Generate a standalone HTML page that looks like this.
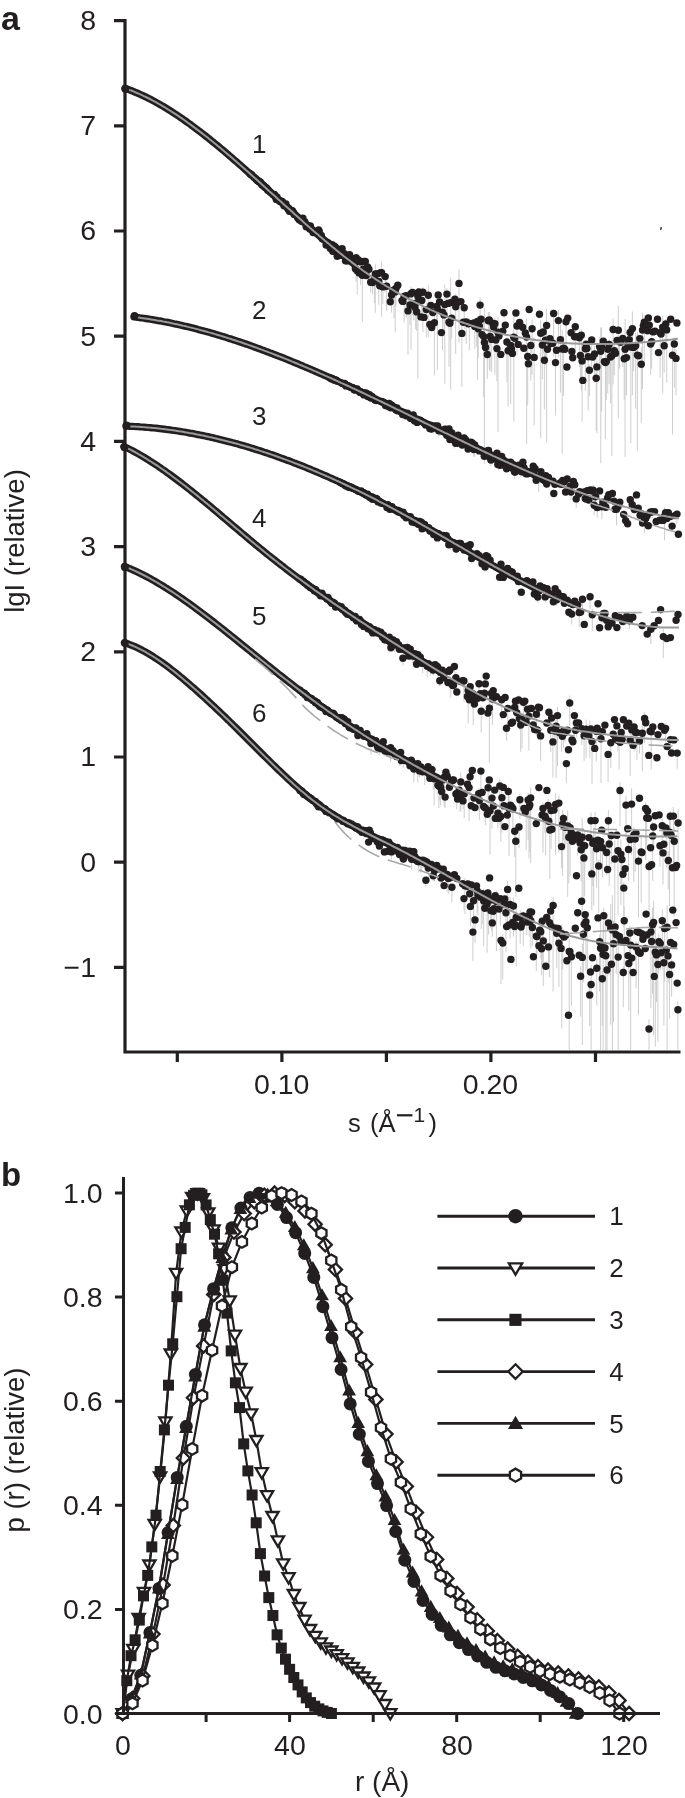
<!DOCTYPE html>
<html><head><meta charset="utf-8"><style>
html,body{margin:0;padding:0;background:#fff;width:685px;height:1798px;overflow:hidden;position:relative;font-family:"Liberation Sans",sans-serif}
</style></head><body>
<svg width="685" height="1798" viewBox="0 0 685 1798" style="position:absolute;left:0;top:0;will-change:transform"><rect width="685" height="1798" fill="#fff"/><path fill="none" stroke="#c8c8c8" stroke-width="0.9" d="M356.1 255.5V281.5M357.2 265.5V294.2M360.6 259.2V284.8M362.3 263.2V322.1M368.9 267.0V286.0M370.7 280.2V292.6M372.6 279.7V294.5M374.4 274.8V303.3M375.3 264.2V312.8M378.0 272.0V288.0M378.8 278.2V304.6M381.6 261.5V316.8M382.9 283.5V304.0M385.2 272.8V292.4M386.6 280.6V311.0M391.6 292.7V312.5M394.0 282.6V318.6M395.2 285.0V332.5M396.0 283.8V306.7M404.1 292.9V322.4M406.1 292.1V318.1M408.0 297.8V354.9M410.0 302.3V324.7M411.0 286.5V349.9M412.5 289.1V315.1M413.8 301.4V320.2M415.7 295.6V329.2M416.7 308.1V331.1M417.9 288.1V378.8M421.8 298.1V319.9M422.9 287.3V332.1M426.3 303.1V337.4M428.3 285.3V337.0M434.4 312.0V375.3M436.7 302.7V325.1M437.4 292.4V370.0M442.5 305.5V350.3M444.0 310.7V336.3M444.8 284.5V383.7M446.9 288.4V315.1M449.0 315.6V366.9M450.7 277.5V389.7M451.7 314.2V338.5M455.7 294.2V354.1M459.0 269.2V342.9M461.9 325.8V386.8M464.2 305.1V328.9M466.2 319.6V344.0M469.4 318.2V350.2M474.8 322.4V348.9M476.7 320.2V346.5M477.5 315.9V380.1M478.2 323.4V358.1M480.1 297.3V334.7M483.7 319.9V397.0M484.4 308.2V463.9M487.3 352.2V378.8M488.3 311.8V356.8M489.3 312.2V369.5M490.1 328.3V371.2M491.7 334.8V372.1M494.9 317.8V374.6M496.9 341.5V381.2M498.0 317.1V432.3M506.9 336.5V382.1M508.1 343.3V406.6M510.7 333.8V404.1M513.8 316.2V421.5M517.0 322.8V355.6M526.6 318.3V443.9M527.7 346.2V405.4M530.8 338.9V380.8M532.1 319.4V374.9M534.2 337.4V424.9M540.7 320.3V438.3M542.3 341.1V379.3M543.2 327.8V354.2M544.4 352.4V409.7M545.5 335.8V365.0M546.6 308.8V442.3M553.6 309.3V356.8M555.5 352.8V415.2M558.4 310.4V357.3M560.4 324.4V392.6M562.2 329.9V453.5M563.6 336.2V395.8M566.0 313.7V353.7M575.3 323.8V349.1M579.4 331.4V366.7M580.4 353.1V380.0M581.3 329.5V390.4M582.1 346.3V421.7M585.4 343.0V390.6M588.2 344.2V410.7M589.4 364.8V396.2M591.7 337.2V366.7M594.6 346.1V382.8M596.2 367.8V430.8M596.9 354.0V432.9M599.6 337.4V379.8M600.8 327.6V463.2M601.6 327.3V411.5M605.4 352.6V439.2M606.3 354.7V400.2M607.8 340.3V393.3M609.1 339.4V383.8M610.6 344.5V403.4M611.9 339.8V456.2M613.1 318.3V384.5M614.3 345.1V375.2M618.3 306.0V418.4M619.5 337.2V368.7M622.7 335.1V366.7M624.2 353.2V399.8M625.1 319.1V456.9M626.5 351.1V395.2M630.8 329.0V443.3M632.4 311.4V395.2M633.6 343.1V371.3M635.7 332.6V408.8M637.4 331.9V451.0M641.3 347.5V423.0M642.5 312.9V389.4M644.3 315.2V364.3M650.6 340.8V374.8M651.7 336.2V368.7M660.1 326.7V377.9M662.7 316.1V393.5M664.2 339.5V372.7M665.8 319.0V346.9M666.7 318.7V382.4M672.5 340.1V434.5M674.3 337.3V387.6M676.0 349.0V395.3M420.0 420.1V421.6M421.0 419.6V425.9M425.6 423.9V428.8M428.0 424.2V426.9M430.6 424.3V428.7M431.5 427.5V432.9M433.3 425.7V430.1M438.8 428.6V436.3M439.9 428.2V435.9M445.8 428.5V432.6M454.3 436.9V448.8M457.0 443.0V445.0M463.0 438.1V444.0M464.1 435.4V445.3M465.7 439.1V446.0M469.0 445.9V449.7M470.1 442.8V447.0M470.9 441.4V445.6M473.8 448.1V456.6M474.7 441.2V456.5M478.0 448.7V451.5M484.3 454.9V460.2M486.7 449.2V455.9M488.5 449.6V452.8M489.4 456.1V459.6M490.9 458.0V466.0M498.9 455.8V470.7M503.6 459.4V464.1M504.7 464.2V469.2M510.6 460.6V466.3M513.3 463.9V466.9M514.5 469.5V478.7M519.1 465.0V467.5M521.5 471.1V474.7M529.9 471.2V475.0M535.1 467.2V478.3M538.7 472.4V492.0M544.3 479.8V484.1M545.8 474.4V483.8M546.7 483.1V488.0M548.5 475.9V482.8M559.3 482.0V488.5M562.7 479.8V484.7M564.3 478.5V492.6M570.0 484.9V493.1M571.0 490.0V500.1M573.4 480.3V485.0M576.2 496.1V508.0M579.6 489.8V496.4M586.2 497.7V503.2M593.2 485.1V506.9M594.2 503.1V515.2M595.5 494.0V511.1M597.3 506.2V517.5M599.6 487.0V505.2M601.9 504.4V519.1M608.8 490.6V506.5M616.5 506.2V525.3M640.1 511.7V524.7M641.3 512.9V518.4M644.6 515.0V533.1M647.2 513.5V521.5M652.2 509.4V518.6M664.6 507.2V540.5M677.0 510.9V523.6M442.6 534.4V540.4M443.4 535.0V536.8M445.2 536.8V541.8M450.4 542.9V550.4M452.3 543.3V547.7M454.2 542.3V545.2M456.2 548.2V553.3M460.5 542.5V547.6M474.2 554.9V561.9M476.9 551.9V559.2M485.1 566.0V571.7M486.2 555.3V558.4M487.7 555.0V560.9M498.4 566.8V571.0M501.0 562.6V573.0M506.1 567.9V576.2M518.4 579.8V586.2M519.6 580.2V586.3M529.4 580.7V589.0M531.5 584.8V591.5M534.3 593.0V598.2M537.8 596.0V602.8M543.5 586.3V595.3M545.2 595.5V602.4M552.1 593.8V598.8M556.7 598.8V605.9M557.8 589.4V601.8M564.4 602.7V606.9M567.2 599.4V604.2M570.3 600.8V610.7M571.7 612.0V624.4M573.0 600.9V614.0M574.7 599.0V606.9M579.2 608.9V627.0M582.5 594.9V614.6M590.1 592.6V608.9M592.3 608.8V631.3M602.0 616.4V623.0M603.6 611.4V620.1M625.3 616.2V624.7M629.4 618.9V628.9M642.2 623.6V630.8M650.8 626.7V644.0M654.1 624.5V632.4M660.6 607.8V614.5M663.3 628.9V658.0M380.7 630.4V640.1M382.6 636.1V640.5M384.7 638.9V644.3M385.4 638.7V642.1M386.5 637.4V642.2M389.3 636.9V640.5M390.1 640.5V648.0M393.1 637.4V649.0M393.8 641.8V649.2M394.8 643.0V652.3M402.9 656.7V665.7M404.1 647.1V654.3M407.4 646.9V652.8M410.3 648.0V658.9M412.4 654.1V663.6M413.6 651.0V663.3M418.0 651.4V665.4M422.7 660.8V673.4M427.2 663.9V677.4M430.3 666.0V675.7M433.0 669.1V675.2M433.8 664.0V674.6M438.1 664.5V682.4M439.8 679.4V686.5M449.9 666.9V685.6M450.8 680.6V697.8M454.4 664.9V673.1M455.9 672.5V693.2M463.9 676.3V701.6M468.2 681.5V723.3M472.4 696.5V708.8M473.2 689.1V725.1M479.0 681.5V701.6M481.2 705.6V732.5M489.4 690.4V762.6M492.5 690.7V724.8M493.2 688.8V704.0M501.7 697.5V719.5M506.5 726.9V740.7M507.8 704.6V732.5M515.5 697.7V722.4M518.6 695.2V714.9M519.5 716.3V729.9M520.7 720.4V751.9M522.0 712.7V748.3M523.4 699.5V717.3M524.8 698.3V710.7M528.9 704.5V750.7M536.4 707.6V736.1M539.5 705.1V718.7M540.6 731.8V761.2M550.8 723.1V752.1M551.6 715.6V730.1M552.9 734.1V777.4M554.9 728.5V745.2M556.1 712.7V778.3M557.5 706.8V766.4M561.6 729.9V752.1M563.4 729.0V748.1M565.0 730.6V742.4M566.4 760.4V783.0M569.7 695.6V726.1M574.4 712.3V739.3M576.4 720.8V737.3M581.8 725.9V744.8M584.1 729.0V760.8M586.1 719.6V758.2M589.8 720.5V758.2M592.0 727.9V783.7M596.3 726.7V761.5M601.0 732.3V783.0M608.1 751.5V782.1M610.8 739.0V768.0M617.9 738.1V751.6M619.1 730.4V769.6M630.2 733.8V776.1M631.8 728.0V744.4M634.1 723.7V751.4M635.5 729.0V750.2M636.9 727.4V760.2M639.5 736.9V753.7M642.3 722.4V771.5M644.6 712.2V742.9M651.2 724.8V769.5M665.6 723.4V744.8M670.5 738.1V752.9M677.2 749.6V768.6M367.5 735.5V744.8M371.0 742.0V754.9M374.0 739.8V744.5M375.8 740.1V743.5M377.5 745.8V751.6M378.3 747.3V753.0M379.1 744.2V755.4M383.3 737.9V753.3M385.0 749.4V756.8M389.8 749.6V755.4M390.6 743.8V762.3M392.9 748.8V759.0M399.6 754.8V766.0M400.6 750.4V765.3M403.4 757.3V767.9M408.8 759.5V766.3M411.3 758.7V764.7M413.0 761.9V768.1M413.8 766.6V782.3M414.5 765.6V775.2M416.3 764.1V774.0M417.8 759.3V782.5M418.7 765.6V770.2M419.6 769.3V777.3M422.5 771.0V776.5M424.8 765.8V785.0M426.3 770.5V776.0M428.1 765.1V774.0M430.8 768.2V775.2M432.0 768.9V773.8M433.2 775.9V790.0M434.2 773.1V805.2M437.2 772.9V794.2M438.9 779.6V808.0M439.7 779.4V800.7M440.6 784.5V805.6M444.2 772.0V806.7M445.1 793.5V807.8M456.7 790.3V809.2M459.1 788.3V797.4M460.1 794.7V811.5M460.8 772.5V811.5M463.0 799.7V809.2M464.2 788.8V818.1M469.1 777.3V821.1M470.1 771.2V794.4M478.7 787.9V811.0M479.4 798.1V819.8M480.9 766.8V799.4M482.1 788.5V811.0M485.3 806.1V825.4M488.1 782.4V807.4M489.3 777.8V792.3M490.0 805.1V854.9M492.0 788.9V828.7M493.4 801.7V818.7M497.9 809.7V828.0M499.8 778.5V824.9M500.8 812.1V841.9M501.9 785.8V832.5M508.3 786.5V806.5M509.0 796.5V855.8M512.9 805.5V834.0M514.7 827.2V856.8M515.8 827.5V896.9M519.0 823.5V847.9M519.9 793.4V818.8M526.2 802.2V849.7M528.1 792.7V839.6M529.0 799.7V858.4M529.8 797.4V851.7M530.7 787.6V863.0M543.0 802.4V852.6M544.9 812.0V833.2M545.7 808.9V855.3M548.1 798.7V827.8M549.8 822.9V878.8M551.1 803.6V848.9M555.6 793.0V854.7M558.9 795.2V852.5M561.5 842.7V868.5M562.6 809.5V875.7M563.5 814.1V840.5M564.8 820.4V850.0M565.9 825.1V845.1M567.7 810.5V897.0M568.8 830.9V883.4M570.1 820.6V875.9M577.7 832.2V855.8M581.2 846.4V881.1M582.2 818.0V923.1M583.9 850.0V904.1M584.7 832.0V895.7M591.0 812.5V873.9M591.8 867.9V910.2M592.8 836.5V886.1M593.7 829.7V905.4M595.1 811.7V849.1M596.6 842.9V887.9M598.7 859.5V912.6M600.6 837.0V864.1M602.5 838.4V877.4M606.6 846.7V875.1M608.4 810.2V853.8M609.2 835.9V885.8M611.3 832.0V864.4M614.8 840.2V944.0M618.0 830.8V914.9M620.0 782.0V826.3M620.9 839.5V905.2M621.9 855.3V890.3M623.8 882.7V927.3M626.0 795.7V840.3M628.5 842.4V880.8M631.6 788.4V854.9M633.8 827.2V881.9M635.2 833.9V871.8M638.5 853.6V917.6M641.2 834.5V902.3M645.6 801.9V859.8M646.7 811.8V849.2M649.1 860.4V917.3M652.7 822.0V880.9M653.6 824.1V847.8M660.0 842.9V867.0M662.2 818.7V850.1M663.0 849.4V884.5M666.8 827.3V867.8M668.3 851.0V889.2M669.5 818.5V906.2M670.3 811.1V835.7M673.4 807.1V867.2M674.2 827.0V916.4M678.1 809.4V865.4M377.2 839.4V849.9M378.2 837.7V843.8M379.4 845.5V848.5M380.4 839.7V845.5M381.6 839.2V843.7M382.4 839.0V851.3M383.6 839.8V844.0M384.4 850.7V856.3M386.0 841.3V844.9M386.7 841.3V847.7M388.8 841.3V849.7M389.6 849.4V854.5M390.3 842.4V853.1M391.4 849.7V859.5M392.9 846.8V850.7M399.5 853.8V859.7M404.2 853.9V858.7M405.0 849.5V854.1M408.4 851.1V857.2M411.7 857.5V870.2M413.0 848.9V863.0M413.8 850.4V860.5M415.9 858.9V864.1M418.7 860.2V872.5M420.7 860.0V872.4M421.6 858.9V872.3M422.9 859.0V868.2M425.9 879.4V886.6M427.0 860.9V872.6M428.3 866.8V878.4M433.2 874.3V881.5M434.5 867.7V881.4M441.0 877.2V883.5M442.2 874.8V884.6M447.1 870.2V891.8M448.4 876.9V893.9M451.9 885.6V902.6M464.0 895.9V910.3M464.9 877.8V914.1M467.2 883.5V895.6M470.4 900.6V926.4M472.9 925.9V960.9M473.6 893.9V925.4M475.0 914.7V943.3M476.5 884.3V896.8M477.2 884.7V912.5M477.9 893.4V915.5M481.3 889.5V928.8M482.2 891.7V905.6M482.9 890.9V924.2M483.7 888.7V946.3M487.1 899.1V952.8M487.9 889.2V915.8M488.6 893.6V934.6M490.8 906.4V928.6M491.6 894.4V930.4M492.3 920.8V936.8M494.0 903.7V926.7M496.4 890.7V951.2M500.3 895.7V925.3M501.0 936.3V984.1M502.8 934.1V979.6M505.9 903.0V952.1M507.6 880.7V929.5M510.0 896.7V938.4M513.5 897.9V936.4M516.2 908.6V966.5M520.2 910.1V943.7M523.3 911.9V945.5M526.8 911.3V935.0M529.2 912.7V936.5M530.8 912.6V948.4M532.4 924.6V945.9M536.3 930.6V971.1M537.0 933.8V955.1M540.8 924.9V958.2M541.6 945.5V975.2M542.2 916.5V967.2M543.3 933.2V986.0M548.5 944.2V969.3M549.6 910.8V977.2M553.1 896.8V991.5M556.7 929.7V968.3M558.9 937.8V986.9M561.8 924.4V1028.5M562.7 927.9V969.6M569.2 938.2V1050.0M571.4 950.4V1005.8M580.6 966.3V1016.7M582.3 943.9V1045.0M583.4 925.9V982.0M585.9 917.3V970.1M587.3 915.5V972.8M589.7 988.0V1026.1M591.1 964.8V1050.0M596.8 958.4V1005.6M599.6 934.6V991.5M600.6 917.7V1050.0M602.3 970.6V1025.7M603.1 924.9V1050.0M603.8 907.5V951.7M605.8 923.8V1050.0M607.0 948.4V1050.0M610.7 903.8V1024.5M612.4 895.2V1050.0M613.5 920.7V1022.1M616.2 929.8V973.8M618.2 933.4V1050.0M623.3 966.6V1007.3M624.2 906.9V969.3M628.8 957.2V1010.7M629.8 926.0V958.4M630.7 929.8V1050.0M636.1 941.1V988.6M638.5 941.5V1015.0M649.0 1019.4V1050.0M650.9 916.5V1008.1M652.5 908.2V993.9M653.6 900.4V1035.4M655.3 925.1V1046.5M656.5 942.8V1002.3M657.9 956.0V1041.8M658.8 933.7V973.8M660.3 937.5V970.0M662.3 909.1V969.6M663.9 944.8V1025.5M664.6 923.8V981.5M667.1 905.4V1050.0M668.0 947.9V982.4M669.6 969.5V1018.9M671.6 959.5V996.6M677.9 1000.8V1050.0"/><g fill="none" stroke="#231f20" stroke-width="7.2" stroke-linecap="round" stroke-linejoin="round"><path d="M124.9 88.3 L126.9 89.0 L128.9 89.7 L130.9 90.5 L132.9 91.2 L134.9 92.1 L136.9 92.9 L138.9 93.8 L140.9 94.7 L142.9 95.6 L144.9 96.5 L146.9 97.5 L148.9 98.5 L150.9 99.5 L152.9 100.6 L154.9 101.7 L156.9 102.8 L158.9 103.9 L160.9 105.1 L162.9 106.2 L164.9 107.4 L166.9 108.6 L168.9 109.9 L170.9 111.1 L172.9 112.4 L174.9 113.7 L176.9 115.0 L178.9 116.4 L180.9 117.8 L182.9 119.1 L184.9 120.5 L186.9 122.0 L188.9 123.4 L190.9 124.8 L192.9 126.3 L194.9 127.8 L196.9 129.3 L198.9 130.8 L200.9 132.4 L202.9 133.9 L204.9 135.5 L206.9 137.0 L208.9 138.6 L210.9 140.2 L212.9 141.9 L214.9 143.5 L216.9 145.1 L218.9 146.8 L220.9 148.5 L222.9 150.1 L224.9 151.8 L226.9 153.5 L228.9 155.2 L230.9 156.9 L232.9 158.7 L234.9 160.4 L236.9 162.1 L238.9 163.9 L240.9 165.6 L242.9 167.4 L244.9 169.2 L246.9 171.0 L248.9 172.7 L250.9 174.5 L252.9 176.3 L254.9 178.1 L256.9 179.9 L258.9 181.7 L260.9 183.5 L262.9 185.3 L264.9 187.1 L266.9 189.0 L268.9 190.8 L270.9 192.6 L272.9 194.4 L274.9 196.2 L276.9 198.0 L278.9 199.9 L280.9 201.7 L282.9 203.5 L284.9 205.3 L286.9 207.1 L288.9 208.9 L290.9 210.7 L292.9 212.5 L294.9 214.3 L296.9 216.1 L298.9 217.9 L300.9 219.7 L302.9 221.5 L304.9 223.3 L306.9 225.0 L308.9 226.8 L310.9 228.6 L312.9 230.3 L314.9 232.0 L316.9 233.8 L318.9 235.5 L320.9 237.2 L322.9 238.9 L324.9 240.6 L326.9 242.3 L328.9 244.0 L330.9 245.6 L332.9 247.3 L334.9 248.9 L336.9 250.6 L338.9 252.2 L340.9 253.8 L342.9 255.4 L344.9 256.9"/><path d="M134.0 317.0 L136.0 317.2 L138.0 317.5 L140.0 317.8 L142.0 318.0 L144.0 318.3 L146.0 318.6 L148.0 318.9 L150.0 319.2 L152.0 319.5 L154.0 319.9 L156.0 320.2 L158.0 320.6 L160.0 320.9 L162.0 321.3 L164.0 321.7 L166.0 322.0 L168.0 322.4 L170.0 322.8 L172.0 323.2 L174.0 323.7 L176.0 324.1 L178.0 324.5 L180.0 325.0 L182.0 325.4 L184.0 325.9 L186.0 326.4 L188.0 326.8 L190.0 327.3 L192.0 327.8 L194.0 328.3 L196.0 328.8 L198.0 329.4 L200.0 329.9 L202.0 330.4 L204.0 331.0 L206.0 331.5 L208.0 332.1 L210.0 332.6 L212.0 333.2 L214.0 333.8 L216.0 334.4 L218.0 335.0 L220.0 335.6 L222.0 336.2 L224.0 336.8 L226.0 337.4 L228.0 338.1 L230.0 338.7 L232.0 339.3 L234.0 340.0 L236.0 340.6 L238.0 341.3 L240.0 342.0 L242.0 342.7 L244.0 343.3 L246.0 344.0 L248.0 344.7 L250.0 345.4 L252.0 346.1 L254.0 346.8 L256.0 347.6 L258.0 348.3 L260.0 349.0 L262.0 349.8 L264.0 350.5 L266.0 351.3 L268.0 352.0 L270.0 352.8 L272.0 353.5 L274.0 354.3 L276.0 355.1 L278.0 355.9 L280.0 356.6 L282.0 357.4 L284.0 358.2 L286.0 359.0 L288.0 359.8 L290.0 360.7 L292.0 361.5 L294.0 362.3 L296.0 363.1 L298.0 363.9 L300.0 364.8 L302.0 365.6 L304.0 366.5 L306.0 367.3 L308.0 368.2 L310.0 369.0 L312.0 369.9 L314.0 370.7 L316.0 371.6 L318.0 372.5 L320.0 373.4 L322.0 374.2 L324.0 375.1 L326.0 376.0 L328.0 376.9 L330.0 377.8 L332.0 378.7 L334.0 379.6 L336.0 380.5 L338.0 381.4 L340.0 382.3 L342.0 383.2 L344.0 384.1 L346.0 385.0 L348.0 386.0 L350.0 386.9 L352.0 387.8 L354.0 388.8 L356.0 389.7 L358.0 390.6 L360.0 391.6 L362.0 392.5 L364.0 393.4 L366.0 394.4 L368.0 395.3 L370.0 396.3 L372.0 397.2 L374.0 398.2 L376.0 399.1 L378.0 400.1 L380.0 401.1 L382.0 402.0 L384.0 403.0 L386.0 403.9 L388.0 404.9 L390.0 405.9 L392.0 406.8 L394.0 407.8 L396.0 408.8 L398.0 409.8 L400.0 410.7 L402.0 411.7 L404.0 412.7 L406.0 413.7 L408.0 414.6 L410.0 415.6 L412.0 416.6 L414.0 417.6 L416.0 418.6 L418.0 419.5 L420.0 420.5 L422.0 421.5 L424.0 422.5 L426.0 423.5 L428.0 424.4 L430.0 425.4 L432.0 426.4 L434.0 427.4 L436.0 428.4 L438.0 429.3 L440.0 430.3 L442.0 431.3 L444.0 432.3 L446.0 433.2 L448.0 434.2 L450.0 435.2 L452.0 436.2 L454.0 437.1 L456.0 438.1 L458.0 439.1 L460.0 440.1 L462.0 441.0 L464.0 442.0 L466.0 443.0 L468.0 443.9 L470.0 444.9 L472.0 445.8 L474.0 446.8 L476.0 447.7 L478.0 448.7 L480.0 449.6 L482.0 450.6 L484.0 451.5 L486.0 452.5 L488.0 453.4 L490.0 454.4 L492.0 455.3 L494.0 456.2 L496.0 457.2 L498.0 458.1 L500.0 459.0 L502.0 459.9 L504.0 460.8 L506.0 461.8 L508.0 462.7 L510.0 463.6 L512.0 464.5 L514.0 465.4 L516.0 466.3 L518.0 467.2 L520.0 468.0 L522.0 468.9 L524.0 469.8 L526.0 470.7 L528.0 471.6 L530.0 472.4 L532.0 473.3"/><path d="M126.0 426.2 L128.0 426.2 L130.0 426.3 L132.0 426.4 L134.0 426.5 L136.0 426.6 L138.0 426.7 L140.0 426.9 L142.0 427.0 L144.0 427.1 L146.0 427.3 L148.0 427.5 L150.0 427.6 L152.0 427.8 L154.0 428.0 L156.0 428.2 L158.0 428.4 L160.0 428.7 L162.0 428.9 L164.0 429.1 L166.0 429.4 L168.0 429.6 L170.0 429.9 L172.0 430.2 L174.0 430.5 L176.0 430.7 L178.0 431.0 L180.0 431.4 L182.0 431.7 L184.0 432.0 L186.0 432.3 L188.0 432.7 L190.0 433.1 L192.0 433.4 L194.0 433.8 L196.0 434.2 L198.0 434.6 L200.0 435.0 L202.0 435.4 L204.0 435.8 L206.0 436.2 L208.0 436.6 L210.0 437.1 L212.0 437.5 L214.0 438.0 L216.0 438.5 L218.0 438.9 L220.0 439.4 L222.0 439.9 L224.0 440.4 L226.0 440.9 L228.0 441.4 L230.0 441.9 L232.0 442.5 L234.0 443.0 L236.0 443.6 L238.0 444.1 L240.0 444.7 L242.0 445.3 L244.0 445.8 L246.0 446.4 L248.0 447.0 L250.0 447.6 L252.0 448.2 L254.0 448.8 L256.0 449.5 L258.0 450.1 L260.0 450.7 L262.0 451.4 L264.0 452.1 L266.0 452.7 L268.0 453.4 L270.0 454.1 L272.0 454.7 L274.0 455.4 L276.0 456.1 L278.0 456.9 L280.0 457.6 L282.0 458.3 L284.0 459.0 L286.0 459.8 L288.0 460.5 L290.0 461.2 L292.0 462.0 L294.0 462.8 L296.0 463.5 L298.0 464.3 L300.0 465.1 L302.0 465.9 L304.0 466.7 L306.0 467.5 L308.0 468.3 L310.0 469.1 L312.0 470.0 L314.0 470.8 L316.0 471.6 L318.0 472.5 L320.0 473.3 L322.0 474.2 L324.0 475.1 L326.0 475.9 L328.0 476.8 L330.0 477.7 L332.0 478.6 L334.0 479.5 L336.0 480.4 L338.0 481.3 L340.0 482.2 L342.0 483.1 L344.0 484.1 L346.0 485.0 L348.0 485.9 L350.0 486.9 L352.0 487.8 L354.0 488.8 L356.0 489.8 L358.0 490.7 L360.0 491.7 L362.0 492.7 L364.0 493.7 L366.0 494.7 L368.0 495.7 L370.0 496.7 L372.0 497.7 L374.0 498.7 L376.0 499.7 L378.0 500.8 L380.0 501.8 L382.0 502.8 L384.0 503.9 L386.0 504.9 L388.0 506.0 L390.0 507.0 L392.0 508.1 L394.0 509.2 L396.0 510.3 L398.0 511.3 L400.0 512.4 L402.0 513.5 L404.0 514.6 L406.0 515.7 L408.0 516.8 L410.0 517.9 L412.0 519.0 L414.0 520.2 L416.0 521.3 L418.0 522.4 L420.0 523.6 L422.0 524.7 L424.0 525.8 L426.0 527.0 L428.0 528.1 L430.0 529.3 L432.0 530.4 L434.0 531.6 L436.0 532.7 L438.0 533.9 L440.0 535.0 L442.0 536.2 L444.0 537.4 L446.0 538.5 L448.0 539.7 L450.0 540.8 L452.0 542.0 L454.0 543.2 L456.0 544.3 L458.0 545.5 L460.0 546.7 L462.0 547.8 L464.0 549.0 L466.0 550.1 L468.0 551.3 L470.0 552.5 L472.0 553.6 L474.0 554.8 L476.0 555.9 L478.0 557.1 L480.0 558.2 L482.0 559.4 L484.0 560.5 L486.0 561.7 L488.0 562.8 L490.0 563.9 L492.0 565.1 L494.0 566.2 L496.0 567.3 L498.0 568.4 L500.0 569.5 L502.0 570.7 L504.0 571.8 L506.0 572.9 L508.0 574.0 L510.0 575.0 L512.0 576.1 L514.0 577.2 L516.0 578.3 L518.0 579.4 L520.0 580.4 L522.0 581.5 L524.0 582.5 L526.0 583.6 L528.0 584.6 L530.0 585.6 L532.0 586.6 L534.0 587.7 L536.0 588.7 L538.0 589.7 L540.0 590.6"/><path d="M123.9 446.4 L125.9 447.4 L127.9 448.4 L129.9 449.4 L131.9 450.4 L133.9 451.5 L135.9 452.6 L137.9 453.7 L139.9 454.8 L141.9 456.0 L143.9 457.2 L145.9 458.4 L147.9 459.6 L149.9 460.9 L151.9 462.2 L153.9 463.5 L155.9 464.8 L157.9 466.1 L159.9 467.5 L161.9 468.9 L163.9 470.2 L165.9 471.7 L167.9 473.1 L169.9 474.5 L171.9 476.0 L173.9 477.5 L175.9 479.0 L177.9 480.5 L179.9 482.0 L181.9 483.5 L183.9 485.1 L185.9 486.6 L187.9 488.2 L189.9 489.8 L191.9 491.4 L193.9 493.0 L195.9 494.6 L197.9 496.2 L199.9 497.8 L201.9 499.5 L203.9 501.1 L205.9 502.8 L207.9 504.4 L209.9 506.1 L211.9 507.8 L213.9 509.5 L215.9 511.1 L217.9 512.8 L219.9 514.5 L221.9 516.2 L223.9 517.9 L225.9 519.6 L227.9 521.3 L229.9 523.0 L231.9 524.7 L233.9 526.4 L235.9 528.1 L237.9 529.8 L239.9 531.5 L241.9 533.2 L243.9 534.8 L245.9 536.5 L247.9 538.2 L249.9 539.9 L251.9 541.6 L253.9 543.2 L255.9 544.9 L257.9 546.5 L259.9 548.2 L261.9 549.8 L263.9 551.4 L265.9 553.1 L267.9 554.7 L269.9 556.3 L271.9 557.9 L273.9 559.4 L275.9 561.0 L277.9 562.6 L279.9 564.1 L281.9 565.7 L283.9 567.2 L285.9 568.8 L287.9 570.3 L289.9 571.8 L291.9 573.3 L293.9 574.8 L295.9 576.3 L297.9 577.8 L299.9 579.3 L301.9 580.7 L303.9 582.2 L305.9 583.7 L307.9 585.1 L309.9 586.6 L311.9 588.0 L313.9 589.4 L315.9 590.9 L317.9 592.3 L319.9 593.7 L321.9 595.1 L323.9 596.5 L325.9 597.9 L327.9 599.3 L329.9 600.7 L331.9 602.1 L333.9 603.5 L335.9 604.8 L337.9 606.2 L339.9 607.6 L341.9 608.9 L343.9 610.3 L345.9 611.6 L347.9 613.0 L349.9 614.3 L351.9 615.6 L353.9 617.0 L355.9 618.3 L357.9 619.6 L359.9 620.9 L361.9 622.3 L363.9 623.6 L365.9 624.9 L367.9 626.2 L369.9 627.5 L371.9 628.8 L373.9 630.1 L375.9 631.4 L377.9 632.7 L379.9 634.0 L381.9 635.3 L383.9 636.6 L385.9 637.9 L387.9 639.1 L389.9 640.4 L391.9 641.7 L393.9 643.0 L395.9 644.3 L397.9 645.6 L399.9 646.8 L401.9 648.1 L403.9 649.4 L405.9 650.7 L407.9 651.9 L409.9 653.2 L411.9 654.5 L413.9 655.7 L415.9 657.0 L417.9 658.3 L419.9 659.5 L421.9 660.8 L423.9 662.0 L425.9 663.3 L427.9 664.5 L429.9 665.8 L431.9 667.0 L433.9 668.2 L435.9 669.5 L437.9 670.7 L439.9 671.9 L441.9 673.1 L443.9 674.3"/><path d="M124.4 566.4 L126.4 567.2 L128.4 568.0 L130.4 568.8 L132.4 569.7 L134.4 570.6 L136.4 571.5 L138.4 572.5 L140.4 573.5 L142.4 574.5 L144.4 575.5 L146.4 576.5 L148.4 577.6 L150.4 578.7 L152.4 579.8 L154.4 580.9 L156.4 582.1 L158.4 583.3 L160.4 584.5 L162.4 585.7 L164.4 586.9 L166.4 588.2 L168.4 589.4 L170.4 590.7 L172.4 592.0 L174.4 593.3 L176.4 594.7 L178.4 596.0 L180.4 597.4 L182.4 598.8 L184.4 600.2 L186.4 601.6 L188.4 603.0 L190.4 604.4 L192.4 605.9 L194.4 607.3 L196.4 608.8 L198.4 610.3 L200.4 611.8 L202.4 613.3 L204.4 614.8 L206.4 616.3 L208.4 617.9 L210.4 619.4 L212.4 621.0 L214.4 622.5 L216.4 624.1 L218.4 625.6 L220.4 627.2 L222.4 628.8 L224.4 630.4 L226.4 632.0 L228.4 633.6 L230.4 635.2 L232.4 636.8 L234.4 638.4 L236.4 640.0 L238.4 641.6 L240.4 643.2 L242.4 644.9 L244.4 646.5 L246.4 648.1 L248.4 649.7 L250.4 651.3 L252.4 653.0 L254.4 654.6 L256.4 656.2 L258.4 657.8 L260.4 659.4 L262.4 661.0 L264.4 662.6 L266.4 664.2 L268.4 665.8 L270.4 667.4 L272.4 669.0 L274.4 670.6 L276.4 672.2 L278.4 673.8 L280.4 675.3 L282.4 676.9 L284.4 678.5 L286.4 680.1 L288.4 681.6 L290.4 683.2 L292.4 684.7 L294.4 686.3 L296.4 687.8 L298.4 689.3 L300.4 690.8 L302.4 692.4 L304.4 693.9 L306.4 695.4 L308.4 696.9 L310.4 698.4 L312.4 699.8 L314.4 701.3 L316.4 702.8 L318.4 704.2 L320.4 705.7 L322.4 707.1 L324.4 708.6 L326.4 710.0 L328.4 711.4 L330.4 712.8 L332.4 714.2 L334.4 715.6 L336.4 716.9 L338.4 718.3 L340.4 719.7 L342.4 721.0 L344.4 722.4 L346.4 723.7 L348.4 725.0 L350.4 726.4 L352.4 727.7 L354.4 729.0 L356.4 730.3 L358.4 731.6 L360.4 732.9 L362.4 734.2 L364.4 735.4 L366.4 736.7 L368.4 738.0 L370.4 739.2 L372.4 740.5 L374.4 741.7 L376.4 742.9 L378.4 744.2 L380.4 745.4 L382.4 746.6 L384.4 747.8 L386.4 749.0 L388.4 750.2 L390.4 751.4 L392.4 752.6 L394.4 753.8 L396.4 755.0 L398.4 756.1 L400.4 757.3 L402.4 758.5 L404.4 759.6 L406.4 760.8 L408.4 761.9 L410.4 763.1 L412.4 764.2 L414.4 765.3 L416.4 766.4 L418.4 767.5 L420.4 768.7 L422.4 769.8 L424.4 770.8 L426.4 771.9 L428.4 773.0 L430.4 774.1 L432.4 775.1 L434.4 776.2 L436.4 777.3 L438.4 778.3"/><path d="M124.4 642.6 L126.4 643.3 L128.4 644.0 L130.4 644.8 L132.4 645.6 L134.4 646.4 L136.4 647.3 L138.4 648.3 L140.4 649.3 L142.4 650.3 L144.4 651.4 L146.4 652.5 L148.4 653.7 L150.4 654.9 L152.4 656.1 L154.4 657.4 L156.4 658.7 L158.4 660.0 L160.4 661.4 L162.4 662.8 L164.4 664.2 L166.4 665.7 L168.4 667.2 L170.4 668.7 L172.4 670.3 L174.4 671.8 L176.4 673.4 L178.4 675.0 L180.4 676.7 L182.4 678.3 L184.4 680.0 L186.4 681.7 L188.4 683.4 L190.4 685.2 L192.4 686.9 L194.4 688.6 L196.4 690.4 L198.4 692.2 L200.4 694.0 L202.4 695.8 L204.4 697.6 L206.4 699.5 L208.4 701.3 L210.4 703.2 L212.4 705.0 L214.4 706.9 L216.4 708.8 L218.4 710.7 L220.4 712.6 L222.4 714.5 L224.4 716.4 L226.4 718.4 L228.4 720.3 L230.4 722.3 L232.4 724.2 L234.4 726.2 L236.4 728.1 L238.4 730.1 L240.4 732.1 L242.4 734.1 L244.4 736.1 L246.4 738.1 L248.4 740.1 L250.4 742.1 L252.4 744.1 L254.4 746.1 L256.4 748.1 L258.4 750.1 L260.4 752.1 L262.4 754.1 L264.4 756.1 L266.4 758.0 L268.4 760.0 L270.4 762.0 L272.4 764.0 L274.4 765.9 L276.4 767.9 L278.4 769.8 L280.4 771.7 L282.4 773.6 L284.4 775.5 L286.4 777.4 L288.4 779.3 L290.4 781.1 L292.4 783.0 L294.4 784.8 L296.4 786.6 L298.4 788.3 L300.4 790.1 L302.4 791.8 L304.4 793.5 L306.4 795.1 L308.4 796.8 L310.4 798.4 L312.4 800.0 L314.4 801.5 L316.4 803.1 L318.4 804.5 L320.4 806.0 L322.4 807.4 L324.4 808.8 L326.4 810.2 L328.4 811.5 L330.4 812.8 L332.4 814.1 L334.4 815.4 L336.4 816.6 L338.4 817.8 L340.4 819.0 L342.4 820.2 L344.4 821.3 L346.4 822.5 L348.4 823.6 L350.4 824.7 L352.4 825.8 L354.4 826.9 L356.4 827.9 L358.4 829.0 L360.4 830.0 L362.4 831.0 L364.4 832.0 L366.4 833.0 L368.4 834.0 L370.4 835.0 L372.4 836.0 L374.4 837.0 L376.4 838.0 L378.4 839.0 L380.4 840.0 L382.4 841.0 L384.4 842.0 L386.4 842.9 L388.4 843.9 L390.4 844.9 L392.4 845.9 L394.4 847.0 L396.4 848.0 L398.4 849.0 L400.4 850.1 L402.4 851.1 L404.4 852.1 L406.4 853.2 L408.4 854.3 L410.4 855.3 L412.4 856.4 L414.4 857.5 L416.4 858.6 L418.4 859.6 L420.4 860.7 L422.4 861.8 L424.4 862.9 L426.4 864.0 L428.4 865.1"/></g><g fill="#231f20"><circle cx="250.0" cy="173.7" r="3.7"/><circle cx="251.0" cy="174.5" r="3.7"/><circle cx="252.0" cy="175.3" r="3.7"/><circle cx="254.2" cy="177.5" r="3.7"/><circle cx="256.1" cy="179.0" r="3.7"/><circle cx="256.7" cy="180.0" r="3.7"/><circle cx="257.4" cy="180.4" r="3.7"/><circle cx="258.4" cy="181.3" r="3.7"/><circle cx="259.1" cy="181.2" r="3.7"/><circle cx="260.5" cy="182.1" r="3.7"/><circle cx="261.4" cy="183.8" r="3.7"/><circle cx="262.3" cy="185.0" r="3.7"/><circle cx="262.9" cy="185.2" r="3.7"/><circle cx="263.8" cy="185.8" r="3.7"/><circle cx="264.5" cy="186.9" r="3.7"/><circle cx="265.6" cy="187.5" r="3.7"/><circle cx="266.3" cy="187.9" r="3.7"/><circle cx="267.1" cy="188.6" r="3.7"/><circle cx="267.7" cy="190.3" r="3.7"/><circle cx="268.3" cy="190.1" r="3.7"/><circle cx="270.4" cy="192.2" r="3.7"/><circle cx="272.9" cy="194.4" r="3.7"/><circle cx="274.5" cy="194.5" r="3.7"/><circle cx="275.2" cy="196.6" r="3.7"/><circle cx="276.3" cy="199.4" r="3.7"/><circle cx="276.9" cy="196.9" r="3.7"/><circle cx="278.0" cy="199.6" r="3.7"/><circle cx="278.6" cy="200.2" r="3.7"/><circle cx="280.1" cy="201.6" r="3.7"/><circle cx="280.9" cy="201.0" r="3.7"/><circle cx="281.9" cy="202.1" r="3.7"/><circle cx="282.5" cy="201.8" r="3.7"/><circle cx="283.5" cy="203.8" r="3.7"/><circle cx="284.0" cy="205.8" r="3.7"/><circle cx="285.1" cy="204.6" r="3.7"/><circle cx="285.9" cy="203.9" r="3.7"/><circle cx="287.3" cy="207.3" r="3.7"/><circle cx="288.0" cy="208.9" r="3.7"/><circle cx="288.9" cy="208.4" r="3.7"/><circle cx="289.4" cy="211.3" r="3.7"/><circle cx="291.1" cy="210.5" r="3.7"/><circle cx="291.6" cy="211.2" r="3.7"/><circle cx="292.4" cy="210.6" r="3.7"/><circle cx="293.4" cy="212.4" r="3.7"/><circle cx="294.1" cy="214.5" r="3.7"/><circle cx="297.6" cy="217.7" r="3.7"/><circle cx="299.2" cy="219.8" r="3.7"/><circle cx="301.2" cy="220.9" r="3.7"/><circle cx="302.2" cy="221.4" r="3.7"/><circle cx="302.9" cy="218.1" r="3.7"/><circle cx="304.8" cy="221.6" r="3.7"/><circle cx="306.2" cy="226.8" r="3.7"/><circle cx="307.9" cy="226.3" r="3.7"/><circle cx="308.6" cy="226.2" r="3.7"/><circle cx="309.8" cy="229.0" r="3.7"/><circle cx="310.4" cy="226.0" r="3.7"/><circle cx="311.0" cy="228.7" r="3.7"/><circle cx="312.2" cy="230.3" r="3.7"/><circle cx="313.1" cy="232.6" r="3.7"/><circle cx="313.7" cy="231.2" r="3.7"/><circle cx="314.9" cy="231.8" r="3.7"/><circle cx="317.9" cy="231.9" r="3.7"/><circle cx="318.6" cy="230.0" r="3.7"/><circle cx="319.2" cy="231.5" r="3.7"/><circle cx="321.3" cy="235.4" r="3.7"/><circle cx="322.2" cy="238.7" r="3.7"/><circle cx="326.1" cy="245.1" r="3.7"/><circle cx="327.3" cy="242.5" r="3.7"/><circle cx="328.6" cy="243.3" r="3.7"/><circle cx="330.2" cy="248.3" r="3.7"/><circle cx="331.1" cy="245.7" r="3.7"/><circle cx="332.1" cy="244.6" r="3.7"/><circle cx="332.8" cy="251.3" r="3.7"/><circle cx="333.6" cy="251.1" r="3.7"/><circle cx="334.5" cy="246.2" r="3.7"/><circle cx="335.6" cy="247.5" r="3.7"/><circle cx="337.2" cy="256.3" r="3.7"/><circle cx="338.6" cy="250.8" r="3.7"/><circle cx="339.4" cy="249.4" r="3.7"/><circle cx="340.1" cy="250.5" r="3.7"/><circle cx="341.1" cy="255.4" r="3.7"/><circle cx="342.1" cy="248.6" r="3.7"/><circle cx="344.3" cy="253.7" r="3.7"/><circle cx="345.5" cy="260.8" r="3.7"/><circle cx="346.4" cy="258.5" r="3.7"/><circle cx="347.3" cy="260.9" r="3.7"/><circle cx="348.1" cy="258.8" r="3.7"/><circle cx="349.6" cy="254.6" r="3.7"/><circle cx="350.5" cy="258.7" r="3.7"/><circle cx="352.0" cy="262.3" r="3.7"/><circle cx="353.0" cy="260.5" r="3.7"/><circle cx="353.7" cy="262.1" r="3.7"/><circle cx="354.4" cy="264.4" r="3.7"/><circle cx="355.4" cy="268.8" r="3.7"/><circle cx="356.1" cy="257.8" r="3.7"/><circle cx="357.2" cy="270.8" r="3.7"/><circle cx="358.4" cy="259.9" r="3.7"/><circle cx="359.2" cy="272.9" r="3.7"/><circle cx="360.6" cy="261.9" r="3.7"/><circle cx="362.3" cy="275.2" r="3.7"/><circle cx="363.2" cy="269.1" r="3.7"/><circle cx="364.0" cy="261.5" r="3.7"/><circle cx="365.3" cy="261.4" r="3.7"/><circle cx="366.3" cy="275.6" r="3.7"/><circle cx="367.6" cy="267.0" r="3.7"/><circle cx="368.9" cy="269.3" r="3.7"/><circle cx="370.7" cy="282.2" r="3.7"/><circle cx="372.6" cy="282.5" r="3.7"/><circle cx="374.4" cy="278.2" r="3.7"/><circle cx="375.3" cy="273.9" r="3.7"/><circle cx="378.0" cy="273.6" r="3.7"/><circle cx="378.8" cy="281.5" r="3.7"/><circle cx="379.7" cy="285.7" r="3.7"/><circle cx="380.6" cy="272.6" r="3.7"/><circle cx="381.6" cy="272.7" r="3.7"/><circle cx="382.9" cy="286.9" r="3.7"/><circle cx="385.2" cy="276.6" r="3.7"/><circle cx="386.6" cy="286.2" r="3.7"/><circle cx="390.3" cy="301.7" r="3.7"/><circle cx="391.6" cy="294.9" r="3.7"/><circle cx="392.8" cy="290.4" r="3.7"/><circle cx="394.0" cy="290.2" r="3.7"/><circle cx="395.2" cy="291.9" r="3.7"/><circle cx="396.0" cy="288.4" r="3.7"/><circle cx="397.8" cy="285.2" r="3.7"/><circle cx="402.0" cy="300.6" r="3.7"/><circle cx="402.9" cy="301.4" r="3.7"/><circle cx="404.1" cy="296.4" r="3.7"/><circle cx="406.1" cy="295.6" r="3.7"/><circle cx="408.0" cy="310.9" r="3.7"/><circle cx="410.0" cy="305.0" r="3.7"/><circle cx="411.0" cy="293.7" r="3.7"/><circle cx="412.5" cy="292.4" r="3.7"/><circle cx="413.8" cy="304.6" r="3.7"/><circle cx="414.9" cy="307.2" r="3.7"/><circle cx="415.7" cy="303.1" r="3.7"/><circle cx="416.7" cy="311.9" r="3.7"/><circle cx="417.9" cy="296.6" r="3.7"/><circle cx="418.8" cy="291.9" r="3.7"/><circle cx="419.9" cy="292.6" r="3.7"/><circle cx="421.0" cy="316.9" r="3.7"/><circle cx="421.8" cy="300.5" r="3.7"/><circle cx="422.9" cy="292.2" r="3.7"/><circle cx="424.0" cy="317.4" r="3.7"/><circle cx="426.3" cy="309.6" r="3.7"/><circle cx="428.3" cy="295.2" r="3.7"/><circle cx="429.9" cy="324.5" r="3.7"/><circle cx="430.8" cy="305.5" r="3.7"/><circle cx="431.7" cy="327.6" r="3.7"/><circle cx="432.8" cy="312.6" r="3.7"/><circle cx="434.4" cy="322.8" r="3.7"/><circle cx="436.7" cy="306.5" r="3.7"/><circle cx="437.4" cy="309.1" r="3.7"/><circle cx="438.2" cy="294.9" r="3.7"/><circle cx="439.6" cy="302.0" r="3.7"/><circle cx="441.4" cy="332.6" r="3.7"/><circle cx="442.5" cy="312.1" r="3.7"/><circle cx="444.0" cy="314.9" r="3.7"/><circle cx="444.8" cy="304.6" r="3.7"/><circle cx="446.9" cy="294.1" r="3.7"/><circle cx="447.9" cy="303.4" r="3.7"/><circle cx="449.0" cy="322.3" r="3.7"/><circle cx="449.9" cy="323.3" r="3.7"/><circle cx="450.7" cy="302.6" r="3.7"/><circle cx="451.7" cy="318.1" r="3.7"/><circle cx="454.9" cy="299.3" r="3.7"/><circle cx="455.7" cy="306.7" r="3.7"/><circle cx="457.7" cy="302.2" r="3.7"/><circle cx="459.0" cy="283.4" r="3.7"/><circle cx="460.9" cy="301.6" r="3.7"/><circle cx="461.9" cy="333.4" r="3.7"/><circle cx="463.3" cy="322.3" r="3.7"/><circle cx="464.2" cy="307.8" r="3.7"/><circle cx="466.2" cy="321.9" r="3.7"/><circle cx="468.3" cy="323.7" r="3.7"/><circle cx="469.4" cy="323.4" r="3.7"/><circle cx="473.9" cy="323.0" r="3.7"/><circle cx="474.8" cy="326.4" r="3.7"/><circle cx="476.7" cy="323.0" r="3.7"/><circle cx="477.5" cy="321.5" r="3.7"/><circle cx="478.2" cy="328.8" r="3.7"/><circle cx="479.3" cy="325.9" r="3.7"/><circle cx="480.1" cy="305.1" r="3.7"/><circle cx="481.1" cy="319.3" r="3.7"/><circle cx="482.0" cy="334.6" r="3.7"/><circle cx="483.7" cy="336.6" r="3.7"/><circle cx="484.4" cy="342.5" r="3.7"/><circle cx="485.5" cy="347.4" r="3.7"/><circle cx="487.3" cy="354.5" r="3.7"/><circle cx="488.3" cy="320.7" r="3.7"/><circle cx="489.3" cy="319.9" r="3.7"/><circle cx="490.1" cy="336.4" r="3.7"/><circle cx="491.7" cy="339.4" r="3.7"/><circle cx="492.5" cy="323.1" r="3.7"/><circle cx="493.6" cy="327.1" r="3.7"/><circle cx="494.9" cy="323.7" r="3.7"/><circle cx="495.9" cy="340.0" r="3.7"/><circle cx="496.9" cy="348.6" r="3.7"/><circle cx="498.0" cy="332.3" r="3.7"/><circle cx="499.0" cy="335.9" r="3.7"/><circle cx="500.8" cy="354.4" r="3.7"/><circle cx="502.8" cy="331.2" r="3.7"/><circle cx="504.0" cy="312.8" r="3.7"/><circle cx="505.3" cy="325.1" r="3.7"/><circle cx="506.9" cy="342.0" r="3.7"/><circle cx="508.1" cy="350.8" r="3.7"/><circle cx="510.7" cy="345.4" r="3.7"/><circle cx="511.5" cy="349.0" r="3.7"/><circle cx="512.4" cy="353.4" r="3.7"/><circle cx="513.8" cy="337.2" r="3.7"/><circle cx="514.8" cy="338.2" r="3.7"/><circle cx="515.9" cy="313.0" r="3.7"/><circle cx="517.0" cy="326.0" r="3.7"/><circle cx="518.2" cy="344.4" r="3.7"/><circle cx="519.6" cy="322.5" r="3.7"/><circle cx="522.6" cy="327.2" r="3.7"/><circle cx="523.8" cy="348.3" r="3.7"/><circle cx="525.3" cy="332.9" r="3.7"/><circle cx="526.6" cy="337.0" r="3.7"/><circle cx="527.7" cy="356.4" r="3.7"/><circle cx="528.4" cy="363.7" r="3.7"/><circle cx="529.2" cy="309.5" r="3.7"/><circle cx="530.8" cy="345.5" r="3.7"/><circle cx="532.1" cy="328.7" r="3.7"/><circle cx="534.2" cy="357.4" r="3.7"/><circle cx="539.5" cy="314.2" r="3.7"/><circle cx="540.7" cy="333.3" r="3.7"/><circle cx="542.3" cy="345.1" r="3.7"/><circle cx="543.2" cy="332.0" r="3.7"/><circle cx="544.4" cy="360.3" r="3.7"/><circle cx="545.5" cy="340.2" r="3.7"/><circle cx="546.6" cy="325.5" r="3.7"/><circle cx="547.5" cy="349.2" r="3.7"/><circle cx="550.0" cy="338.6" r="3.7"/><circle cx="551.0" cy="343.6" r="3.7"/><circle cx="552.8" cy="343.2" r="3.7"/><circle cx="553.6" cy="313.5" r="3.7"/><circle cx="555.5" cy="362.6" r="3.7"/><circle cx="556.5" cy="350.2" r="3.7"/><circle cx="558.4" cy="320.6" r="3.7"/><circle cx="560.4" cy="339.7" r="3.7"/><circle cx="562.2" cy="349.1" r="3.7"/><circle cx="563.6" cy="348.1" r="3.7"/><circle cx="564.8" cy="349.2" r="3.7"/><circle cx="566.0" cy="321.7" r="3.7"/><circle cx="566.9" cy="367.0" r="3.7"/><circle cx="567.8" cy="318.1" r="3.7"/><circle cx="571.1" cy="332.8" r="3.7"/><circle cx="571.9" cy="351.5" r="3.7"/><circle cx="572.7" cy="357.8" r="3.7"/><circle cx="574.5" cy="336.7" r="3.7"/><circle cx="575.3" cy="326.7" r="3.7"/><circle cx="577.6" cy="336.7" r="3.7"/><circle cx="579.4" cy="337.7" r="3.7"/><circle cx="580.4" cy="355.5" r="3.7"/><circle cx="581.3" cy="335.3" r="3.7"/><circle cx="582.1" cy="360.9" r="3.7"/><circle cx="582.8" cy="380.4" r="3.7"/><circle cx="585.4" cy="348.7" r="3.7"/><circle cx="586.1" cy="344.2" r="3.7"/><circle cx="586.9" cy="348.6" r="3.7"/><circle cx="588.2" cy="356.7" r="3.7"/><circle cx="589.4" cy="370.3" r="3.7"/><circle cx="591.7" cy="339.9" r="3.7"/><circle cx="592.6" cy="357.0" r="3.7"/><circle cx="594.6" cy="353.9" r="3.7"/><circle cx="596.2" cy="378.2" r="3.7"/><circle cx="596.9" cy="366.9" r="3.7"/><circle cx="599.6" cy="346.8" r="3.7"/><circle cx="600.8" cy="351.3" r="3.7"/><circle cx="601.6" cy="346.2" r="3.7"/><circle cx="603.3" cy="341.3" r="3.7"/><circle cx="604.4" cy="361.6" r="3.7"/><circle cx="605.4" cy="362.6" r="3.7"/><circle cx="606.3" cy="361.6" r="3.7"/><circle cx="607.8" cy="349.2" r="3.7"/><circle cx="609.1" cy="344.4" r="3.7"/><circle cx="610.6" cy="357.0" r="3.7"/><circle cx="611.9" cy="355.8" r="3.7"/><circle cx="613.1" cy="329.5" r="3.7"/><circle cx="614.3" cy="350.6" r="3.7"/><circle cx="615.6" cy="353.2" r="3.7"/><circle cx="617.1" cy="340.4" r="3.7"/><circle cx="618.3" cy="330.2" r="3.7"/><circle cx="619.5" cy="341.4" r="3.7"/><circle cx="620.5" cy="342.2" r="3.7"/><circle cx="622.7" cy="338.5" r="3.7"/><circle cx="624.2" cy="358.7" r="3.7"/><circle cx="625.1" cy="349.2" r="3.7"/><circle cx="626.5" cy="357.6" r="3.7"/><circle cx="628.0" cy="344.0" r="3.7"/><circle cx="629.2" cy="339.8" r="3.7"/><circle cx="630.1" cy="332.4" r="3.7"/><circle cx="630.8" cy="347.1" r="3.7"/><circle cx="632.4" cy="328.6" r="3.7"/><circle cx="633.6" cy="347.4" r="3.7"/><circle cx="635.7" cy="345.7" r="3.7"/><circle cx="637.4" cy="355.1" r="3.7"/><circle cx="638.6" cy="355.7" r="3.7"/><circle cx="639.8" cy="338.6" r="3.7"/><circle cx="641.3" cy="364.2" r="3.7"/><circle cx="642.5" cy="330.1" r="3.7"/><circle cx="643.4" cy="325.6" r="3.7"/><circle cx="644.3" cy="322.3" r="3.7"/><circle cx="645.9" cy="324.9" r="3.7"/><circle cx="647.6" cy="330.8" r="3.7"/><circle cx="648.4" cy="318.0" r="3.7"/><circle cx="649.3" cy="325.3" r="3.7"/><circle cx="650.6" cy="344.1" r="3.7"/><circle cx="651.7" cy="341.6" r="3.7"/><circle cx="653.1" cy="331.9" r="3.7"/><circle cx="655.0" cy="331.1" r="3.7"/><circle cx="657.5" cy="319.2" r="3.7"/><circle cx="658.5" cy="352.6" r="3.7"/><circle cx="660.1" cy="332.7" r="3.7"/><circle cx="661.1" cy="334.1" r="3.7"/><circle cx="662.7" cy="327.1" r="3.7"/><circle cx="664.2" cy="345.7" r="3.7"/><circle cx="665.8" cy="323.9" r="3.7"/><circle cx="666.7" cy="329.9" r="3.7"/><circle cx="670.7" cy="319.2" r="3.7"/><circle cx="672.5" cy="355.3" r="3.7"/><circle cx="674.3" cy="344.0" r="3.7"/><circle cx="676.0" cy="358.4" r="3.7"/><circle cx="676.9" cy="323.0" r="3.7"/><circle cx="330.0" cy="377.8" r="3.7"/><circle cx="331.2" cy="378.8" r="3.7"/><circle cx="332.1" cy="378.4" r="3.7"/><circle cx="333.2" cy="379.2" r="3.7"/><circle cx="334.0" cy="380.0" r="3.7"/><circle cx="334.8" cy="379.6" r="3.7"/><circle cx="336.1" cy="380.2" r="3.7"/><circle cx="336.9" cy="380.9" r="3.7"/><circle cx="342.0" cy="383.2" r="3.7"/><circle cx="343.6" cy="383.6" r="3.7"/><circle cx="344.6" cy="383.4" r="3.7"/><circle cx="345.9" cy="385.9" r="3.7"/><circle cx="347.7" cy="385.6" r="3.7"/><circle cx="348.5" cy="386.0" r="3.7"/><circle cx="350.6" cy="387.1" r="3.7"/><circle cx="351.2" cy="387.4" r="3.7"/><circle cx="351.9" cy="387.4" r="3.7"/><circle cx="352.7" cy="387.8" r="3.7"/><circle cx="353.9" cy="389.5" r="3.7"/><circle cx="354.7" cy="390.1" r="3.7"/><circle cx="355.5" cy="389.3" r="3.7"/><circle cx="356.2" cy="389.4" r="3.7"/><circle cx="357.1" cy="388.9" r="3.7"/><circle cx="358.7" cy="390.9" r="3.7"/><circle cx="360.1" cy="392.4" r="3.7"/><circle cx="360.7" cy="391.7" r="3.7"/><circle cx="362.2" cy="392.9" r="3.7"/><circle cx="363.2" cy="392.8" r="3.7"/><circle cx="363.9" cy="394.9" r="3.7"/><circle cx="365.8" cy="392.9" r="3.7"/><circle cx="367.1" cy="393.6" r="3.7"/><circle cx="367.8" cy="396.5" r="3.7"/><circle cx="369.5" cy="394.6" r="3.7"/><circle cx="370.9" cy="398.0" r="3.7"/><circle cx="371.9" cy="396.5" r="3.7"/><circle cx="372.9" cy="398.0" r="3.7"/><circle cx="374.9" cy="399.9" r="3.7"/><circle cx="376.4" cy="400.6" r="3.7"/><circle cx="377.2" cy="400.4" r="3.7"/><circle cx="381.2" cy="401.5" r="3.7"/><circle cx="382.4" cy="401.8" r="3.7"/><circle cx="384.0" cy="402.5" r="3.7"/><circle cx="385.5" cy="405.5" r="3.7"/><circle cx="387.6" cy="405.0" r="3.7"/><circle cx="388.4" cy="406.5" r="3.7"/><circle cx="389.1" cy="403.5" r="3.7"/><circle cx="389.9" cy="404.5" r="3.7"/><circle cx="390.7" cy="407.8" r="3.7"/><circle cx="391.7" cy="405.1" r="3.7"/><circle cx="394.3" cy="407.3" r="3.7"/><circle cx="395.3" cy="408.8" r="3.7"/><circle cx="396.0" cy="409.9" r="3.7"/><circle cx="397.0" cy="408.0" r="3.7"/><circle cx="398.0" cy="410.9" r="3.7"/><circle cx="400.9" cy="411.7" r="3.7"/><circle cx="402.6" cy="414.6" r="3.7"/><circle cx="403.8" cy="412.5" r="3.7"/><circle cx="405.0" cy="414.4" r="3.7"/><circle cx="406.1" cy="415.8" r="3.7"/><circle cx="407.4" cy="413.3" r="3.7"/><circle cx="409.1" cy="416.1" r="3.7"/><circle cx="410.4" cy="418.3" r="3.7"/><circle cx="411.2" cy="418.1" r="3.7"/><circle cx="412.4" cy="417.1" r="3.7"/><circle cx="413.2" cy="415.0" r="3.7"/><circle cx="414.4" cy="420.7" r="3.7"/><circle cx="415.2" cy="420.5" r="3.7"/><circle cx="417.1" cy="422.4" r="3.7"/><circle cx="420.0" cy="420.3" r="3.7"/><circle cx="421.0" cy="420.9" r="3.7"/><circle cx="423.9" cy="422.8" r="3.7"/><circle cx="425.6" cy="424.9" r="3.7"/><circle cx="426.7" cy="424.2" r="3.7"/><circle cx="428.0" cy="424.9" r="3.7"/><circle cx="429.8" cy="428.6" r="3.7"/><circle cx="430.6" cy="425.2" r="3.7"/><circle cx="431.5" cy="429.0" r="3.7"/><circle cx="433.3" cy="426.5" r="3.7"/><circle cx="434.6" cy="425.9" r="3.7"/><circle cx="435.4" cy="426.4" r="3.7"/><circle cx="437.6" cy="425.9" r="3.7"/><circle cx="438.8" cy="430.7" r="3.7"/><circle cx="439.9" cy="429.7" r="3.7"/><circle cx="445.0" cy="429.3" r="3.7"/><circle cx="445.8" cy="429.5" r="3.7"/><circle cx="446.7" cy="435.2" r="3.7"/><circle cx="447.8" cy="433.3" r="3.7"/><circle cx="449.0" cy="428.9" r="3.7"/><circle cx="449.9" cy="439.5" r="3.7"/><circle cx="451.8" cy="432.9" r="3.7"/><circle cx="453.2" cy="439.6" r="3.7"/><circle cx="454.3" cy="439.1" r="3.7"/><circle cx="455.6" cy="443.2" r="3.7"/><circle cx="457.0" cy="443.3" r="3.7"/><circle cx="458.1" cy="435.2" r="3.7"/><circle cx="461.3" cy="440.2" r="3.7"/><circle cx="462.2" cy="445.1" r="3.7"/><circle cx="463.0" cy="439.1" r="3.7"/><circle cx="464.1" cy="438.0" r="3.7"/><circle cx="465.7" cy="440.0" r="3.7"/><circle cx="466.7" cy="444.8" r="3.7"/><circle cx="468.1" cy="449.1" r="3.7"/><circle cx="469.0" cy="446.9" r="3.7"/><circle cx="470.1" cy="443.6" r="3.7"/><circle cx="470.9" cy="442.2" r="3.7"/><circle cx="472.2" cy="442.9" r="3.7"/><circle cx="473.8" cy="449.5" r="3.7"/><circle cx="474.7" cy="445.0" r="3.7"/><circle cx="478.0" cy="449.3" r="3.7"/><circle cx="479.3" cy="450.9" r="3.7"/><circle cx="480.1" cy="450.0" r="3.7"/><circle cx="483.2" cy="452.1" r="3.7"/><circle cx="484.3" cy="456.2" r="3.7"/><circle cx="486.7" cy="451.1" r="3.7"/><circle cx="488.5" cy="450.5" r="3.7"/><circle cx="489.4" cy="457.0" r="3.7"/><circle cx="490.9" cy="460.1" r="3.7"/><circle cx="493.8" cy="458.8" r="3.7"/><circle cx="497.0" cy="453.2" r="3.7"/><circle cx="497.8" cy="464.5" r="3.7"/><circle cx="498.9" cy="457.6" r="3.7"/><circle cx="500.1" cy="465.3" r="3.7"/><circle cx="501.0" cy="464.2" r="3.7"/><circle cx="501.7" cy="456.5" r="3.7"/><circle cx="503.6" cy="460.1" r="3.7"/><circle cx="504.7" cy="465.6" r="3.7"/><circle cx="505.5" cy="463.1" r="3.7"/><circle cx="506.6" cy="468.8" r="3.7"/><circle cx="508.3" cy="462.4" r="3.7"/><circle cx="509.3" cy="463.9" r="3.7"/><circle cx="510.6" cy="462.2" r="3.7"/><circle cx="512.0" cy="467.9" r="3.7"/><circle cx="513.3" cy="464.7" r="3.7"/><circle cx="514.5" cy="471.8" r="3.7"/><circle cx="515.2" cy="472.1" r="3.7"/><circle cx="516.5" cy="466.2" r="3.7"/><circle cx="517.8" cy="467.1" r="3.7"/><circle cx="519.1" cy="465.3" r="3.7"/><circle cx="521.5" cy="471.8" r="3.7"/><circle cx="522.9" cy="462.2" r="3.7"/><circle cx="524.0" cy="467.7" r="3.7"/><circle cx="525.5" cy="473.3" r="3.7"/><circle cx="526.6" cy="473.9" r="3.7"/><circle cx="528.4" cy="473.6" r="3.7"/><circle cx="529.9" cy="471.6" r="3.7"/><circle cx="533.2" cy="466.1" r="3.7"/><circle cx="534.2" cy="474.7" r="3.7"/><circle cx="535.1" cy="468.8" r="3.7"/><circle cx="536.2" cy="480.2" r="3.7"/><circle cx="538.7" cy="477.2" r="3.7"/><circle cx="540.9" cy="471.6" r="3.7"/><circle cx="542.4" cy="479.2" r="3.7"/><circle cx="544.3" cy="480.6" r="3.7"/><circle cx="545.8" cy="475.8" r="3.7"/><circle cx="546.7" cy="484.0" r="3.7"/><circle cx="547.5" cy="480.8" r="3.7"/><circle cx="548.5" cy="477.5" r="3.7"/><circle cx="553.0" cy="481.1" r="3.7"/><circle cx="553.8" cy="493.5" r="3.7"/><circle cx="554.9" cy="484.3" r="3.7"/><circle cx="559.3" cy="483.8" r="3.7"/><circle cx="560.5" cy="482.8" r="3.7"/><circle cx="561.7" cy="484.2" r="3.7"/><circle cx="562.7" cy="480.5" r="3.7"/><circle cx="564.3" cy="481.6" r="3.7"/><circle cx="565.6" cy="492.0" r="3.7"/><circle cx="567.2" cy="478.9" r="3.7"/><circle cx="570.0" cy="486.2" r="3.7"/><circle cx="571.0" cy="492.1" r="3.7"/><circle cx="573.4" cy="481.4" r="3.7"/><circle cx="574.8" cy="484.7" r="3.7"/><circle cx="576.2" cy="498.9" r="3.7"/><circle cx="578.6" cy="494.1" r="3.7"/><circle cx="579.6" cy="491.6" r="3.7"/><circle cx="584.2" cy="492.0" r="3.7"/><circle cx="585.3" cy="498.6" r="3.7"/><circle cx="586.2" cy="498.9" r="3.7"/><circle cx="587.3" cy="490.6" r="3.7"/><circle cx="588.9" cy="500.1" r="3.7"/><circle cx="590.3" cy="489.9" r="3.7"/><circle cx="591.8" cy="491.0" r="3.7"/><circle cx="593.2" cy="490.2" r="3.7"/><circle cx="594.2" cy="505.2" r="3.7"/><circle cx="595.5" cy="496.7" r="3.7"/><circle cx="597.3" cy="507.6" r="3.7"/><circle cx="599.6" cy="490.9" r="3.7"/><circle cx="601.9" cy="506.8" r="3.7"/><circle cx="602.9" cy="502.3" r="3.7"/><circle cx="604.1" cy="505.5" r="3.7"/><circle cx="605.8" cy="507.3" r="3.7"/><circle cx="607.6" cy="497.9" r="3.7"/><circle cx="608.8" cy="494.7" r="3.7"/><circle cx="612.4" cy="493.4" r="3.7"/><circle cx="613.9" cy="501.1" r="3.7"/><circle cx="615.1" cy="509.3" r="3.7"/><circle cx="616.5" cy="509.2" r="3.7"/><circle cx="618.1" cy="506.6" r="3.7"/><circle cx="619.8" cy="502.1" r="3.7"/><circle cx="623.7" cy="514.5" r="3.7"/><circle cx="625.6" cy="520.6" r="3.7"/><circle cx="627.6" cy="523.7" r="3.7"/><circle cx="630.2" cy="499.7" r="3.7"/><circle cx="632.2" cy="504.6" r="3.7"/><circle cx="634.4" cy="509.5" r="3.7"/><circle cx="636.5" cy="494.9" r="3.7"/><circle cx="638.2" cy="508.3" r="3.7"/><circle cx="640.1" cy="515.2" r="3.7"/><circle cx="641.3" cy="513.8" r="3.7"/><circle cx="642.6" cy="523.0" r="3.7"/><circle cx="644.6" cy="519.5" r="3.7"/><circle cx="645.7" cy="518.5" r="3.7"/><circle cx="647.2" cy="515.4" r="3.7"/><circle cx="648.3" cy="525.8" r="3.7"/><circle cx="650.3" cy="512.3" r="3.7"/><circle cx="652.2" cy="511.7" r="3.7"/><circle cx="654.5" cy="511.6" r="3.7"/><circle cx="656.2" cy="521.5" r="3.7"/><circle cx="659.8" cy="520.3" r="3.7"/><circle cx="662.9" cy="520.4" r="3.7"/><circle cx="664.6" cy="515.9" r="3.7"/><circle cx="665.6" cy="512.8" r="3.7"/><circle cx="666.9" cy="518.5" r="3.7"/><circle cx="668.3" cy="512.6" r="3.7"/><circle cx="670.2" cy="516.5" r="3.7"/><circle cx="672.1" cy="526.1" r="3.7"/><circle cx="674.9" cy="515.6" r="3.7"/><circle cx="677.0" cy="514.1" r="3.7"/><circle cx="678.4" cy="534.3" r="3.7"/><circle cx="340.0" cy="482.2" r="3.7"/><circle cx="342.2" cy="483.4" r="3.7"/><circle cx="343.5" cy="483.9" r="3.7"/><circle cx="344.7" cy="485.0" r="3.7"/><circle cx="346.1" cy="486.0" r="3.7"/><circle cx="347.4" cy="486.0" r="3.7"/><circle cx="348.7" cy="487.2" r="3.7"/><circle cx="349.4" cy="486.6" r="3.7"/><circle cx="350.1" cy="487.6" r="3.7"/><circle cx="351.1" cy="487.2" r="3.7"/><circle cx="352.7" cy="488.2" r="3.7"/><circle cx="355.1" cy="489.1" r="3.7"/><circle cx="356.4" cy="489.7" r="3.7"/><circle cx="358.4" cy="491.3" r="3.7"/><circle cx="361.1" cy="491.0" r="3.7"/><circle cx="362.6" cy="492.7" r="3.7"/><circle cx="363.3" cy="492.7" r="3.7"/><circle cx="364.0" cy="493.0" r="3.7"/><circle cx="364.7" cy="494.1" r="3.7"/><circle cx="366.2" cy="495.1" r="3.7"/><circle cx="367.6" cy="494.3" r="3.7"/><circle cx="369.0" cy="496.4" r="3.7"/><circle cx="369.9" cy="497.5" r="3.7"/><circle cx="371.7" cy="496.7" r="3.7"/><circle cx="372.4" cy="499.3" r="3.7"/><circle cx="373.2" cy="497.7" r="3.7"/><circle cx="374.6" cy="498.5" r="3.7"/><circle cx="376.2" cy="498.5" r="3.7"/><circle cx="377.1" cy="499.2" r="3.7"/><circle cx="377.9" cy="501.7" r="3.7"/><circle cx="379.5" cy="501.4" r="3.7"/><circle cx="380.8" cy="503.1" r="3.7"/><circle cx="383.0" cy="503.4" r="3.7"/><circle cx="387.0" cy="507.5" r="3.7"/><circle cx="387.9" cy="504.8" r="3.7"/><circle cx="389.0" cy="507.4" r="3.7"/><circle cx="389.8" cy="509.2" r="3.7"/><circle cx="391.0" cy="507.0" r="3.7"/><circle cx="391.9" cy="506.7" r="3.7"/><circle cx="393.2" cy="509.0" r="3.7"/><circle cx="394.0" cy="509.3" r="3.7"/><circle cx="396.5" cy="510.7" r="3.7"/><circle cx="397.5" cy="510.1" r="3.7"/><circle cx="398.5" cy="512.1" r="3.7"/><circle cx="399.2" cy="510.9" r="3.7"/><circle cx="400.7" cy="512.2" r="3.7"/><circle cx="402.1" cy="512.6" r="3.7"/><circle cx="403.1" cy="512.1" r="3.7"/><circle cx="403.9" cy="515.6" r="3.7"/><circle cx="405.3" cy="515.7" r="3.7"/><circle cx="406.1" cy="517.8" r="3.7"/><circle cx="407.9" cy="517.1" r="3.7"/><circle cx="410.3" cy="516.7" r="3.7"/><circle cx="412.1" cy="521.9" r="3.7"/><circle cx="414.4" cy="522.5" r="3.7"/><circle cx="415.5" cy="520.7" r="3.7"/><circle cx="416.6" cy="522.4" r="3.7"/><circle cx="418.2" cy="524.2" r="3.7"/><circle cx="419.3" cy="521.4" r="3.7"/><circle cx="420.3" cy="524.3" r="3.7"/><circle cx="421.3" cy="522.1" r="3.7"/><circle cx="422.1" cy="528.7" r="3.7"/><circle cx="423.2" cy="524.2" r="3.7"/><circle cx="424.6" cy="524.5" r="3.7"/><circle cx="426.0" cy="527.7" r="3.7"/><circle cx="428.6" cy="527.7" r="3.7"/><circle cx="429.9" cy="531.0" r="3.7"/><circle cx="432.6" cy="531.9" r="3.7"/><circle cx="433.7" cy="534.6" r="3.7"/><circle cx="437.4" cy="537.9" r="3.7"/><circle cx="438.5" cy="533.7" r="3.7"/><circle cx="442.6" cy="535.8" r="3.7"/><circle cx="443.4" cy="535.5" r="3.7"/><circle cx="445.2" cy="538.1" r="3.7"/><circle cx="446.3" cy="535.8" r="3.7"/><circle cx="447.7" cy="538.7" r="3.7"/><circle cx="448.8" cy="544.8" r="3.7"/><circle cx="450.4" cy="544.0" r="3.7"/><circle cx="452.3" cy="544.4" r="3.7"/><circle cx="454.2" cy="543.0" r="3.7"/><circle cx="456.2" cy="549.1" r="3.7"/><circle cx="457.7" cy="545.5" r="3.7"/><circle cx="458.9" cy="543.4" r="3.7"/><circle cx="460.5" cy="543.4" r="3.7"/><circle cx="462.5" cy="547.5" r="3.7"/><circle cx="464.1" cy="550.0" r="3.7"/><circle cx="465.3" cy="547.6" r="3.7"/><circle cx="466.3" cy="546.1" r="3.7"/><circle cx="468.4" cy="550.4" r="3.7"/><circle cx="470.2" cy="544.7" r="3.7"/><circle cx="471.6" cy="558.5" r="3.7"/><circle cx="474.2" cy="556.1" r="3.7"/><circle cx="476.9" cy="553.7" r="3.7"/><circle cx="479.3" cy="555.7" r="3.7"/><circle cx="482.0" cy="563.7" r="3.7"/><circle cx="484.0" cy="562.8" r="3.7"/><circle cx="485.1" cy="566.9" r="3.7"/><circle cx="486.2" cy="555.7" r="3.7"/><circle cx="487.7" cy="556.6" r="3.7"/><circle cx="488.9" cy="562.5" r="3.7"/><circle cx="490.1" cy="560.3" r="3.7"/><circle cx="498.4" cy="568.0" r="3.7"/><circle cx="499.6" cy="577.2" r="3.7"/><circle cx="501.0" cy="564.3" r="3.7"/><circle cx="502.3" cy="571.1" r="3.7"/><circle cx="503.3" cy="577.4" r="3.7"/><circle cx="506.1" cy="569.9" r="3.7"/><circle cx="507.6" cy="568.5" r="3.7"/><circle cx="510.5" cy="571.5" r="3.7"/><circle cx="512.3" cy="572.1" r="3.7"/><circle cx="517.3" cy="576.3" r="3.7"/><circle cx="518.4" cy="581.4" r="3.7"/><circle cx="519.6" cy="580.9" r="3.7"/><circle cx="521.3" cy="592.2" r="3.7"/><circle cx="526.9" cy="580.6" r="3.7"/><circle cx="529.4" cy="582.8" r="3.7"/><circle cx="531.5" cy="585.7" r="3.7"/><circle cx="532.9" cy="581.9" r="3.7"/><circle cx="534.3" cy="594.1" r="3.7"/><circle cx="535.5" cy="594.0" r="3.7"/><circle cx="537.8" cy="597.1" r="3.7"/><circle cx="540.1" cy="585.9" r="3.7"/><circle cx="542.4" cy="588.3" r="3.7"/><circle cx="543.5" cy="587.7" r="3.7"/><circle cx="545.2" cy="596.9" r="3.7"/><circle cx="547.1" cy="588.8" r="3.7"/><circle cx="549.0" cy="593.4" r="3.7"/><circle cx="550.1" cy="594.2" r="3.7"/><circle cx="552.1" cy="594.9" r="3.7"/><circle cx="553.4" cy="601.8" r="3.7"/><circle cx="555.1" cy="588.7" r="3.7"/><circle cx="556.7" cy="599.7" r="3.7"/><circle cx="557.8" cy="592.6" r="3.7"/><circle cx="560.6" cy="596.1" r="3.7"/><circle cx="563.3" cy="596.7" r="3.7"/><circle cx="564.4" cy="603.3" r="3.7"/><circle cx="567.2" cy="600.2" r="3.7"/><circle cx="568.9" cy="612.3" r="3.7"/><circle cx="570.3" cy="603.3" r="3.7"/><circle cx="571.7" cy="614.1" r="3.7"/><circle cx="573.0" cy="604.5" r="3.7"/><circle cx="574.7" cy="601.2" r="3.7"/><circle cx="577.7" cy="604.8" r="3.7"/><circle cx="579.2" cy="612.5" r="3.7"/><circle cx="580.7" cy="611.9" r="3.7"/><circle cx="582.5" cy="599.3" r="3.7"/><circle cx="584.3" cy="624.4" r="3.7"/><circle cx="590.1" cy="596.7" r="3.7"/><circle cx="592.3" cy="614.8" r="3.7"/><circle cx="598.0" cy="603.8" r="3.7"/><circle cx="599.6" cy="627.7" r="3.7"/><circle cx="602.0" cy="617.7" r="3.7"/><circle cx="603.6" cy="613.4" r="3.7"/><circle cx="605.0" cy="613.4" r="3.7"/><circle cx="606.6" cy="620.3" r="3.7"/><circle cx="608.2" cy="626.8" r="3.7"/><circle cx="612.0" cy="623.1" r="3.7"/><circle cx="615.3" cy="615.7" r="3.7"/><circle cx="616.9" cy="627.6" r="3.7"/><circle cx="619.6" cy="617.4" r="3.7"/><circle cx="622.7" cy="621.5" r="3.7"/><circle cx="625.3" cy="618.5" r="3.7"/><circle cx="626.8" cy="616.3" r="3.7"/><circle cx="629.4" cy="620.7" r="3.7"/><circle cx="630.8" cy="617.6" r="3.7"/><circle cx="632.8" cy="617.3" r="3.7"/><circle cx="642.2" cy="625.6" r="3.7"/><circle cx="647.2" cy="634.1" r="3.7"/><circle cx="650.8" cy="629.3" r="3.7"/><circle cx="654.1" cy="625.8" r="3.7"/><circle cx="658.5" cy="620.4" r="3.7"/><circle cx="660.6" cy="609.6" r="3.7"/><circle cx="663.3" cy="636.6" r="3.7"/><circle cx="666.7" cy="638.6" r="3.7"/><circle cx="670.4" cy="637.6" r="3.7"/><circle cx="676.1" cy="620.2" r="3.7"/><circle cx="678.0" cy="614.5" r="3.7"/><circle cx="300.0" cy="579.3" r="3.7"/><circle cx="300.7" cy="579.1" r="3.7"/><circle cx="303.1" cy="581.3" r="3.7"/><circle cx="303.8" cy="581.9" r="3.7"/><circle cx="304.5" cy="582.6" r="3.7"/><circle cx="306.1" cy="583.8" r="3.7"/><circle cx="306.8" cy="584.1" r="3.7"/><circle cx="307.6" cy="585.2" r="3.7"/><circle cx="308.7" cy="586.0" r="3.7"/><circle cx="309.6" cy="586.3" r="3.7"/><circle cx="310.3" cy="587.5" r="3.7"/><circle cx="311.1" cy="587.7" r="3.7"/><circle cx="312.2" cy="588.3" r="3.7"/><circle cx="313.2" cy="588.9" r="3.7"/><circle cx="314.3" cy="590.8" r="3.7"/><circle cx="315.2" cy="589.5" r="3.7"/><circle cx="315.9" cy="590.2" r="3.7"/><circle cx="316.8" cy="591.9" r="3.7"/><circle cx="318.8" cy="593.4" r="3.7"/><circle cx="320.5" cy="595.8" r="3.7"/><circle cx="321.9" cy="593.2" r="3.7"/><circle cx="323.0" cy="595.5" r="3.7"/><circle cx="327.0" cy="599.1" r="3.7"/><circle cx="327.9" cy="597.5" r="3.7"/><circle cx="329.2" cy="599.7" r="3.7"/><circle cx="330.4" cy="601.5" r="3.7"/><circle cx="331.8" cy="603.3" r="3.7"/><circle cx="332.8" cy="602.1" r="3.7"/><circle cx="334.5" cy="603.3" r="3.7"/><circle cx="335.6" cy="607.1" r="3.7"/><circle cx="338.7" cy="606.0" r="3.7"/><circle cx="341.2" cy="606.6" r="3.7"/><circle cx="342.0" cy="608.4" r="3.7"/><circle cx="343.1" cy="609.8" r="3.7"/><circle cx="344.7" cy="610.2" r="3.7"/><circle cx="345.7" cy="612.4" r="3.7"/><circle cx="346.4" cy="612.3" r="3.7"/><circle cx="347.4" cy="614.2" r="3.7"/><circle cx="349.1" cy="613.8" r="3.7"/><circle cx="351.2" cy="615.4" r="3.7"/><circle cx="353.3" cy="617.7" r="3.7"/><circle cx="355.1" cy="616.5" r="3.7"/><circle cx="356.1" cy="619.6" r="3.7"/><circle cx="356.8" cy="620.9" r="3.7"/><circle cx="358.4" cy="619.5" r="3.7"/><circle cx="359.5" cy="619.5" r="3.7"/><circle cx="360.7" cy="621.2" r="3.7"/><circle cx="361.4" cy="624.6" r="3.7"/><circle cx="363.7" cy="626.4" r="3.7"/><circle cx="364.7" cy="624.8" r="3.7"/><circle cx="365.4" cy="625.1" r="3.7"/><circle cx="366.6" cy="625.8" r="3.7"/><circle cx="368.0" cy="628.8" r="3.7"/><circle cx="369.4" cy="626.6" r="3.7"/><circle cx="371.3" cy="630.4" r="3.7"/><circle cx="372.1" cy="630.5" r="3.7"/><circle cx="372.8" cy="632.9" r="3.7"/><circle cx="373.5" cy="631.8" r="3.7"/><circle cx="374.5" cy="629.8" r="3.7"/><circle cx="375.3" cy="631.8" r="3.7"/><circle cx="376.7" cy="632.7" r="3.7"/><circle cx="377.7" cy="631.0" r="3.7"/><circle cx="378.4" cy="632.2" r="3.7"/><circle cx="380.7" cy="632.2" r="3.7"/><circle cx="382.6" cy="637.2" r="3.7"/><circle cx="383.4" cy="634.9" r="3.7"/><circle cx="384.7" cy="639.7" r="3.7"/><circle cx="385.4" cy="639.5" r="3.7"/><circle cx="386.5" cy="638.4" r="3.7"/><circle cx="388.2" cy="640.4" r="3.7"/><circle cx="389.3" cy="637.3" r="3.7"/><circle cx="390.1" cy="642.1" r="3.7"/><circle cx="390.9" cy="647.8" r="3.7"/><circle cx="391.6" cy="646.3" r="3.7"/><circle cx="393.1" cy="640.0" r="3.7"/><circle cx="393.8" cy="643.6" r="3.7"/><circle cx="394.8" cy="644.9" r="3.7"/><circle cx="396.4" cy="641.6" r="3.7"/><circle cx="398.5" cy="644.6" r="3.7"/><circle cx="399.4" cy="649.3" r="3.7"/><circle cx="400.1" cy="648.5" r="3.7"/><circle cx="400.9" cy="649.1" r="3.7"/><circle cx="402.9" cy="658.3" r="3.7"/><circle cx="404.1" cy="648.0" r="3.7"/><circle cx="407.4" cy="647.5" r="3.7"/><circle cx="408.9" cy="656.0" r="3.7"/><circle cx="410.3" cy="649.1" r="3.7"/><circle cx="412.4" cy="656.1" r="3.7"/><circle cx="413.6" cy="654.0" r="3.7"/><circle cx="414.9" cy="653.7" r="3.7"/><circle cx="416.6" cy="664.2" r="3.7"/><circle cx="418.0" cy="654.8" r="3.7"/><circle cx="418.8" cy="661.3" r="3.7"/><circle cx="420.3" cy="657.1" r="3.7"/><circle cx="421.8" cy="663.0" r="3.7"/><circle cx="422.7" cy="663.4" r="3.7"/><circle cx="427.2" cy="666.2" r="3.7"/><circle cx="428.3" cy="663.6" r="3.7"/><circle cx="430.3" cy="667.9" r="3.7"/><circle cx="432.1" cy="665.4" r="3.7"/><circle cx="433.0" cy="670.0" r="3.7"/><circle cx="433.8" cy="666.2" r="3.7"/><circle cx="435.1" cy="664.7" r="3.7"/><circle cx="435.9" cy="667.0" r="3.7"/><circle cx="437.3" cy="666.4" r="3.7"/><circle cx="438.1" cy="668.2" r="3.7"/><circle cx="439.8" cy="680.7" r="3.7"/><circle cx="440.6" cy="672.6" r="3.7"/><circle cx="442.3" cy="670.3" r="3.7"/><circle cx="443.8" cy="677.7" r="3.7"/><circle cx="447.9" cy="682.5" r="3.7"/><circle cx="448.9" cy="671.3" r="3.7"/><circle cx="449.9" cy="670.0" r="3.7"/><circle cx="450.8" cy="683.3" r="3.7"/><circle cx="452.6" cy="685.5" r="3.7"/><circle cx="453.6" cy="685.0" r="3.7"/><circle cx="454.4" cy="666.5" r="3.7"/><circle cx="455.9" cy="677.6" r="3.7"/><circle cx="456.8" cy="692.0" r="3.7"/><circle cx="460.7" cy="681.6" r="3.7"/><circle cx="462.7" cy="680.8" r="3.7"/><circle cx="463.9" cy="681.0" r="3.7"/><circle cx="467.4" cy="696.5" r="3.7"/><circle cx="468.2" cy="690.4" r="3.7"/><circle cx="469.3" cy="699.8" r="3.7"/><circle cx="470.2" cy="686.8" r="3.7"/><circle cx="472.4" cy="698.6" r="3.7"/><circle cx="473.2" cy="693.9" r="3.7"/><circle cx="474.4" cy="704.0" r="3.7"/><circle cx="477.6" cy="698.3" r="3.7"/><circle cx="479.0" cy="683.7" r="3.7"/><circle cx="480.4" cy="693.6" r="3.7"/><circle cx="481.2" cy="711.2" r="3.7"/><circle cx="482.8" cy="697.7" r="3.7"/><circle cx="483.5" cy="696.3" r="3.7"/><circle cx="484.5" cy="693.2" r="3.7"/><circle cx="485.3" cy="683.9" r="3.7"/><circle cx="486.2" cy="676.1" r="3.7"/><circle cx="487.9" cy="713.1" r="3.7"/><circle cx="489.4" cy="708.1" r="3.7"/><circle cx="491.4" cy="693.4" r="3.7"/><circle cx="492.5" cy="699.1" r="3.7"/><circle cx="493.2" cy="690.6" r="3.7"/><circle cx="496.5" cy="696.8" r="3.7"/><circle cx="501.7" cy="699.7" r="3.7"/><circle cx="503.3" cy="714.6" r="3.7"/><circle cx="505.1" cy="697.5" r="3.7"/><circle cx="506.5" cy="728.2" r="3.7"/><circle cx="507.8" cy="708.4" r="3.7"/><circle cx="511.2" cy="723.3" r="3.7"/><circle cx="512.5" cy="722.2" r="3.7"/><circle cx="514.6" cy="707.5" r="3.7"/><circle cx="515.5" cy="701.2" r="3.7"/><circle cx="516.7" cy="712.6" r="3.7"/><circle cx="518.6" cy="700.0" r="3.7"/><circle cx="519.5" cy="718.8" r="3.7"/><circle cx="520.7" cy="725.0" r="3.7"/><circle cx="522.0" cy="719.2" r="3.7"/><circle cx="523.4" cy="702.3" r="3.7"/><circle cx="524.8" cy="701.1" r="3.7"/><circle cx="526.1" cy="722.3" r="3.7"/><circle cx="527.6" cy="709.2" r="3.7"/><circle cx="528.9" cy="716.1" r="3.7"/><circle cx="531.4" cy="708.4" r="3.7"/><circle cx="533.2" cy="724.9" r="3.7"/><circle cx="534.6" cy="729.6" r="3.7"/><circle cx="536.4" cy="714.2" r="3.7"/><circle cx="537.3" cy="729.9" r="3.7"/><circle cx="538.4" cy="707.3" r="3.7"/><circle cx="539.5" cy="707.8" r="3.7"/><circle cx="540.6" cy="735.9" r="3.7"/><circle cx="546.8" cy="723.0" r="3.7"/><circle cx="548.9" cy="712.3" r="3.7"/><circle cx="550.8" cy="730.3" r="3.7"/><circle cx="551.6" cy="718.0" r="3.7"/><circle cx="552.9" cy="741.9" r="3.7"/><circle cx="554.9" cy="731.0" r="3.7"/><circle cx="556.1" cy="726.2" r="3.7"/><circle cx="557.5" cy="715.6" r="3.7"/><circle cx="559.3" cy="732.4" r="3.7"/><circle cx="561.6" cy="734.1" r="3.7"/><circle cx="562.4" cy="736.3" r="3.7"/><circle cx="563.4" cy="731.1" r="3.7"/><circle cx="565.0" cy="732.5" r="3.7"/><circle cx="566.4" cy="763.6" r="3.7"/><circle cx="567.4" cy="730.3" r="3.7"/><circle cx="568.5" cy="749.8" r="3.7"/><circle cx="569.7" cy="703.0" r="3.7"/><circle cx="572.0" cy="739.9" r="3.7"/><circle cx="572.9" cy="741.8" r="3.7"/><circle cx="574.4" cy="715.6" r="3.7"/><circle cx="575.5" cy="730.3" r="3.7"/><circle cx="576.4" cy="722.9" r="3.7"/><circle cx="578.6" cy="723.0" r="3.7"/><circle cx="581.8" cy="728.8" r="3.7"/><circle cx="584.1" cy="735.7" r="3.7"/><circle cx="586.1" cy="729.2" r="3.7"/><circle cx="587.1" cy="730.9" r="3.7"/><circle cx="588.8" cy="735.9" r="3.7"/><circle cx="589.8" cy="729.6" r="3.7"/><circle cx="590.8" cy="729.0" r="3.7"/><circle cx="592.0" cy="741.5" r="3.7"/><circle cx="594.7" cy="748.4" r="3.7"/><circle cx="596.3" cy="731.2" r="3.7"/><circle cx="597.2" cy="728.2" r="3.7"/><circle cx="598.6" cy="731.3" r="3.7"/><circle cx="601.0" cy="738.7" r="3.7"/><circle cx="602.3" cy="731.6" r="3.7"/><circle cx="604.9" cy="725.1" r="3.7"/><circle cx="608.1" cy="754.4" r="3.7"/><circle cx="610.8" cy="742.8" r="3.7"/><circle cx="613.2" cy="734.3" r="3.7"/><circle cx="614.5" cy="719.6" r="3.7"/><circle cx="615.5" cy="739.1" r="3.7"/><circle cx="616.9" cy="725.9" r="3.7"/><circle cx="617.9" cy="740.6" r="3.7"/><circle cx="619.1" cy="740.1" r="3.7"/><circle cx="620.2" cy="742.2" r="3.7"/><circle cx="621.2" cy="732.4" r="3.7"/><circle cx="622.1" cy="739.4" r="3.7"/><circle cx="623.4" cy="719.7" r="3.7"/><circle cx="626.7" cy="726.1" r="3.7"/><circle cx="628.8" cy="723.2" r="3.7"/><circle cx="630.2" cy="740.3" r="3.7"/><circle cx="631.8" cy="729.9" r="3.7"/><circle cx="633.1" cy="745.3" r="3.7"/><circle cx="634.1" cy="726.9" r="3.7"/><circle cx="635.5" cy="732.4" r="3.7"/><circle cx="636.9" cy="732.6" r="3.7"/><circle cx="639.5" cy="741.1" r="3.7"/><circle cx="642.3" cy="733.3" r="3.7"/><circle cx="644.6" cy="718.5" r="3.7"/><circle cx="645.7" cy="722.8" r="3.7"/><circle cx="648.8" cy="755.4" r="3.7"/><circle cx="650.1" cy="731.3" r="3.7"/><circle cx="651.2" cy="731.8" r="3.7"/><circle cx="652.8" cy="727.0" r="3.7"/><circle cx="656.9" cy="757.8" r="3.7"/><circle cx="658.0" cy="734.6" r="3.7"/><circle cx="661.3" cy="726.4" r="3.7"/><circle cx="664.5" cy="730.2" r="3.7"/><circle cx="665.6" cy="728.4" r="3.7"/><circle cx="667.1" cy="746.6" r="3.7"/><circle cx="670.5" cy="739.6" r="3.7"/><circle cx="671.6" cy="753.0" r="3.7"/><circle cx="673.9" cy="739.9" r="3.7"/><circle cx="677.2" cy="753.1" r="3.7"/><circle cx="300.0" cy="690.2" r="3.7"/><circle cx="302.8" cy="692.8" r="3.7"/><circle cx="304.3" cy="693.3" r="3.7"/><circle cx="305.1" cy="694.7" r="3.7"/><circle cx="305.7" cy="694.8" r="3.7"/><circle cx="306.5" cy="695.5" r="3.7"/><circle cx="307.3" cy="697.5" r="3.7"/><circle cx="310.8" cy="698.6" r="3.7"/><circle cx="311.4" cy="698.4" r="3.7"/><circle cx="312.6" cy="700.3" r="3.7"/><circle cx="314.9" cy="701.0" r="3.7"/><circle cx="315.5" cy="702.7" r="3.7"/><circle cx="317.3" cy="702.4" r="3.7"/><circle cx="318.2" cy="704.2" r="3.7"/><circle cx="318.9" cy="704.9" r="3.7"/><circle cx="320.0" cy="706.6" r="3.7"/><circle cx="321.1" cy="706.7" r="3.7"/><circle cx="322.6" cy="707.5" r="3.7"/><circle cx="323.9" cy="708.3" r="3.7"/><circle cx="326.0" cy="711.6" r="3.7"/><circle cx="326.9" cy="709.9" r="3.7"/><circle cx="327.6" cy="710.5" r="3.7"/><circle cx="330.3" cy="713.3" r="3.7"/><circle cx="332.2" cy="713.8" r="3.7"/><circle cx="332.9" cy="713.3" r="3.7"/><circle cx="334.0" cy="714.3" r="3.7"/><circle cx="336.5" cy="717.2" r="3.7"/><circle cx="338.6" cy="718.4" r="3.7"/><circle cx="339.3" cy="717.6" r="3.7"/><circle cx="340.2" cy="719.2" r="3.7"/><circle cx="341.0" cy="720.2" r="3.7"/><circle cx="341.8" cy="717.6" r="3.7"/><circle cx="343.1" cy="719.2" r="3.7"/><circle cx="343.8" cy="718.9" r="3.7"/><circle cx="344.7" cy="720.0" r="3.7"/><circle cx="345.4" cy="723.4" r="3.7"/><circle cx="346.2" cy="723.8" r="3.7"/><circle cx="347.7" cy="721.6" r="3.7"/><circle cx="349.0" cy="726.8" r="3.7"/><circle cx="349.8" cy="727.8" r="3.7"/><circle cx="350.8" cy="726.7" r="3.7"/><circle cx="352.9" cy="728.7" r="3.7"/><circle cx="353.7" cy="729.3" r="3.7"/><circle cx="354.9" cy="728.2" r="3.7"/><circle cx="355.9" cy="727.9" r="3.7"/><circle cx="357.1" cy="730.6" r="3.7"/><circle cx="357.9" cy="735.5" r="3.7"/><circle cx="358.8" cy="732.6" r="3.7"/><circle cx="360.1" cy="730.5" r="3.7"/><circle cx="364.0" cy="736.2" r="3.7"/><circle cx="366.8" cy="733.6" r="3.7"/><circle cx="367.5" cy="736.7" r="3.7"/><circle cx="370.2" cy="739.0" r="3.7"/><circle cx="371.0" cy="743.4" r="3.7"/><circle cx="371.9" cy="739.3" r="3.7"/><circle cx="373.2" cy="740.7" r="3.7"/><circle cx="374.0" cy="740.7" r="3.7"/><circle cx="375.1" cy="741.8" r="3.7"/><circle cx="375.8" cy="740.7" r="3.7"/><circle cx="377.5" cy="746.7" r="3.7"/><circle cx="378.3" cy="747.9" r="3.7"/><circle cx="379.1" cy="746.0" r="3.7"/><circle cx="380.2" cy="747.5" r="3.7"/><circle cx="381.1" cy="748.8" r="3.7"/><circle cx="381.8" cy="747.5" r="3.7"/><circle cx="383.3" cy="741.8" r="3.7"/><circle cx="385.0" cy="751.0" r="3.7"/><circle cx="388.0" cy="751.9" r="3.7"/><circle cx="389.8" cy="751.0" r="3.7"/><circle cx="390.6" cy="747.7" r="3.7"/><circle cx="392.9" cy="750.8" r="3.7"/><circle cx="395.5" cy="753.5" r="3.7"/><circle cx="396.4" cy="756.6" r="3.7"/><circle cx="399.6" cy="756.8" r="3.7"/><circle cx="400.6" cy="752.4" r="3.7"/><circle cx="401.3" cy="760.5" r="3.7"/><circle cx="403.4" cy="759.4" r="3.7"/><circle cx="404.5" cy="760.5" r="3.7"/><circle cx="408.8" cy="761.3" r="3.7"/><circle cx="410.0" cy="765.7" r="3.7"/><circle cx="411.3" cy="760.1" r="3.7"/><circle cx="413.0" cy="763.3" r="3.7"/><circle cx="413.8" cy="769.1" r="3.7"/><circle cx="414.5" cy="766.8" r="3.7"/><circle cx="416.3" cy="765.6" r="3.7"/><circle cx="417.1" cy="767.5" r="3.7"/><circle cx="417.8" cy="763.7" r="3.7"/><circle cx="418.7" cy="766.4" r="3.7"/><circle cx="419.6" cy="770.9" r="3.7"/><circle cx="420.9" cy="766.9" r="3.7"/><circle cx="422.5" cy="771.7" r="3.7"/><circle cx="424.8" cy="769.8" r="3.7"/><circle cx="426.3" cy="771.8" r="3.7"/><circle cx="427.2" cy="769.8" r="3.7"/><circle cx="428.1" cy="766.6" r="3.7"/><circle cx="429.2" cy="774.1" r="3.7"/><circle cx="429.9" cy="778.2" r="3.7"/><circle cx="430.8" cy="769.7" r="3.7"/><circle cx="432.0" cy="769.6" r="3.7"/><circle cx="433.2" cy="778.1" r="3.7"/><circle cx="434.2" cy="778.7" r="3.7"/><circle cx="437.2" cy="778.2" r="3.7"/><circle cx="438.0" cy="785.3" r="3.7"/><circle cx="438.9" cy="786.0" r="3.7"/><circle cx="439.7" cy="784.0" r="3.7"/><circle cx="440.6" cy="787.3" r="3.7"/><circle cx="441.7" cy="791.5" r="3.7"/><circle cx="443.4" cy="779.7" r="3.7"/><circle cx="444.2" cy="777.1" r="3.7"/><circle cx="445.1" cy="797.1" r="3.7"/><circle cx="445.9" cy="772.2" r="3.7"/><circle cx="447.2" cy="776.3" r="3.7"/><circle cx="449.4" cy="787.2" r="3.7"/><circle cx="451.4" cy="781.0" r="3.7"/><circle cx="452.6" cy="780.3" r="3.7"/><circle cx="453.5" cy="780.0" r="3.7"/><circle cx="455.9" cy="793.9" r="3.7"/><circle cx="456.7" cy="793.6" r="3.7"/><circle cx="457.6" cy="799.0" r="3.7"/><circle cx="459.1" cy="790.3" r="3.7"/><circle cx="460.1" cy="797.4" r="3.7"/><circle cx="460.8" cy="781.9" r="3.7"/><circle cx="463.0" cy="800.9" r="3.7"/><circle cx="464.2" cy="793.9" r="3.7"/><circle cx="467.5" cy="784.3" r="3.7"/><circle cx="469.1" cy="787.6" r="3.7"/><circle cx="470.1" cy="776.7" r="3.7"/><circle cx="471.2" cy="805.8" r="3.7"/><circle cx="472.3" cy="770.4" r="3.7"/><circle cx="474.0" cy="798.1" r="3.7"/><circle cx="474.9" cy="807.6" r="3.7"/><circle cx="478.7" cy="793.7" r="3.7"/><circle cx="479.4" cy="800.6" r="3.7"/><circle cx="480.9" cy="771.1" r="3.7"/><circle cx="482.1" cy="792.4" r="3.7"/><circle cx="483.6" cy="806.5" r="3.7"/><circle cx="485.3" cy="808.1" r="3.7"/><circle cx="487.3" cy="814.3" r="3.7"/><circle cx="488.1" cy="787.8" r="3.7"/><circle cx="489.3" cy="779.9" r="3.7"/><circle cx="490.0" cy="810.7" r="3.7"/><circle cx="492.0" cy="798.1" r="3.7"/><circle cx="493.4" cy="806.1" r="3.7"/><circle cx="494.7" cy="790.1" r="3.7"/><circle cx="495.4" cy="818.4" r="3.7"/><circle cx="497.9" cy="813.3" r="3.7"/><circle cx="499.0" cy="818.3" r="3.7"/><circle cx="499.8" cy="786.0" r="3.7"/><circle cx="500.8" cy="816.4" r="3.7"/><circle cx="501.9" cy="797.8" r="3.7"/><circle cx="503.3" cy="787.4" r="3.7"/><circle cx="504.0" cy="805.7" r="3.7"/><circle cx="504.9" cy="826.6" r="3.7"/><circle cx="507.3" cy="815.1" r="3.7"/><circle cx="508.3" cy="791.5" r="3.7"/><circle cx="509.0" cy="808.4" r="3.7"/><circle cx="510.5" cy="805.3" r="3.7"/><circle cx="512.0" cy="807.2" r="3.7"/><circle cx="512.9" cy="808.8" r="3.7"/><circle cx="514.7" cy="831.2" r="3.7"/><circle cx="515.8" cy="841.2" r="3.7"/><circle cx="519.0" cy="827.0" r="3.7"/><circle cx="519.9" cy="799.7" r="3.7"/><circle cx="523.9" cy="808.5" r="3.7"/><circle cx="525.3" cy="812.0" r="3.7"/><circle cx="526.2" cy="808.8" r="3.7"/><circle cx="528.1" cy="800.0" r="3.7"/><circle cx="529.0" cy="807.0" r="3.7"/><circle cx="529.8" cy="805.0" r="3.7"/><circle cx="530.7" cy="798.0" r="3.7"/><circle cx="536.3" cy="823.6" r="3.7"/><circle cx="538.9" cy="787.6" r="3.7"/><circle cx="542.1" cy="815.0" r="3.7"/><circle cx="543.0" cy="808.5" r="3.7"/><circle cx="544.9" cy="816.3" r="3.7"/><circle cx="545.7" cy="818.2" r="3.7"/><circle cx="546.9" cy="790.4" r="3.7"/><circle cx="548.1" cy="805.5" r="3.7"/><circle cx="548.8" cy="821.3" r="3.7"/><circle cx="549.8" cy="830.0" r="3.7"/><circle cx="551.1" cy="810.6" r="3.7"/><circle cx="551.9" cy="829.3" r="3.7"/><circle cx="554.0" cy="810.1" r="3.7"/><circle cx="555.6" cy="804.5" r="3.7"/><circle cx="558.9" cy="803.1" r="3.7"/><circle cx="561.5" cy="846.6" r="3.7"/><circle cx="562.6" cy="824.2" r="3.7"/><circle cx="563.5" cy="818.5" r="3.7"/><circle cx="564.8" cy="827.0" r="3.7"/><circle cx="565.9" cy="827.2" r="3.7"/><circle cx="567.7" cy="825.9" r="3.7"/><circle cx="568.8" cy="837.2" r="3.7"/><circle cx="570.1" cy="827.7" r="3.7"/><circle cx="571.3" cy="832.7" r="3.7"/><circle cx="572.4" cy="841.2" r="3.7"/><circle cx="574.1" cy="835.1" r="3.7"/><circle cx="575.7" cy="839.1" r="3.7"/><circle cx="576.5" cy="875.8" r="3.7"/><circle cx="577.7" cy="835.0" r="3.7"/><circle cx="580.1" cy="842.9" r="3.7"/><circle cx="581.2" cy="849.8" r="3.7"/><circle cx="582.2" cy="837.2" r="3.7"/><circle cx="583.9" cy="858.0" r="3.7"/><circle cx="584.7" cy="845.7" r="3.7"/><circle cx="588.9" cy="837.6" r="3.7"/><circle cx="591.0" cy="820.8" r="3.7"/><circle cx="591.8" cy="873.9" r="3.7"/><circle cx="592.8" cy="843.3" r="3.7"/><circle cx="593.7" cy="841.2" r="3.7"/><circle cx="595.1" cy="820.6" r="3.7"/><circle cx="596.6" cy="848.8" r="3.7"/><circle cx="597.9" cy="840.2" r="3.7"/><circle cx="598.7" cy="866.0" r="3.7"/><circle cx="599.8" cy="845.3" r="3.7"/><circle cx="600.6" cy="841.4" r="3.7"/><circle cx="601.7" cy="830.2" r="3.7"/><circle cx="602.5" cy="847.7" r="3.7"/><circle cx="606.6" cy="852.5" r="3.7"/><circle cx="607.6" cy="869.5" r="3.7"/><circle cx="608.4" cy="820.8" r="3.7"/><circle cx="609.2" cy="844.0" r="3.7"/><circle cx="611.3" cy="835.5" r="3.7"/><circle cx="614.8" cy="859.0" r="3.7"/><circle cx="616.8" cy="835.3" r="3.7"/><circle cx="618.0" cy="850.8" r="3.7"/><circle cx="620.0" cy="790.5" r="3.7"/><circle cx="620.9" cy="854.1" r="3.7"/><circle cx="621.9" cy="859.5" r="3.7"/><circle cx="622.9" cy="874.3" r="3.7"/><circle cx="623.8" cy="888.1" r="3.7"/><circle cx="625.2" cy="868.8" r="3.7"/><circle cx="626.0" cy="805.1" r="3.7"/><circle cx="627.7" cy="828.8" r="3.7"/><circle cx="628.5" cy="849.5" r="3.7"/><circle cx="630.3" cy="839.6" r="3.7"/><circle cx="631.6" cy="804.1" r="3.7"/><circle cx="633.8" cy="835.3" r="3.7"/><circle cx="635.2" cy="839.1" r="3.7"/><circle cx="636.0" cy="833.3" r="3.7"/><circle cx="638.5" cy="861.1" r="3.7"/><circle cx="639.5" cy="798.2" r="3.7"/><circle cx="641.2" cy="852.0" r="3.7"/><circle cx="642.0" cy="852.6" r="3.7"/><circle cx="645.6" cy="808.4" r="3.7"/><circle cx="646.7" cy="817.9" r="3.7"/><circle cx="647.6" cy="811.3" r="3.7"/><circle cx="648.4" cy="818.2" r="3.7"/><circle cx="649.1" cy="866.5" r="3.7"/><circle cx="650.6" cy="847.7" r="3.7"/><circle cx="651.6" cy="864.7" r="3.7"/><circle cx="652.7" cy="835.9" r="3.7"/><circle cx="653.6" cy="827.0" r="3.7"/><circle cx="655.3" cy="815.8" r="3.7"/><circle cx="659.1" cy="814.9" r="3.7"/><circle cx="660.0" cy="845.8" r="3.7"/><circle cx="662.2" cy="825.8" r="3.7"/><circle cx="663.0" cy="852.9" r="3.7"/><circle cx="663.8" cy="844.3" r="3.7"/><circle cx="665.9" cy="828.0" r="3.7"/><circle cx="666.8" cy="833.0" r="3.7"/><circle cx="668.3" cy="860.5" r="3.7"/><circle cx="669.5" cy="832.3" r="3.7"/><circle cx="670.3" cy="816.2" r="3.7"/><circle cx="671.1" cy="835.2" r="3.7"/><circle cx="672.5" cy="867.8" r="3.7"/><circle cx="673.4" cy="816.1" r="3.7"/><circle cx="674.2" cy="841.3" r="3.7"/><circle cx="675.6" cy="867.6" r="3.7"/><circle cx="676.6" cy="865.5" r="3.7"/><circle cx="678.1" cy="823.0" r="3.7"/><circle cx="300.0" cy="790.6" r="3.7"/><circle cx="300.7" cy="790.6" r="3.7"/><circle cx="301.9" cy="791.1" r="3.7"/><circle cx="302.9" cy="793.0" r="3.7"/><circle cx="304.0" cy="794.5" r="3.7"/><circle cx="304.9" cy="794.2" r="3.7"/><circle cx="305.9" cy="794.9" r="3.7"/><circle cx="307.5" cy="796.6" r="3.7"/><circle cx="309.1" cy="797.4" r="3.7"/><circle cx="309.9" cy="797.9" r="3.7"/><circle cx="310.6" cy="798.7" r="3.7"/><circle cx="311.3" cy="798.8" r="3.7"/><circle cx="312.9" cy="800.4" r="3.7"/><circle cx="315.4" cy="801.5" r="3.7"/><circle cx="316.4" cy="803.4" r="3.7"/><circle cx="317.1" cy="804.6" r="3.7"/><circle cx="317.8" cy="803.8" r="3.7"/><circle cx="318.5" cy="806.8" r="3.7"/><circle cx="319.8" cy="805.2" r="3.7"/><circle cx="320.8" cy="806.8" r="3.7"/><circle cx="324.2" cy="809.0" r="3.7"/><circle cx="325.1" cy="809.0" r="3.7"/><circle cx="326.0" cy="811.4" r="3.7"/><circle cx="329.1" cy="812.7" r="3.7"/><circle cx="333.1" cy="814.7" r="3.7"/><circle cx="333.7" cy="815.5" r="3.7"/><circle cx="335.4" cy="816.7" r="3.7"/><circle cx="337.6" cy="818.9" r="3.7"/><circle cx="338.5" cy="817.9" r="3.7"/><circle cx="342.8" cy="821.2" r="3.7"/><circle cx="343.5" cy="820.5" r="3.7"/><circle cx="345.5" cy="822.1" r="3.7"/><circle cx="347.6" cy="823.7" r="3.7"/><circle cx="348.6" cy="822.7" r="3.7"/><circle cx="350.4" cy="824.7" r="3.7"/><circle cx="351.4" cy="824.0" r="3.7"/><circle cx="354.1" cy="825.6" r="3.7"/><circle cx="355.6" cy="827.7" r="3.7"/><circle cx="356.3" cy="828.0" r="3.7"/><circle cx="357.3" cy="826.7" r="3.7"/><circle cx="358.2" cy="827.7" r="3.7"/><circle cx="359.3" cy="830.0" r="3.7"/><circle cx="360.8" cy="830.1" r="3.7"/><circle cx="361.9" cy="832.2" r="3.7"/><circle cx="362.9" cy="830.1" r="3.7"/><circle cx="363.5" cy="830.8" r="3.7"/><circle cx="365.3" cy="830.7" r="3.7"/><circle cx="366.2" cy="833.5" r="3.7"/><circle cx="368.6" cy="842.1" r="3.7"/><circle cx="369.3" cy="830.3" r="3.7"/><circle cx="370.3" cy="832.6" r="3.7"/><circle cx="371.3" cy="835.6" r="3.7"/><circle cx="372.1" cy="837.8" r="3.7"/><circle cx="373.5" cy="838.5" r="3.7"/><circle cx="375.0" cy="838.1" r="3.7"/><circle cx="376.0" cy="839.1" r="3.7"/><circle cx="377.2" cy="841.7" r="3.7"/><circle cx="378.2" cy="838.9" r="3.7"/><circle cx="379.4" cy="846.0" r="3.7"/><circle cx="380.4" cy="840.6" r="3.7"/><circle cx="381.6" cy="839.6" r="3.7"/><circle cx="382.4" cy="841.6" r="3.7"/><circle cx="383.6" cy="840.4" r="3.7"/><circle cx="384.4" cy="851.9" r="3.7"/><circle cx="385.1" cy="841.7" r="3.7"/><circle cx="386.0" cy="841.8" r="3.7"/><circle cx="386.7" cy="842.8" r="3.7"/><circle cx="387.8" cy="851.3" r="3.7"/><circle cx="388.8" cy="842.1" r="3.7"/><circle cx="389.6" cy="850.5" r="3.7"/><circle cx="390.3" cy="844.8" r="3.7"/><circle cx="391.4" cy="851.9" r="3.7"/><circle cx="392.9" cy="847.2" r="3.7"/><circle cx="395.0" cy="848.8" r="3.7"/><circle cx="396.1" cy="850.8" r="3.7"/><circle cx="397.4" cy="847.4" r="3.7"/><circle cx="399.5" cy="854.5" r="3.7"/><circle cx="401.7" cy="851.4" r="3.7"/><circle cx="402.6" cy="850.3" r="3.7"/><circle cx="403.4" cy="859.0" r="3.7"/><circle cx="404.2" cy="855.0" r="3.7"/><circle cx="405.0" cy="850.4" r="3.7"/><circle cx="405.7" cy="853.9" r="3.7"/><circle cx="407.0" cy="852.2" r="3.7"/><circle cx="408.4" cy="852.5" r="3.7"/><circle cx="409.6" cy="851.3" r="3.7"/><circle cx="410.7" cy="857.3" r="3.7"/><circle cx="411.7" cy="859.3" r="3.7"/><circle cx="413.0" cy="851.8" r="3.7"/><circle cx="413.8" cy="851.7" r="3.7"/><circle cx="414.9" cy="856.6" r="3.7"/><circle cx="415.9" cy="859.9" r="3.7"/><circle cx="417.4" cy="861.2" r="3.7"/><circle cx="418.0" cy="860.7" r="3.7"/><circle cx="418.7" cy="861.8" r="3.7"/><circle cx="420.7" cy="861.1" r="3.7"/><circle cx="421.6" cy="861.0" r="3.7"/><circle cx="422.9" cy="860.1" r="3.7"/><circle cx="425.2" cy="861.3" r="3.7"/><circle cx="425.9" cy="880.3" r="3.7"/><circle cx="427.0" cy="862.1" r="3.7"/><circle cx="428.3" cy="868.0" r="3.7"/><circle cx="429.0" cy="864.6" r="3.7"/><circle cx="429.8" cy="865.0" r="3.7"/><circle cx="431.3" cy="864.5" r="3.7"/><circle cx="432.1" cy="866.4" r="3.7"/><circle cx="433.2" cy="875.7" r="3.7"/><circle cx="434.5" cy="870.8" r="3.7"/><circle cx="436.8" cy="865.4" r="3.7"/><circle cx="439.9" cy="869.0" r="3.7"/><circle cx="441.0" cy="878.0" r="3.7"/><circle cx="442.2" cy="876.8" r="3.7"/><circle cx="443.3" cy="869.1" r="3.7"/><circle cx="444.1" cy="885.6" r="3.7"/><circle cx="445.9" cy="876.5" r="3.7"/><circle cx="447.1" cy="874.4" r="3.7"/><circle cx="448.4" cy="878.4" r="3.7"/><circle cx="449.8" cy="876.3" r="3.7"/><circle cx="450.6" cy="877.5" r="3.7"/><circle cx="451.9" cy="887.3" r="3.7"/><circle cx="453.1" cy="876.2" r="3.7"/><circle cx="454.4" cy="874.8" r="3.7"/><circle cx="456.8" cy="878.5" r="3.7"/><circle cx="462.6" cy="883.8" r="3.7"/><circle cx="464.0" cy="898.6" r="3.7"/><circle cx="464.9" cy="885.7" r="3.7"/><circle cx="467.2" cy="886.3" r="3.7"/><circle cx="467.9" cy="884.0" r="3.7"/><circle cx="469.7" cy="893.7" r="3.7"/><circle cx="470.4" cy="906.4" r="3.7"/><circle cx="471.3" cy="884.9" r="3.7"/><circle cx="472.9" cy="932.1" r="3.7"/><circle cx="473.6" cy="900.8" r="3.7"/><circle cx="475.0" cy="919.9" r="3.7"/><circle cx="476.5" cy="886.0" r="3.7"/><circle cx="477.2" cy="890.9" r="3.7"/><circle cx="477.9" cy="895.4" r="3.7"/><circle cx="480.6" cy="897.2" r="3.7"/><circle cx="481.3" cy="895.6" r="3.7"/><circle cx="482.2" cy="893.7" r="3.7"/><circle cx="482.9" cy="897.1" r="3.7"/><circle cx="483.7" cy="901.1" r="3.7"/><circle cx="484.8" cy="908.3" r="3.7"/><circle cx="486.1" cy="896.2" r="3.7"/><circle cx="487.1" cy="903.9" r="3.7"/><circle cx="487.9" cy="892.9" r="3.7"/><circle cx="488.6" cy="897.3" r="3.7"/><circle cx="489.6" cy="877.9" r="3.7"/><circle cx="490.8" cy="910.6" r="3.7"/><circle cx="491.6" cy="899.9" r="3.7"/><circle cx="492.3" cy="922.9" r="3.7"/><circle cx="493.2" cy="911.2" r="3.7"/><circle cx="494.0" cy="908.7" r="3.7"/><circle cx="495.3" cy="895.7" r="3.7"/><circle cx="496.4" cy="901.6" r="3.7"/><circle cx="499.0" cy="909.0" r="3.7"/><circle cx="500.3" cy="898.8" r="3.7"/><circle cx="501.0" cy="940.4" r="3.7"/><circle cx="502.8" cy="943.1" r="3.7"/><circle cx="503.8" cy="904.5" r="3.7"/><circle cx="504.8" cy="898.9" r="3.7"/><circle cx="505.9" cy="912.8" r="3.7"/><circle cx="506.6" cy="926.6" r="3.7"/><circle cx="507.6" cy="889.4" r="3.7"/><circle cx="509.0" cy="925.0" r="3.7"/><circle cx="510.0" cy="904.5" r="3.7"/><circle cx="510.9" cy="959.4" r="3.7"/><circle cx="512.7" cy="922.5" r="3.7"/><circle cx="513.5" cy="906.0" r="3.7"/><circle cx="514.6" cy="926.6" r="3.7"/><circle cx="515.5" cy="924.9" r="3.7"/><circle cx="516.2" cy="917.4" r="3.7"/><circle cx="518.8" cy="888.3" r="3.7"/><circle cx="520.2" cy="917.3" r="3.7"/><circle cx="521.1" cy="927.1" r="3.7"/><circle cx="522.3" cy="923.5" r="3.7"/><circle cx="523.3" cy="916.0" r="3.7"/><circle cx="526.8" cy="916.7" r="3.7"/><circle cx="528.0" cy="922.0" r="3.7"/><circle cx="529.2" cy="918.0" r="3.7"/><circle cx="530.1" cy="912.0" r="3.7"/><circle cx="530.8" cy="920.8" r="3.7"/><circle cx="531.6" cy="912.1" r="3.7"/><circle cx="532.4" cy="927.5" r="3.7"/><circle cx="533.4" cy="956.7" r="3.7"/><circle cx="536.3" cy="936.1" r="3.7"/><circle cx="537.0" cy="936.6" r="3.7"/><circle cx="538.9" cy="945.8" r="3.7"/><circle cx="539.7" cy="930.2" r="3.7"/><circle cx="540.8" cy="931.7" r="3.7"/><circle cx="541.6" cy="948.7" r="3.7"/><circle cx="542.2" cy="921.2" r="3.7"/><circle cx="543.3" cy="940.9" r="3.7"/><circle cx="545.8" cy="966.3" r="3.7"/><circle cx="546.7" cy="917.5" r="3.7"/><circle cx="548.5" cy="946.9" r="3.7"/><circle cx="549.6" cy="922.7" r="3.7"/><circle cx="550.6" cy="911.1" r="3.7"/><circle cx="551.6" cy="926.6" r="3.7"/><circle cx="553.1" cy="905.4" r="3.7"/><circle cx="555.8" cy="928.2" r="3.7"/><circle cx="556.7" cy="933.3" r="3.7"/><circle cx="558.1" cy="928.4" r="3.7"/><circle cx="558.9" cy="943.2" r="3.7"/><circle cx="561.1" cy="948.4" r="3.7"/><circle cx="561.8" cy="933.7" r="3.7"/><circle cx="562.7" cy="935.2" r="3.7"/><circle cx="564.1" cy="937.1" r="3.7"/><circle cx="565.9" cy="934.9" r="3.7"/><circle cx="566.9" cy="960.7" r="3.7"/><circle cx="568.5" cy="1015.2" r="3.7"/><circle cx="569.2" cy="951.5" r="3.7"/><circle cx="569.9" cy="951.8" r="3.7"/><circle cx="571.4" cy="956.8" r="3.7"/><circle cx="575.3" cy="928.3" r="3.7"/><circle cx="577.7" cy="912.7" r="3.7"/><circle cx="579.2" cy="955.3" r="3.7"/><circle cx="580.6" cy="976.2" r="3.7"/><circle cx="581.6" cy="901.3" r="3.7"/><circle cx="582.3" cy="957.4" r="3.7"/><circle cx="583.4" cy="934.3" r="3.7"/><circle cx="584.2" cy="924.3" r="3.7"/><circle cx="585.2" cy="914.6" r="3.7"/><circle cx="585.9" cy="921.8" r="3.7"/><circle cx="587.3" cy="927.7" r="3.7"/><circle cx="589.7" cy="995.0" r="3.7"/><circle cx="590.5" cy="972.0" r="3.7"/><circle cx="591.1" cy="984.5" r="3.7"/><circle cx="592.5" cy="957.7" r="3.7"/><circle cx="596.8" cy="968.2" r="3.7"/><circle cx="598.0" cy="917.9" r="3.7"/><circle cx="599.6" cy="941.6" r="3.7"/><circle cx="600.6" cy="948.2" r="3.7"/><circle cx="601.4" cy="946.1" r="3.7"/><circle cx="602.3" cy="978.8" r="3.7"/><circle cx="603.1" cy="954.5" r="3.7"/><circle cx="603.8" cy="915.8" r="3.7"/><circle cx="605.0" cy="947.9" r="3.7"/><circle cx="605.8" cy="955.7" r="3.7"/><circle cx="607.0" cy="970.0" r="3.7"/><circle cx="608.5" cy="922.9" r="3.7"/><circle cx="610.7" cy="928.0" r="3.7"/><circle cx="611.4" cy="964.3" r="3.7"/><circle cx="612.4" cy="929.9" r="3.7"/><circle cx="613.5" cy="943.8" r="3.7"/><circle cx="615.1" cy="927.0" r="3.7"/><circle cx="616.2" cy="934.6" r="3.7"/><circle cx="618.2" cy="957.1" r="3.7"/><circle cx="619.4" cy="936.5" r="3.7"/><circle cx="620.9" cy="941.6" r="3.7"/><circle cx="623.3" cy="972.5" r="3.7"/><circle cx="624.2" cy="920.7" r="3.7"/><circle cx="626.0" cy="940.4" r="3.7"/><circle cx="628.0" cy="955.6" r="3.7"/><circle cx="628.8" cy="963.5" r="3.7"/><circle cx="629.8" cy="933.0" r="3.7"/><circle cx="630.7" cy="945.1" r="3.7"/><circle cx="631.8" cy="958.1" r="3.7"/><circle cx="633.1" cy="972.5" r="3.7"/><circle cx="636.1" cy="947.1" r="3.7"/><circle cx="637.0" cy="931.6" r="3.7"/><circle cx="638.5" cy="951.8" r="3.7"/><circle cx="639.2" cy="932.4" r="3.7"/><circle cx="640.2" cy="953.3" r="3.7"/><circle cx="641.7" cy="933.6" r="3.7"/><circle cx="642.9" cy="939.3" r="3.7"/><circle cx="645.3" cy="948.5" r="3.7"/><circle cx="646.1" cy="914.1" r="3.7"/><circle cx="646.9" cy="935.0" r="3.7"/><circle cx="649.0" cy="1029.0" r="3.7"/><circle cx="650.9" cy="932.0" r="3.7"/><circle cx="651.6" cy="941.5" r="3.7"/><circle cx="652.5" cy="924.8" r="3.7"/><circle cx="653.6" cy="922.4" r="3.7"/><circle cx="654.3" cy="976.4" r="3.7"/><circle cx="655.3" cy="952.3" r="3.7"/><circle cx="656.5" cy="954.9" r="3.7"/><circle cx="657.9" cy="964.5" r="3.7"/><circle cx="658.8" cy="941.8" r="3.7"/><circle cx="660.3" cy="943.5" r="3.7"/><circle cx="661.1" cy="952.7" r="3.7"/><circle cx="662.3" cy="920.8" r="3.7"/><circle cx="663.9" cy="962.8" r="3.7"/><circle cx="664.6" cy="928.6" r="3.7"/><circle cx="666.3" cy="950.1" r="3.7"/><circle cx="667.1" cy="927.2" r="3.7"/><circle cx="668.0" cy="955.9" r="3.7"/><circle cx="669.6" cy="974.5" r="3.7"/><circle cx="670.6" cy="942.4" r="3.7"/><circle cx="671.6" cy="964.9" r="3.7"/><circle cx="672.8" cy="910.1" r="3.7"/><circle cx="673.7" cy="944.5" r="3.7"/><circle cx="676.1" cy="922.6" r="3.7"/><circle cx="677.2" cy="983.1" r="3.7"/><circle cx="677.9" cy="1009.8" r="3.7"/></g><g fill="none" stroke="#9a9a9a" stroke-width="2.0" stroke-linecap="butt"><path d="M127.9 89.3 L129.9 90.1 L131.9 90.8 L133.9 91.6 L135.9 92.5 L137.9 93.3 L139.9 94.2 L141.9 95.1 L143.9 96.1 L145.9 97.0 L147.9 98.0 L149.9 99.0 L151.9 100.1 L153.9 101.1 L155.9 102.2 L157.9 103.3 L159.9 104.5 L161.9 105.6 L163.9 106.8 L165.9 108.0 L167.9 109.3 L169.9 110.5 L171.9 111.8 L173.9 113.1 L175.9 114.4 L177.9 115.7 L179.9 117.1 L181.9 118.4 L183.9 119.8 L185.9 121.2 L187.9 122.7 L189.9 124.1 L191.9 125.6 L193.9 127.1 L195.9 128.6 L197.9 130.1 L199.9 131.6 L201.9 133.1 L203.9 134.7 L205.9 136.3 L207.9 137.8 L209.9 139.4 L211.9 141.1 L213.9 142.7 L215.9 144.3 L217.9 146.0 L219.9 147.6 L221.9 149.3 L223.9 151.0 L225.9 152.7 L227.9 154.4 L229.9 156.1 L231.9 157.8 L233.9 159.5 L235.9 161.3 L237.9 163.0 L239.9 164.8 L241.9 166.5 L243.9 168.3 L245.9 170.1 L247.9 171.8 L249.9 173.6 L251.9 175.4 L253.9 177.2 L255.9 179.0 L257.9 180.8 L259.9 182.6 L261.9 184.4 L263.9 186.2 L265.9 188.1 L267.9 189.9 L269.9 191.7 L271.9 193.5 L273.9 195.3 L275.9 197.1 L277.9 199.0 L279.9 200.8 L281.9 202.6 L283.9 204.4 L285.9 206.2 L287.9 208.0 L289.9 209.8 L291.9 211.6 L293.9 213.4 L295.9 215.2 L297.9 217.0 L299.9 218.8 L301.9 220.6 L303.9 222.4 L305.9 224.2 L307.9 225.9 L309.9 227.7 L311.9 229.4 L313.9 231.2 L315.9 232.9 L317.9 234.6 L319.9 236.4 L321.9 238.1 L323.9 239.8 L325.9 241.5 L327.9 243.1 L329.9 244.8 L331.9 246.5 L333.9 248.1 L335.9 249.8 L337.9 251.4 L339.9 253.0 L341.9 254.6 L343.9 256.2 L345.9 257.7 L347.9 259.3 L349.9 260.8 L351.9 262.4 L353.9 263.9 L355.9 265.4 L357.9 266.8 L359.9 268.3 L361.9 269.7 L363.9 271.2 L365.9 272.6 L367.9 274.0 L369.9 275.3 L371.9 276.7 L373.9 278.0 L375.9 279.4 L377.9 280.7 L379.9 282.0 L381.9 283.3 L383.9 284.5 L385.9 285.8 L387.9 287.0 L389.9 288.2 L391.9 289.4 L393.9 290.6 L395.9 291.8 L397.9 292.9 L399.9 294.1 L401.9 295.2 L403.9 296.3 L405.9 297.4 L407.9 298.5 L409.9 299.5 L411.9 300.6 L413.9 301.6 L415.9 302.7 L417.9 303.7 L419.9 304.7 L421.9 305.6 L423.9 306.6 L425.9 307.5 L427.9 308.5 L429.9 309.4 L431.9 310.3 L433.9 311.2 L435.9 312.1 L437.9 312.9 L439.9 313.8 L441.9 314.6 L443.9 315.5 L445.9 316.3 L447.9 317.1 L449.9 317.8 L451.9 318.6 L453.9 319.4 L455.9 320.1 L457.9 320.8 L459.9 321.6 L461.9 322.3 L463.9 323.0 L465.9 323.6 L467.9 324.3 L469.9 325.0 L471.9 325.6 L473.9 326.2 L475.9 326.9 L477.9 327.5 L479.9 328.0 L481.9 328.6 L483.9 329.2 L485.9 329.8 L487.9 330.3 L489.9 330.8 L491.9 331.4 L493.9 331.9 L495.9 332.4 L497.9 332.8 L499.9 333.3 L501.9 333.8 L503.9 334.2 L505.9 334.7 L507.9 335.1 L509.9 335.5 L511.9 335.9 L513.9 336.3 L515.9 336.7 L517.9 337.1 L519.9 337.4 L521.9 337.8 L523.9 338.1 L525.9 338.5 L527.9 338.8 L529.9 339.1 L531.9 339.4 L533.9 339.7 L535.9 340.0 L537.9 340.2 L539.9 340.5 L541.9 340.8 L543.9 341.0 L545.9 341.2 L547.9 341.5 L549.9 341.7 L551.9 341.9 L553.9 342.1 L555.9 342.2 L557.9 342.4 L559.9 342.6 L561.9 342.7 L563.9 342.9 L565.9 343.0 L567.9 343.2 L569.9 343.3 L571.9 343.4 L573.9 343.5 L575.9 343.6 L577.9 343.7 L579.9 343.7 L581.9 343.8 L583.9 343.9 L585.9 343.9 L587.9 344.0 L589.9 344.0 L591.9 344.0 L593.9 344.1 L595.9 344.1 L597.9 344.1 L599.9 344.1 L601.9 344.1 L603.9 344.0 L605.9 344.0 L607.9 344.0 L609.9 343.9 L611.9 343.9 L613.9 343.8 L615.9 343.8 L617.9 343.7 L619.9 343.6 L621.9 343.6 L623.9 343.5 L625.9 343.4 L627.9 343.3 L629.9 343.2 L631.9 343.0 L633.9 342.9 L635.9 342.8 L637.9 342.7 L639.9 342.5 L641.9 342.4 L643.9 342.2 L645.9 342.1 L647.9 341.9 L649.9 341.7 L651.9 341.5 L653.9 341.4 L655.9 341.2 L657.9 341.0 L659.9 340.8 L661.9 340.6 L663.9 340.4 L665.9 340.1 L667.9 339.9 L669.9 339.7 L671.9 339.5 L673.9 339.2 L675.9 339.0 L677.9 338.8"/><path d="M137.0 317.4 L139.0 317.6 L141.0 317.9 L143.0 318.2 L145.0 318.5 L147.0 318.8 L149.0 319.1 L151.0 319.4 L153.0 319.7 L155.0 320.0 L157.0 320.4 L159.0 320.7 L161.0 321.1 L163.0 321.5 L165.0 321.8 L167.0 322.2 L169.0 322.6 L171.0 323.0 L173.0 323.5 L175.0 323.9 L177.0 324.3 L179.0 324.8 L181.0 325.2 L183.0 325.7 L185.0 326.1 L187.0 326.6 L189.0 327.1 L191.0 327.6 L193.0 328.1 L195.0 328.6 L197.0 329.1 L199.0 329.6 L201.0 330.2 L203.0 330.7 L205.0 331.2 L207.0 331.8 L209.0 332.4 L211.0 332.9 L213.0 333.5 L215.0 334.1 L217.0 334.7 L219.0 335.3 L221.0 335.9 L223.0 336.5 L225.0 337.1 L227.0 337.7 L229.0 338.4 L231.0 339.0 L233.0 339.7 L235.0 340.3 L237.0 341.0 L239.0 341.6 L241.0 342.3 L243.0 343.0 L245.0 343.7 L247.0 344.4 L249.0 345.1 L251.0 345.8 L253.0 346.5 L255.0 347.2 L257.0 347.9 L259.0 348.7 L261.0 349.4 L263.0 350.1 L265.0 350.9 L267.0 351.6 L269.0 352.4 L271.0 353.1 L273.0 353.9 L275.0 354.7 L277.0 355.5 L279.0 356.3 L281.0 357.0 L283.0 357.8 L285.0 358.6 L287.0 359.4 L289.0 360.2 L291.0 361.1 L293.0 361.9 L295.0 362.7 L297.0 363.5 L299.0 364.4 L301.0 365.2 L303.0 366.0 L305.0 366.9 L307.0 367.7 L309.0 368.6 L311.0 369.4 L313.0 370.3 L315.0 371.2 L317.0 372.0 L319.0 372.9 L321.0 373.8 L323.0 374.7 L325.0 375.6 L327.0 376.4 L329.0 377.3 L331.0 378.2 L333.0 379.1 L335.0 380.0 L337.0 380.9 L339.0 381.8 L341.0 382.8 L343.0 383.7 L345.0 384.6 L347.0 385.5 L349.0 386.4 L351.0 387.4 L353.0 388.3 L355.0 389.2 L357.0 390.2 L359.0 391.1 L361.0 392.0 L363.0 393.0 L365.0 393.9 L367.0 394.9 L369.0 395.8 L371.0 396.8 L373.0 397.7 L375.0 398.7 L377.0 399.6 L379.0 400.6 L381.0 401.5 L383.0 402.5 L385.0 403.5 L387.0 404.4 L389.0 405.4 L391.0 406.4 L393.0 407.3 L395.0 408.3 L397.0 409.3 L399.0 410.2 L401.0 411.2 L403.0 412.2 L405.0 413.2 L407.0 414.1 L409.0 415.1 L411.0 416.1 L413.0 417.1 L415.0 418.1 L417.0 419.0 L419.0 420.0 L421.0 421.0 L423.0 422.0 L425.0 423.0 L427.0 423.9 L429.0 424.9 L431.0 425.9 L433.0 426.9 L435.0 427.9 L437.0 428.8 L439.0 429.8 L441.0 430.8 L443.0 431.8 L445.0 432.8 L447.0 433.7 L449.0 434.7 L451.0 435.7 L453.0 436.7 L455.0 437.6 L457.0 438.6 L459.0 439.6 L461.0 440.5 L463.0 441.5 L465.0 442.5 L467.0 443.4 L469.0 444.4 L471.0 445.4 L473.0 446.3 L475.0 447.3 L477.0 448.2 L479.0 449.2 L481.0 450.1 L483.0 451.1 L485.0 452.0 L487.0 453.0 L489.0 453.9 L491.0 454.8 L493.0 455.8 L495.0 456.7 L497.0 457.6 L499.0 458.5 L501.0 459.5 L503.0 460.4 L505.0 461.3 L507.0 462.2 L509.0 463.1 L511.0 464.0 L513.0 464.9 L515.0 465.8 L517.0 466.7 L519.0 467.6 L521.0 468.5 L523.0 469.4 L525.0 470.2 L527.0 471.1 L529.0 472.0 L531.0 472.8 L533.0 473.7 L535.0 474.6 L537.0 475.4 L539.0 476.3 L541.0 477.1 L543.0 477.9 L545.0 478.8 L547.0 479.6 L549.0 480.4 L551.0 481.2 L553.0 482.0 L555.0 482.8 L557.0 483.6 L559.0 484.4 L561.0 485.2 L563.0 486.0 L565.0 486.8 L567.0 487.5 L569.0 488.3 L571.0 489.1 L573.0 489.8 L575.0 490.6 L577.0 491.3 L579.0 492.0 L581.0 492.7 L583.0 493.5 L585.0 494.2 L587.0 494.9 L589.0 495.6 L591.0 496.3 L593.0 497.0 L595.0 497.6 L597.0 498.3 L599.0 499.0 L601.0 499.6 L603.0 500.3 L605.0 500.9 L607.0 501.5 L609.0 502.2 L611.0 502.8 L613.0 503.4 L615.0 504.0 L617.0 504.6 L619.0 505.2 L621.0 505.7 L623.0 506.3 L625.0 506.9 L627.0 507.4 L629.0 507.9 L631.0 508.5 L633.0 509.0 L635.0 509.5 L637.0 510.0 L639.0 510.5 L641.0 511.0 L643.0 511.5 L645.0 511.9 L647.0 512.4 L649.0 512.9 L651.0 513.3 L653.0 513.7 L655.0 514.2 L657.0 514.6 L659.0 515.0 L661.0 515.4 L663.0 515.7 L665.0 516.1 L667.0 516.5 L669.0 516.8 L671.0 517.2 L673.0 517.5 L675.0 517.8 L677.0 518.1 L679.0 518.4"/><path d="M129.0 426.3 L131.0 426.4 L133.0 426.5 L135.0 426.6 L137.0 426.7 L139.0 426.8 L141.0 426.9 L143.0 427.1 L145.0 427.2 L147.0 427.4 L149.0 427.6 L151.0 427.7 L153.0 427.9 L155.0 428.1 L157.0 428.3 L159.0 428.5 L161.0 428.8 L163.0 429.0 L165.0 429.2 L167.0 429.5 L169.0 429.8 L171.0 430.0 L173.0 430.3 L175.0 430.6 L177.0 430.9 L179.0 431.2 L181.0 431.5 L183.0 431.8 L185.0 432.2 L187.0 432.5 L189.0 432.9 L191.0 433.2 L193.0 433.6 L195.0 434.0 L197.0 434.4 L199.0 434.8 L201.0 435.2 L203.0 435.6 L205.0 436.0 L207.0 436.4 L209.0 436.9 L211.0 437.3 L213.0 437.8 L215.0 438.2 L217.0 438.7 L219.0 439.2 L221.0 439.7 L223.0 440.2 L225.0 440.7 L227.0 441.2 L229.0 441.7 L231.0 442.2 L233.0 442.7 L235.0 443.3 L237.0 443.8 L239.0 444.4 L241.0 445.0 L243.0 445.5 L245.0 446.1 L247.0 446.7 L249.0 447.3 L251.0 447.9 L253.0 448.5 L255.0 449.2 L257.0 449.8 L259.0 450.4 L261.0 451.1 L263.0 451.7 L265.0 452.4 L267.0 453.0 L269.0 453.7 L271.0 454.4 L273.0 455.1 L275.0 455.8 L277.0 456.5 L279.0 457.2 L281.0 457.9 L283.0 458.7 L285.0 459.4 L287.0 460.1 L289.0 460.9 L291.0 461.6 L293.0 462.4 L295.0 463.2 L297.0 463.9 L299.0 464.7 L301.0 465.5 L303.0 466.3 L305.0 467.1 L307.0 467.9 L309.0 468.7 L311.0 469.5 L313.0 470.4 L315.0 471.2 L317.0 472.0 L319.0 472.9 L321.0 473.8 L323.0 474.6 L325.0 475.5 L327.0 476.4 L329.0 477.2 L331.0 478.1 L333.0 479.0 L335.0 479.9 L337.0 480.8 L339.0 481.7 L341.0 482.7 L343.0 483.6 L345.0 484.5 L347.0 485.5 L349.0 486.4 L351.0 487.4 L353.0 488.3 L355.0 489.3 L357.0 490.2 L359.0 491.2 L361.0 492.2 L363.0 493.2 L365.0 494.2 L367.0 495.2 L369.0 496.2 L371.0 497.2 L373.0 498.2 L375.0 499.2 L377.0 500.2 L379.0 501.3 L381.0 502.3 L383.0 503.3 L385.0 504.4 L387.0 505.4 L389.0 506.5 L391.0 507.6 L393.0 508.6 L395.0 509.7 L397.0 510.8 L399.0 511.9 L401.0 513.0 L403.0 514.1 L405.0 515.2 L407.0 516.3 L409.0 517.4 L411.0 518.5 L413.0 519.6 L415.0 520.7 L417.0 521.9 L419.0 523.0 L421.0 524.1 L423.0 525.3 L425.0 526.4 L427.0 527.5 L429.0 528.7 L431.0 529.8 L433.0 531.0 L435.0 532.1 L437.0 533.3 L439.0 534.5 L441.0 535.6 L443.0 536.8 L445.0 537.9 L447.0 539.1 L449.0 540.3 L451.0 541.4 L453.0 542.6 L455.0 543.8 L457.0 544.9 L459.0 546.1 L461.0 547.2 L463.0 548.4 L465.0 549.6 L467.0 550.7 L469.0 551.9 L471.0 553.0 L473.0 554.2 L475.0 555.4 L477.0 556.5 L479.0 557.7 L481.0 558.8 L483.0 559.9 L485.0 561.1 L487.0 562.2 L489.0 563.4 L491.0 564.5 L493.0 565.6 L495.0 566.8 L497.0 567.9 L499.0 569.0 L501.0 570.1 L503.0 571.2 L505.0 572.3 L507.0 573.4 L509.0 574.5 L511.0 575.6 L513.0 576.7 L515.0 577.8 L517.0 578.8 L519.0 579.9 L521.0 580.9 L523.0 582.0 L525.0 583.0 L527.0 584.1 L529.0 585.1 L531.0 586.1 L533.0 587.1 L535.0 588.2 L537.0 589.2 L539.0 590.1 L541.0 591.1 L543.0 592.1 L545.0 593.1 L547.0 594.0 L549.0 595.0 L551.0 595.9 L553.0 596.8 L555.0 597.8 L557.0 598.7 L559.0 599.6 L561.0 600.5 L563.0 601.3 L565.0 602.2 L567.0 603.1 L569.0 603.9 L571.0 604.7 L573.0 605.6 L575.0 606.4 L577.0 607.2 L579.0 608.0 L581.0 608.7 L583.0 609.5 L585.0 610.2 L587.0 611.0 L589.0 611.7 L591.0 612.4 L593.0 613.1 L595.0 613.8 L597.0 614.5 L599.0 615.1 L601.0 615.8 L603.0 616.4 L605.0 617.0 L607.0 617.6 L609.0 618.2 L611.0 618.7 L613.0 619.3 L615.0 619.8 L617.0 620.3 L619.0 620.8 L621.0 621.3 L623.0 621.8 L625.0 622.3 L627.0 622.7 L629.0 623.1 L631.0 623.5 L633.0 623.9 L635.0 624.3 L637.0 624.6 L639.0 625.0 L641.0 625.3 L643.0 625.6 L645.0 625.8 L647.0 626.1 L649.0 626.3 L651.0 626.6 L653.0 626.8 L655.0 626.9 L657.0 627.1 L659.0 627.2 L661.0 627.4 L663.0 627.5 L665.0 627.5 L667.0 627.6 L669.0 627.6 L671.0 627.6 L673.0 627.6 L675.0 627.6 L677.0 627.6 L679.0 627.5"/><path d="M126.9 447.9 L128.9 448.9 L130.9 449.9 L132.9 451.0 L134.9 452.0 L136.9 453.1 L138.9 454.3 L140.9 455.4 L142.9 456.6 L144.9 457.8 L146.9 459.0 L148.9 460.3 L150.9 461.5 L152.9 462.8 L154.9 464.1 L156.9 465.4 L158.9 466.8 L160.9 468.2 L162.9 469.5 L164.9 470.9 L166.9 472.4 L168.9 473.8 L170.9 475.3 L172.9 476.7 L174.9 478.2 L176.9 479.7 L178.9 481.2 L180.9 482.8 L182.9 484.3 L184.9 485.8 L186.9 487.4 L188.9 489.0 L190.9 490.6 L192.9 492.2 L194.9 493.8 L196.9 495.4 L198.9 497.0 L200.9 498.7 L202.9 500.3 L204.9 502.0 L206.9 503.6 L208.9 505.3 L210.9 506.9 L212.9 508.6 L214.9 510.3 L216.9 512.0 L218.9 513.7 L220.9 515.4 L222.9 517.1 L224.9 518.8 L226.9 520.4 L228.9 522.1 L230.9 523.8 L232.9 525.5 L234.9 527.2 L236.9 528.9 L238.9 530.6 L240.9 532.3 L242.9 534.0 L244.9 535.7 L246.9 537.4 L248.9 539.0 L250.9 540.7 L252.9 542.4 L254.9 544.0 L256.9 545.7 L258.9 547.3 L260.9 549.0 L262.9 550.6 L264.9 552.2 L266.9 553.9 L268.9 555.5 L270.9 557.1 L272.9 558.6 L274.9 560.2 L276.9 561.8 L278.9 563.4 L280.9 564.9 L282.9 566.5 L284.9 568.0 L286.9 569.5 L288.9 571.0 L290.9 572.6 L292.9 574.1 L294.9 575.6 L296.9 577.1 L298.9 578.5 L300.9 580.0 L302.9 581.5 L304.9 582.9 L306.9 584.4 L308.9 585.9 L310.9 587.3 L312.9 588.7 L314.9 590.2 L316.9 591.6 L318.9 593.0 L320.9 594.4 L322.9 595.8 L324.9 597.2 L326.9 598.6 L328.9 600.0 L330.9 601.4 L332.9 602.8 L334.9 604.1 L336.9 605.5 L338.9 606.9 L340.9 608.2 L342.9 609.6 L344.9 610.9 L346.9 612.3 L348.9 613.6 L350.9 615.0 L352.9 616.3 L354.9 617.6 L356.9 619.0 L358.9 620.3 L360.9 621.6 L362.9 622.9 L364.9 624.2 L366.9 625.5 L368.9 626.9 L370.9 628.2 L372.9 629.5 L374.9 630.8 L376.9 632.1 L378.9 633.4 L380.9 634.6 L382.9 635.9 L384.9 637.2 L386.9 638.5 L388.9 639.8 L390.9 641.1 L392.9 642.4 L394.9 643.6 L396.9 644.9 L398.9 646.2 L400.9 647.5 L402.9 648.7 L404.9 650.0 L406.9 651.3 L408.9 652.6 L410.9 653.8 L412.9 655.1 L414.9 656.4 L416.9 657.6 L418.9 658.9 L420.9 660.1 L422.9 661.4 L424.9 662.7 L426.9 663.9 L428.9 665.2 L430.9 666.4 L432.9 667.6 L434.9 668.9 L436.9 670.1 L438.9 671.3 L440.9 672.5 L442.9 673.7 L444.9 674.9 L446.9 676.1 L448.9 677.3 L450.9 678.5 L452.9 679.7 L454.9 680.9 L456.9 682.1 L458.9 683.2 L460.9 684.4 L462.9 685.5 L464.9 686.6 L466.9 687.8 L468.9 688.9 L470.9 690.0 L472.9 691.1 L474.9 692.2 L476.9 693.3 L478.9 694.4 L480.9 695.4 L482.9 696.5 L484.9 697.5 L486.9 698.5 L488.9 699.6 L490.9 700.6 L492.9 701.6 L494.9 702.5 L496.9 703.5 L498.9 704.5 L500.9 705.4 L502.9 706.4 L504.9 707.3 L506.9 708.2 L508.9 709.1 L510.9 710.0 L512.9 710.8 L514.9 711.7 L516.9 712.5 L518.9 713.4 L520.9 714.2 L522.9 715.0 L524.9 715.8 L526.9 716.5 L528.9 717.3 L530.9 718.0 L532.9 718.7 L534.9 719.4 L536.9 720.1 L538.9 720.8 L540.9 721.4 L542.9 722.0 L544.9 722.6 L546.9 723.2 L548.9 723.8 L550.9 724.4 L552.9 724.9 L554.9 725.4 L556.9 725.9 L558.9 726.4 L560.9 726.9 L562.9 727.4 L564.9 727.8 L566.9 728.2 L568.9 728.7 L570.9 729.1 L572.9 729.4 L574.9 729.8 L576.9 730.2 L578.9 730.5 L580.9 730.9 L582.9 731.2 L584.9 731.5 L586.9 731.8 L588.9 732.1 L590.9 732.4 L592.9 732.7 L594.9 733.0 L596.9 733.3 L598.9 733.5 L600.9 733.8 L602.9 734.0 L604.9 734.3 L606.9 734.5 L608.9 734.8 L610.9 735.0 L612.9 735.2 L614.9 735.4 L616.9 735.6 L618.9 735.9 L620.9 736.1 L622.9 736.3 L624.9 736.5 L626.9 736.7 L628.9 736.9 L630.9 737.1 L632.9 737.3 L634.9 737.5 L636.9 737.7 L638.9 737.9 L640.9 738.0 L642.9 738.2 L644.9 738.4 L646.9 738.5 L648.9 738.7 L650.9 738.8 L652.9 739.0 L654.9 739.1 L656.9 739.2 L658.9 739.3 L660.9 739.4 L662.9 739.5 L664.9 739.6 L666.9 739.7 L668.9 739.8 L670.9 739.9 L672.9 739.9 L674.9 740.0 L676.9 740.0 L678.9 740.0"/><path d="M127.4 567.6 L129.4 568.4 L131.4 569.3 L133.4 570.2 L135.4 571.1 L137.4 572.0 L139.4 573.0 L141.4 574.0 L143.4 575.0 L145.4 576.0 L147.4 577.1 L149.4 578.2 L151.4 579.3 L153.4 580.4 L155.4 581.5 L157.4 582.7 L159.4 583.9 L161.4 585.1 L163.4 586.3 L165.4 587.5 L167.4 588.8 L169.4 590.1 L171.4 591.4 L173.4 592.7 L175.4 594.0 L177.4 595.3 L179.4 596.7 L181.4 598.1 L183.4 599.5 L185.4 600.9 L187.4 602.3 L189.4 603.7 L191.4 605.2 L193.4 606.6 L195.4 608.1 L197.4 609.6 L199.4 611.0 L201.4 612.5 L203.4 614.1 L205.4 615.6 L207.4 617.1 L209.4 618.6 L211.4 620.2 L213.4 621.7 L215.4 623.3 L217.4 624.9 L219.4 626.4 L221.4 628.0 L223.4 629.6 L225.4 631.2 L227.4 632.8 L229.4 634.4 L231.4 636.0 L233.4 637.6 L235.4 639.2 L237.4 640.8 L239.4 642.4 L241.4 644.1 L243.4 645.7 L245.4 647.3 L247.4 648.9 L249.4 650.5 L251.4 652.1 L253.4 653.8 L255.4 655.4 L257.4 657.0 L259.4 658.6 L261.4 660.2 L263.4 661.8 L265.4 663.4 L267.4 665.0 L269.4 666.6 L271.4 668.2 L273.4 669.8 L275.4 671.4 L277.4 673.0 L279.4 674.6 L281.4 676.1 L283.4 677.7 L285.4 679.3 L287.4 680.8 L289.4 682.4 L291.4 683.9 L293.4 685.5 L295.4 687.0 L297.4 688.6 L299.4 690.1 L301.4 691.6 L303.4 693.1 L305.4 694.6 L307.4 696.1 L309.4 697.6 L311.4 699.1 L313.4 700.6 L315.4 702.0 L317.4 703.5 L319.4 705.0 L321.4 706.4 L323.4 707.8 L325.4 709.3 L327.4 710.7 L329.4 712.1 L331.4 713.5 L333.4 714.9 L335.4 716.3 L337.4 717.6 L339.4 719.0 L341.4 720.4 L343.4 721.7 L345.4 723.0 L347.4 724.4 L349.4 725.7 L351.4 727.0 L353.4 728.3 L355.4 729.6 L357.4 730.9 L359.4 732.2 L361.4 733.5 L363.4 734.8 L365.4 736.1 L367.4 737.3 L369.4 738.6 L371.4 739.8 L373.4 741.1 L375.4 742.3 L377.4 743.5 L379.4 744.8 L381.4 746.0 L383.4 747.2 L385.4 748.4 L387.4 749.6 L389.4 750.8 L391.4 752.0 L393.4 753.2 L395.4 754.4 L397.4 755.6 L399.4 756.7 L401.4 757.9 L403.4 759.1 L405.4 760.2 L407.4 761.4 L409.4 762.5 L411.4 763.6 L413.4 764.8 L415.4 765.9 L417.4 767.0 L419.4 768.1 L421.4 769.2 L423.4 770.3 L425.4 771.4 L427.4 772.5 L429.4 773.5 L431.4 774.6 L433.4 775.7 L435.4 776.7 L437.4 777.8 L439.4 778.8 L441.4 779.9 L443.4 780.9 L445.4 781.9 L447.4 782.9 L449.4 783.9 L451.4 784.9 L453.4 785.9 L455.4 786.9 L457.4 787.8 L459.4 788.8 L461.4 789.8 L463.4 790.7 L465.4 791.7 L467.4 792.6 L469.4 793.5 L471.4 794.4 L473.4 795.3 L475.4 796.2 L477.4 797.1 L479.4 798.0 L481.4 798.9 L483.4 799.8 L485.4 800.6 L487.4 801.5 L489.4 802.3 L491.4 803.1 L493.4 804.0 L495.4 804.8 L497.4 805.6 L499.4 806.4 L501.4 807.1 L503.4 807.9 L505.4 808.7 L507.4 809.4 L509.4 810.2 L511.4 810.9 L513.4 811.7 L515.4 812.4 L517.4 813.1 L519.4 813.8 L521.4 814.5 L523.4 815.2 L525.4 815.8 L527.4 816.5 L529.4 817.1 L531.4 817.8 L533.4 818.4 L535.4 819.0 L537.4 819.6 L539.4 820.2 L541.4 820.8 L543.4 821.4 L545.4 822.0 L547.4 822.5 L549.4 823.1 L551.4 823.6 L553.4 824.1 L555.4 824.6 L557.4 825.1 L559.4 825.6 L561.4 826.1 L563.4 826.6 L565.4 827.0 L567.4 827.5 L569.4 827.9 L571.4 828.3 L573.4 828.7 L575.4 829.1 L577.4 829.5 L579.4 829.9 L581.4 830.3 L583.4 830.6 L585.4 831.0 L587.4 831.3 L589.4 831.6 L591.4 831.9 L593.4 832.2 L595.4 832.5 L597.4 832.8 L599.4 833.1 L601.4 833.3 L603.4 833.6 L605.4 833.8 L607.4 834.0 L609.4 834.2 L611.4 834.4 L613.4 834.6 L615.4 834.8 L617.4 835.0 L619.4 835.1 L621.4 835.3 L623.4 835.4 L625.4 835.5 L627.4 835.7 L629.4 835.8 L631.4 835.9 L633.4 836.0 L635.4 836.1 L637.4 836.1 L639.4 836.2 L641.4 836.3 L643.4 836.3 L645.4 836.4 L647.4 836.4 L649.4 836.4 L651.4 836.5 L653.4 836.5 L655.4 836.5 L657.4 836.5 L659.4 836.5 L661.4 836.5 L663.4 836.5 L665.4 836.4 L667.4 836.4 L669.4 836.4 L671.4 836.3 L673.4 836.3 L675.4 836.2 L677.4 836.2"/><path d="M127.4 643.6 L129.4 644.4 L131.4 645.2 L133.4 646.0 L135.4 646.9 L137.4 647.8 L139.4 648.8 L141.4 649.8 L143.4 650.8 L145.4 651.9 L147.4 653.1 L149.4 654.3 L151.4 655.5 L153.4 656.7 L155.4 658.0 L157.4 659.4 L159.4 660.7 L161.4 662.1 L163.4 663.5 L165.4 665.0 L167.4 666.4 L169.4 668.0 L171.4 669.5 L173.4 671.0 L175.4 672.6 L177.4 674.2 L179.4 675.9 L181.4 677.5 L183.4 679.2 L185.4 680.9 L187.4 682.6 L189.4 684.3 L191.4 686.0 L193.4 687.8 L195.4 689.5 L197.4 691.3 L199.4 693.1 L201.4 694.9 L203.4 696.7 L205.4 698.5 L207.4 700.4 L209.4 702.2 L211.4 704.1 L213.4 706.0 L215.4 707.8 L217.4 709.7 L219.4 711.6 L221.4 713.6 L223.4 715.5 L225.4 717.4 L227.4 719.3 L229.4 721.3 L231.4 723.2 L233.4 725.2 L235.4 727.2 L237.4 729.1 L239.4 731.1 L241.4 733.1 L243.4 735.1 L245.4 737.1 L247.4 739.1 L249.4 741.1 L251.4 743.1 L253.4 745.1 L255.4 747.1 L257.4 749.1 L259.4 751.1 L261.4 753.1 L263.4 755.1 L265.4 757.1 L267.4 759.0 L269.4 761.0 L271.4 763.0 L273.4 765.0 L275.4 766.9 L277.4 768.8 L279.4 770.8 L281.4 772.7 L283.4 774.6 L285.4 776.5 L287.4 778.4 L289.4 780.2 L291.4 782.0 L293.4 783.9 L295.4 785.7 L297.4 787.4 L299.4 789.2 L301.4 790.9 L303.4 792.6 L305.4 794.3 L307.4 796.0 L309.4 797.6 L311.4 799.2 L313.4 800.8 L315.4 802.3 L317.4 803.8 L319.4 805.3 L321.4 806.7 L323.4 808.1 L325.4 809.5 L327.4 810.9 L329.4 812.2 L331.4 813.5 L333.4 814.8 L335.4 816.0 L337.4 817.2 L339.4 818.4 L341.4 819.6 L343.4 820.8 L345.4 821.9 L347.4 823.0 L349.4 824.1 L351.4 825.2 L353.4 826.3 L355.4 827.4 L357.4 828.4 L359.4 829.5 L361.4 830.5 L363.4 831.5 L365.4 832.5 L367.4 833.5 L369.4 834.5 L371.4 835.5 L373.4 836.5 L375.4 837.5 L377.4 838.5 L379.4 839.5 L381.4 840.5 L383.4 841.5 L385.4 842.4 L387.4 843.4 L389.4 844.4 L391.4 845.4 L393.4 846.5 L395.4 847.5 L397.4 848.5 L399.4 849.5 L401.4 850.6 L403.4 851.6 L405.4 852.7 L407.4 853.7 L409.4 854.8 L411.4 855.9 L413.4 856.9 L415.4 858.0 L417.4 859.1 L419.4 860.2 L421.4 861.3 L423.4 862.4 L425.4 863.5 L427.4 864.6 L429.4 865.7 L431.4 866.8 L433.4 867.9 L435.4 869.0 L437.4 870.1 L439.4 871.3 L441.4 872.4 L443.4 873.5 L445.4 874.6 L447.4 875.8 L449.4 876.9 L451.4 878.0 L453.4 879.1 L455.4 880.3 L457.4 881.4 L459.4 882.5 L461.4 883.6 L463.4 884.8 L465.4 885.9 L467.4 887.0 L469.4 888.1 L471.4 889.2 L473.4 890.4 L475.4 891.5 L477.4 892.6 L479.4 893.7 L481.4 894.8 L483.4 895.9 L485.4 897.0 L487.4 898.1 L489.4 899.2 L491.4 900.3 L493.4 901.3 L495.4 902.4 L497.4 903.5 L499.4 904.5 L501.4 905.6 L503.4 906.6 L505.4 907.7 L507.4 908.7 L509.4 909.8 L511.4 910.8 L513.4 911.8 L515.4 912.8 L517.4 913.8 L519.4 914.8 L521.4 915.8 L523.4 916.8 L525.4 917.8 L527.4 918.7 L529.4 919.7 L531.4 920.6 L533.4 921.5 L535.4 922.5 L537.4 923.4 L539.4 924.3 L541.4 925.1 L543.4 926.0 L545.4 926.9 L547.4 927.7 L549.4 928.5 L551.4 929.3 L553.4 930.1 L555.4 930.9 L557.4 931.6 L559.4 932.3 L561.4 933.0 L563.4 933.7 L565.4 934.4 L567.4 935.0 L569.4 935.6 L571.4 936.2 L573.4 936.7 L575.4 937.3 L577.4 937.8 L579.4 938.3 L581.4 938.7 L583.4 939.2 L585.4 939.6 L587.4 940.0 L589.4 940.4 L591.4 940.8 L593.4 941.2 L595.4 941.5 L597.4 941.8 L599.4 942.1 L601.4 942.4 L603.4 942.7 L605.4 943.0 L607.4 943.3 L609.4 943.5 L611.4 943.7 L613.4 944.0 L615.4 944.2 L617.4 944.4 L619.4 944.6 L621.4 944.8 L623.4 945.0 L625.4 945.1 L627.4 945.3 L629.4 945.4 L631.4 945.6 L633.4 945.7 L635.4 945.9 L637.4 946.0 L639.4 946.1 L641.4 946.3 L643.4 946.4 L645.4 946.5 L647.4 946.6 L649.4 946.7 L651.4 946.9 L653.4 947.0 L655.4 947.1 L657.4 947.2 L659.4 947.3 L661.4 947.4 L663.4 947.5 L665.4 947.7 L667.4 947.8 L669.4 947.9 L671.4 948.0 L673.4 948.2 L675.4 948.3 L677.4 948.4"/></g><g fill="#231f20"><circle cx="125.4" cy="88.9" r="3.9"/><circle cx="134.5" cy="315.9" r="3.9"/><circle cx="126.5" cy="425.4" r="3.9"/><circle cx="124.4" cy="447.3" r="3.9"/><circle cx="124.9" cy="567.2" r="3.9"/><circle cx="124.9" cy="642.9" r="3.9"/></g><ellipse cx="661" cy="228.5" rx="0.9" ry="1.7" fill="#444" transform="rotate(20 661 228.5)"/><g fill="none" stroke="#a8a8a8" stroke-width="1.6" stroke-dasharray="24 9"><path d="M590.0 503.0 L592.0 503.6 L594.0 504.2 L596.0 504.9 L598.0 505.5 L600.0 506.1 L602.0 506.8 L604.0 507.4 L606.0 508.1 L608.0 508.7 L610.0 509.4 L612.0 510.1 L614.0 510.8 L616.0 511.4 L618.0 512.1 L620.0 512.8 L622.0 513.6 L624.0 514.3 L626.0 515.1 L628.0 515.8 L630.0 516.6 L632.0 517.4 L634.0 518.1 L636.0 518.9 L638.0 519.7 L640.0 520.4 L642.0 521.2 L644.0 522.0 L646.0 522.7 L648.0 523.4 L650.0 524.1 L652.0 524.8 L654.0 525.5 L656.0 526.1 L658.0 526.8 L660.0 527.4 L662.0 528.0 L664.0 528.6 L666.0 529.3 L668.0 529.9 L670.0 530.4 L672.0 531.0 L674.0 531.6 L676.0 532.2 L678.0 532.7"/><path d="M585.0 611.0 L587.0 611.3 L589.0 611.5 L591.0 611.8 L593.0 612.0 L595.0 612.2 L597.0 612.4 L599.0 612.5 L601.0 612.6 L603.0 612.6 L605.0 612.6 L607.0 612.6 L609.0 612.6 L611.0 612.6 L613.0 612.6 L615.0 612.6 L617.0 612.6 L619.0 612.6 L621.0 612.6 L623.0 612.6 L625.0 612.6 L627.0 612.6 L629.0 612.6 L631.0 612.6 L633.0 612.6 L635.0 612.6 L637.0 612.6 L639.0 612.5 L641.0 612.5 L643.0 612.5 L645.0 612.4 L647.0 612.4 L649.0 612.3 L651.0 612.3 L653.0 612.2 L655.0 612.1 L657.0 612.0 L659.0 612.0 L661.0 611.9 L663.0 611.8 L665.0 611.7 L667.0 611.6 L669.0 611.5 L671.0 611.4 L673.0 611.3 L675.0 611.2 L677.0 611.1 L679.0 611.0"/><path d="M520.0 720.0 L522.0 721.1 L524.0 722.2 L526.0 723.3 L528.0 724.3 L530.0 725.2 L532.0 726.2 L534.0 727.0 L536.0 727.9 L538.0 728.6 L540.0 729.3 L542.0 730.0 L544.0 730.6 L546.0 731.1 L548.0 731.6 L550.0 732.0 L552.0 732.4 L554.0 732.7 L556.0 733.0 L558.0 733.3 L560.0 733.5 L562.0 733.8 L564.0 734.1 L566.0 734.5 L568.0 734.8 L570.0 735.2 L572.0 735.5 L574.0 735.9 L576.0 736.3 L578.0 736.7 L580.0 737.0 L582.0 737.4 L584.0 737.8 L586.0 738.2 L588.0 738.5 L590.0 738.9 L592.0 739.2 L594.0 739.5 L596.0 739.8 L598.0 740.1 L600.0 740.4 L602.0 740.7 L604.0 740.9 L606.0 741.2 L608.0 741.4 L610.0 741.6 L612.0 741.9 L614.0 742.1 L616.0 742.3 L618.0 742.5 L620.0 742.7 L622.0 742.9 L624.0 743.1 L626.0 743.3 L628.0 743.5 L630.0 743.6 L632.0 743.8 L634.0 743.9 L636.0 744.1 L638.0 744.2 L640.0 744.3 L642.0 744.5 L644.0 744.6 L646.0 744.7 L648.0 744.8 L650.0 745.0 L652.0 745.1 L654.0 745.2 L656.0 745.3 L658.0 745.4 L660.0 745.5 L662.0 745.6 L664.0 745.7 L666.0 745.8 L668.0 745.9 L670.0 745.9 L672.0 746.0 L674.0 746.1 L676.0 746.1 L678.0 746.2"/><path d="M255.0 659.0 L257.0 660.6 L259.0 662.3 L261.0 664.0 L263.0 665.7 L265.0 667.4 L267.0 669.2 L269.0 671.0 L271.0 672.8 L273.0 674.6 L275.0 676.5 L277.0 678.4 L279.0 680.3 L281.0 682.2 L283.0 684.1 L285.0 686.0 L287.0 688.0 L289.0 690.0 L291.0 692.2 L293.0 694.4 L295.0 696.6 L297.0 698.9 L299.0 701.1 L301.0 703.3 L303.0 705.5 L305.0 707.6 L307.0 709.5 L309.0 711.4 L311.0 713.1 L313.0 714.8 L315.0 716.5 L317.0 718.1 L319.0 719.7 L321.0 721.3 L323.0 722.8 L325.0 724.3 L327.0 725.8 L329.0 727.2 L331.0 728.6 L333.0 730.0 L335.0 731.3 L337.0 732.6 L339.0 733.9 L341.0 735.1 L343.0 736.2 L345.0 737.4 L347.0 738.5 L349.0 739.6 L351.0 740.7 L353.0 741.7 L355.0 742.8 L357.0 743.8 L359.0 744.7 L361.0 745.7 L363.0 746.6 L365.0 747.5 L367.0 748.4 L369.0 749.2 L371.0 750.1 L373.0 750.9 L375.0 751.7 L377.0 752.4 L379.0 753.2 L381.0 753.9 L383.0 754.7 L385.0 755.4 L387.0 756.1 L389.0 756.7 L391.0 757.4 L393.0 758.0 L395.0 758.6 L397.0 759.2 L399.0 759.7"/><path d="M560.0 829.0 L562.0 829.0 L564.0 829.0 L566.0 829.0 L568.0 829.0 L570.0 829.1 L572.0 829.1 L574.0 829.1 L576.0 829.1 L578.0 829.1 L580.0 829.1 L582.0 829.2 L584.0 829.2 L586.0 829.2 L588.0 829.2 L590.0 829.2 L592.0 829.3 L594.0 829.3 L596.0 829.3 L598.0 829.3 L600.0 829.4 L602.0 829.4 L604.0 829.4 L606.0 829.4 L608.0 829.5 L610.0 829.5 L612.0 829.5 L614.0 829.5 L616.0 829.6 L618.0 829.6 L620.0 829.6 L622.0 829.7 L624.0 829.7 L626.0 829.7 L628.0 829.8 L630.0 829.8 L632.0 829.8 L634.0 829.9 L636.0 829.9 L638.0 830.0 L640.0 830.0 L642.0 830.0 L644.0 830.1 L646.0 830.1 L648.0 830.2 L650.0 830.2 L652.0 830.3 L654.0 830.3 L656.0 830.4 L658.0 830.4 L660.0 830.5 L662.0 830.5 L664.0 830.6 L666.0 830.6 L668.0 830.7 L670.0 830.7 L672.0 830.8 L674.0 830.9 L676.0 830.9 L678.0 831.0"/><path d="M335.0 822.0 L337.0 824.5 L339.0 827.0 L341.0 829.3 L343.0 831.6 L345.0 833.7 L347.0 835.7 L349.0 837.5 L351.0 839.1 L353.0 840.7 L355.0 842.3 L357.0 843.8 L359.0 845.2 L361.0 846.6 L363.0 848.0 L365.0 849.2 L367.0 850.5 L369.0 851.6 L371.0 852.7 L373.0 853.8 L375.0 854.8 L377.0 855.7 L379.0 856.6 L381.0 857.4 L383.0 858.2 L385.0 858.9 L387.0 859.6 L389.0 860.3 L391.0 860.9 L393.0 861.6 L395.0 862.2 L397.0 862.8 L399.0 863.4 L401.0 864.0 L403.0 864.6 L405.0 865.2 L407.0 865.8 L409.0 866.4 L411.0 867.1 L413.0 867.8 L415.0 868.5 L417.0 869.2 L419.0 870.0 L421.0 870.7 L423.0 871.4 L425.0 872.2 L427.0 872.9 L429.0 873.7 L431.0 874.5 L433.0 875.3 L435.0 876.0 L437.0 876.8 L439.0 877.6"/><path d="M560.0 934.0 L562.0 933.9 L564.0 933.7 L566.0 933.6 L568.0 933.5 L570.0 933.3 L572.0 933.2 L574.0 933.0 L576.0 932.9 L578.0 932.8 L580.0 932.6 L582.0 932.5 L584.0 932.3 L586.0 932.2 L588.0 932.0 L590.0 931.9 L592.0 931.8 L594.0 931.6 L596.0 931.5 L598.0 931.3 L600.0 931.2 L602.0 931.0 L604.0 930.9 L606.0 930.7 L608.0 930.6 L610.0 930.4 L612.0 930.3 L614.0 930.1 L616.0 930.0 L618.0 929.8 L620.0 929.6 L622.0 929.4 L624.0 929.2 L626.0 929.0 L628.0 928.8 L630.0 928.6 L632.0 928.4 L634.0 928.2 L636.0 928.1 L638.0 927.9 L640.0 927.8 L642.0 927.6 L644.0 927.5 L646.0 927.5 L648.0 927.4 L650.0 927.4 L652.0 927.4 L654.0 927.4 L656.0 927.4 L658.0 927.4 L660.0 927.4 L662.0 927.4 L664.0 927.5 L666.0 927.5 L668.0 927.5 L670.0 927.6 L672.0 927.7 L674.0 927.7 L676.0 927.8 L678.0 927.9"/></g><g stroke="#231f20" stroke-width="3.2" fill="none" stroke-linecap="butt"><path d="M125 19V1052M123.4 1052H680.5"/><path d="M114 967.4H125M114 862.2H125M114 757.0H125M114 651.8H125M114 546.6H125M114 441.4H125M114 336.2H125M114 231.0H125M114 125.8H125M114 20.6H125M177.3 1052V1062M281.9 1052V1062M386.4 1052V1062M490.9 1052V1062M595.5 1052V1062"/></g><g font-family="Liberation Sans, sans-serif" font-size="28.5" fill="#231f20" text-anchor="end"><text x="96" y="976.8">−1</text><text x="96" y="871.6">0</text><text x="96" y="766.4">1</text><text x="96" y="661.2">2</text><text x="96" y="556.0">3</text><text x="96" y="450.8">4</text><text x="96" y="345.6">5</text><text x="96" y="240.4">6</text><text x="96" y="135.2">7</text><text x="96" y="30.0">8</text></g><g font-family="Liberation Sans, sans-serif" font-size="28.5" fill="#231f20" text-anchor="middle"><text x="281.7" y="1093.5">0.10</text><text x="490.5" y="1093.5">0.20</text></g><g font-family="Liberation Sans, sans-serif" font-size="26" fill="#231f20" text-anchor="middle"><text x="259.3" y="153.4">1</text><text x="259.3" y="319.4">2</text><text x="259.3" y="425">3</text><text x="259.3" y="527">4</text><text x="259.3" y="625">5</text><text x="259.3" y="722">6</text></g><text font-family="Liberation Sans, sans-serif" font-size="27.5" fill="#231f20" x="0" y="0" transform="translate(24 541) rotate(-90)" text-anchor="middle">lgI (relative)</text><text font-family="Liberation Sans, sans-serif" font-size="25.5" fill="#231f20" x="348" y="1132">s</text><text font-family="Liberation Sans, sans-serif" font-size="25.5" fill="#231f20" x="370" y="1132">(Å</text><rect x="397" y="1114.2" width="15.4" height="2.2" fill="#231f20"/><text font-family="Liberation Sans, sans-serif" font-size="21" fill="#231f20" x="413.5" y="1121.5">1</text><text font-family="Liberation Sans, sans-serif" font-size="25.5" fill="#231f20" x="428.5" y="1132">)</text><text font-family="Liberation Sans, sans-serif" font-size="34" font-weight="bold" fill="#231f20" x="1" y="29.5">a</text><path d="M122.6 1713.5 L131.7 1698.8 L140.8 1675.3 L149.9 1632.6 L159.0 1588.4 L168.1 1532.5 L177.2 1477.4 L186.3 1426.3 L195.4 1374.4 L204.5 1324.8 L213.6 1288.7 L222.7 1256.4 L231.8 1227.8 L240.9 1208.0 L250.1 1197.4 L259.2 1193.2 L268.3 1196.3 L277.4 1204.5 L286.5 1217.6 L295.6 1232.7 L304.7 1253.4 L313.8 1277.4 L322.9 1306.7 L332.0 1337.7 L341.1 1369.5 L350.2 1403.9 L359.3 1434.2 L368.4 1461.4 L377.5 1483.6 L386.6 1505.6 L395.7 1531.5 L404.8 1560.2 L413.9 1581.4 L423.0 1600.5 L432.1 1614.4 L441.2 1625.4 L450.3 1634.8 L459.4 1642.7 L468.5 1649.6 L477.6 1656.0 L486.7 1662.3 L495.9 1667.3 L505.0 1670.8 L514.1 1673.9 L523.2 1677.4 L532.3 1680.8 L541.4 1684.9 L550.5 1690.4 L559.6 1696.7 L568.7 1703.6 L577.8 1713.5" fill="none" stroke="#231f20" stroke-width="2.2"/><circle cx="122.6" cy="1713.5" r="6.5" fill="#231f20"/><circle cx="131.7" cy="1698.8" r="6.5" fill="#231f20"/><circle cx="140.8" cy="1675.3" r="6.5" fill="#231f20"/><circle cx="149.9" cy="1632.6" r="6.5" fill="#231f20"/><circle cx="159.0" cy="1588.4" r="6.5" fill="#231f20"/><circle cx="168.1" cy="1532.5" r="6.5" fill="#231f20"/><circle cx="177.2" cy="1477.4" r="6.5" fill="#231f20"/><circle cx="186.3" cy="1426.3" r="6.5" fill="#231f20"/><circle cx="195.4" cy="1374.4" r="6.5" fill="#231f20"/><circle cx="204.5" cy="1324.8" r="6.5" fill="#231f20"/><circle cx="213.6" cy="1288.7" r="6.5" fill="#231f20"/><circle cx="222.7" cy="1256.4" r="6.5" fill="#231f20"/><circle cx="231.8" cy="1227.8" r="6.5" fill="#231f20"/><circle cx="240.9" cy="1208.0" r="6.5" fill="#231f20"/><circle cx="250.1" cy="1197.4" r="6.5" fill="#231f20"/><circle cx="259.2" cy="1193.2" r="6.5" fill="#231f20"/><circle cx="268.3" cy="1196.3" r="6.5" fill="#231f20"/><circle cx="277.4" cy="1204.5" r="6.5" fill="#231f20"/><circle cx="286.5" cy="1217.6" r="6.5" fill="#231f20"/><circle cx="295.6" cy="1232.7" r="6.5" fill="#231f20"/><circle cx="304.7" cy="1253.4" r="6.5" fill="#231f20"/><circle cx="313.8" cy="1277.4" r="6.5" fill="#231f20"/><circle cx="322.9" cy="1306.7" r="6.5" fill="#231f20"/><circle cx="332.0" cy="1337.7" r="6.5" fill="#231f20"/><circle cx="341.1" cy="1369.5" r="6.5" fill="#231f20"/><circle cx="350.2" cy="1403.9" r="6.5" fill="#231f20"/><circle cx="359.3" cy="1434.2" r="6.5" fill="#231f20"/><circle cx="368.4" cy="1461.4" r="6.5" fill="#231f20"/><circle cx="377.5" cy="1483.6" r="6.5" fill="#231f20"/><circle cx="386.6" cy="1505.6" r="6.5" fill="#231f20"/><circle cx="395.7" cy="1531.5" r="6.5" fill="#231f20"/><circle cx="404.8" cy="1560.2" r="6.5" fill="#231f20"/><circle cx="413.9" cy="1581.4" r="6.5" fill="#231f20"/><circle cx="423.0" cy="1600.5" r="6.5" fill="#231f20"/><circle cx="432.1" cy="1614.4" r="6.5" fill="#231f20"/><circle cx="441.2" cy="1625.4" r="6.5" fill="#231f20"/><circle cx="450.3" cy="1634.8" r="6.5" fill="#231f20"/><circle cx="459.4" cy="1642.7" r="6.5" fill="#231f20"/><circle cx="468.5" cy="1649.6" r="6.5" fill="#231f20"/><circle cx="477.6" cy="1656.0" r="6.5" fill="#231f20"/><circle cx="486.7" cy="1662.3" r="6.5" fill="#231f20"/><circle cx="495.9" cy="1667.3" r="6.5" fill="#231f20"/><circle cx="505.0" cy="1670.8" r="6.5" fill="#231f20"/><circle cx="514.1" cy="1673.9" r="6.5" fill="#231f20"/><circle cx="523.2" cy="1677.4" r="6.5" fill="#231f20"/><circle cx="532.3" cy="1680.8" r="6.5" fill="#231f20"/><circle cx="541.4" cy="1684.9" r="6.5" fill="#231f20"/><circle cx="550.5" cy="1690.4" r="6.5" fill="#231f20"/><circle cx="559.6" cy="1696.7" r="6.5" fill="#231f20"/><circle cx="568.7" cy="1703.6" r="6.5" fill="#231f20"/><circle cx="577.8" cy="1713.5" r="6.5" fill="#231f20"/><path d="M122.6 1713.5 L128.0 1674.9 L133.3 1649.2 L138.7 1618.1 L144.0 1592.1 L149.4 1564.8 L154.7 1524.2 L160.1 1476.5 L165.4 1421.7 L170.8 1353.7 L176.1 1273.1 L181.5 1231.7 L186.8 1210.7 L192.2 1197.2 L197.6 1193.5 L202.9 1198.4 L208.3 1212.7 L213.6 1229.7 L219.0 1248.0 L224.3 1269.0 L229.7 1300.6 L235.0 1334.9 L240.4 1368.3 L245.7 1391.9 L251.1 1413.6 L256.4 1440.2 L261.8 1472.5 L267.1 1495.4 L272.5 1516.2 L277.9 1540.6 L283.2 1563.6 L288.6 1577.4 L293.9 1594.3 L299.3 1607.3 L304.6 1619.9 L310.0 1629.3 L315.3 1636.2 L320.7 1642.6 L326.0 1647.6 L331.4 1650.8 L336.7 1654.4 L342.1 1658.5 L347.5 1662.7 L352.8 1667.1 L358.2 1671.8 L363.5 1676.8 L368.9 1681.7 L374.2 1687.7 L379.6 1695.5 L384.9 1704.3 L390.3 1713.5" fill="none" stroke="#231f20" stroke-width="2.2"/><path d="M116.5 1709.2L128.7 1709.2L122.6 1719.6Z" fill="#fff" stroke="#231f20" stroke-width="2.3"/><path d="M121.9 1670.6L134.1 1670.6L128.0 1681.0Z" fill="#fff" stroke="#231f20" stroke-width="2.3"/><path d="M127.2 1644.9L139.4 1644.9L133.3 1655.3Z" fill="#fff" stroke="#231f20" stroke-width="2.3"/><path d="M132.6 1613.8L144.8 1613.8L138.7 1624.2Z" fill="#fff" stroke="#231f20" stroke-width="2.3"/><path d="M137.9 1587.8L150.1 1587.8L144.0 1598.2Z" fill="#fff" stroke="#231f20" stroke-width="2.3"/><path d="M143.3 1560.5L155.5 1560.5L149.4 1570.9Z" fill="#fff" stroke="#231f20" stroke-width="2.3"/><path d="M148.6 1519.9L160.8 1519.9L154.7 1530.3Z" fill="#fff" stroke="#231f20" stroke-width="2.3"/><path d="M154.0 1472.3L166.2 1472.3L160.1 1482.6Z" fill="#fff" stroke="#231f20" stroke-width="2.3"/><path d="M159.3 1417.4L171.5 1417.4L165.4 1427.8Z" fill="#fff" stroke="#231f20" stroke-width="2.3"/><path d="M164.7 1349.5L176.9 1349.5L170.8 1359.8Z" fill="#fff" stroke="#231f20" stroke-width="2.3"/><path d="M170.0 1268.8L182.2 1268.8L176.1 1279.2Z" fill="#fff" stroke="#231f20" stroke-width="2.3"/><path d="M175.4 1227.5L187.6 1227.5L181.5 1237.8Z" fill="#fff" stroke="#231f20" stroke-width="2.3"/><path d="M180.7 1206.5L192.9 1206.5L186.8 1216.8Z" fill="#fff" stroke="#231f20" stroke-width="2.3"/><path d="M186.1 1193.0L198.3 1193.0L192.2 1203.3Z" fill="#fff" stroke="#231f20" stroke-width="2.3"/><path d="M191.5 1189.2L203.7 1189.2L197.6 1199.6Z" fill="#fff" stroke="#231f20" stroke-width="2.3"/><path d="M196.8 1194.1L209.0 1194.1L202.9 1204.5Z" fill="#fff" stroke="#231f20" stroke-width="2.3"/><path d="M202.2 1208.4L214.4 1208.4L208.3 1218.8Z" fill="#fff" stroke="#231f20" stroke-width="2.3"/><path d="M207.5 1225.4L219.7 1225.4L213.6 1235.8Z" fill="#fff" stroke="#231f20" stroke-width="2.3"/><path d="M212.9 1243.7L225.1 1243.7L219.0 1254.1Z" fill="#fff" stroke="#231f20" stroke-width="2.3"/><path d="M218.2 1264.8L230.4 1264.8L224.3 1275.1Z" fill="#fff" stroke="#231f20" stroke-width="2.3"/><path d="M223.6 1296.3L235.8 1296.3L229.7 1306.7Z" fill="#fff" stroke="#231f20" stroke-width="2.3"/><path d="M228.9 1330.7L241.1 1330.7L235.0 1341.0Z" fill="#fff" stroke="#231f20" stroke-width="2.3"/><path d="M234.3 1364.0L246.5 1364.0L240.4 1374.4Z" fill="#fff" stroke="#231f20" stroke-width="2.3"/><path d="M239.6 1387.6L251.8 1387.6L245.7 1398.0Z" fill="#fff" stroke="#231f20" stroke-width="2.3"/><path d="M245.0 1409.3L257.2 1409.3L251.1 1419.7Z" fill="#fff" stroke="#231f20" stroke-width="2.3"/><path d="M250.3 1436.0L262.5 1436.0L256.4 1446.3Z" fill="#fff" stroke="#231f20" stroke-width="2.3"/><path d="M255.7 1468.2L267.9 1468.2L261.8 1478.6Z" fill="#fff" stroke="#231f20" stroke-width="2.3"/><path d="M261.0 1491.1L273.2 1491.1L267.1 1501.5Z" fill="#fff" stroke="#231f20" stroke-width="2.3"/><path d="M266.4 1512.0L278.6 1512.0L272.5 1522.3Z" fill="#fff" stroke="#231f20" stroke-width="2.3"/><path d="M271.8 1536.3L284.0 1536.3L277.9 1546.7Z" fill="#fff" stroke="#231f20" stroke-width="2.3"/><path d="M277.1 1559.3L289.3 1559.3L283.2 1569.7Z" fill="#fff" stroke="#231f20" stroke-width="2.3"/><path d="M282.5 1573.1L294.7 1573.1L288.6 1583.5Z" fill="#fff" stroke="#231f20" stroke-width="2.3"/><path d="M287.8 1590.0L300.0 1590.0L293.9 1600.4Z" fill="#fff" stroke="#231f20" stroke-width="2.3"/><path d="M293.2 1603.0L305.4 1603.0L299.3 1613.4Z" fill="#fff" stroke="#231f20" stroke-width="2.3"/><path d="M298.5 1615.6L310.7 1615.6L304.6 1626.0Z" fill="#fff" stroke="#231f20" stroke-width="2.3"/><path d="M303.9 1625.0L316.1 1625.0L310.0 1635.4Z" fill="#fff" stroke="#231f20" stroke-width="2.3"/><path d="M309.2 1631.9L321.4 1631.9L315.3 1642.3Z" fill="#fff" stroke="#231f20" stroke-width="2.3"/><path d="M314.6 1638.3L326.8 1638.3L320.7 1648.7Z" fill="#fff" stroke="#231f20" stroke-width="2.3"/><path d="M319.9 1643.3L332.1 1643.3L326.0 1653.7Z" fill="#fff" stroke="#231f20" stroke-width="2.3"/><path d="M325.3 1646.5L337.5 1646.5L331.4 1656.9Z" fill="#fff" stroke="#231f20" stroke-width="2.3"/><path d="M330.6 1650.1L342.8 1650.1L336.7 1660.5Z" fill="#fff" stroke="#231f20" stroke-width="2.3"/><path d="M336.0 1654.2L348.2 1654.2L342.1 1664.6Z" fill="#fff" stroke="#231f20" stroke-width="2.3"/><path d="M341.4 1658.4L353.6 1658.4L347.5 1668.8Z" fill="#fff" stroke="#231f20" stroke-width="2.3"/><path d="M346.7 1662.8L358.9 1662.8L352.8 1673.2Z" fill="#fff" stroke="#231f20" stroke-width="2.3"/><path d="M352.1 1667.5L364.3 1667.5L358.2 1677.9Z" fill="#fff" stroke="#231f20" stroke-width="2.3"/><path d="M357.4 1672.5L369.6 1672.5L363.5 1682.9Z" fill="#fff" stroke="#231f20" stroke-width="2.3"/><path d="M362.8 1677.4L375.0 1677.4L368.9 1687.8Z" fill="#fff" stroke="#231f20" stroke-width="2.3"/><path d="M368.1 1683.5L380.3 1683.5L374.2 1693.8Z" fill="#fff" stroke="#231f20" stroke-width="2.3"/><path d="M373.5 1691.2L385.7 1691.2L379.6 1701.6Z" fill="#fff" stroke="#231f20" stroke-width="2.3"/><path d="M378.8 1700.0L391.0 1700.0L384.9 1710.4Z" fill="#fff" stroke="#231f20" stroke-width="2.3"/><path d="M384.2 1709.2L396.4 1709.2L390.3 1719.6Z" fill="#fff" stroke="#231f20" stroke-width="2.3"/><path d="M122.6 1713.5 L126.8 1680.7 L131.0 1655.7 L135.1 1639.8 L139.3 1620.1 L143.5 1595.9 L147.7 1575.4 L151.8 1546.9 L156.0 1515.2 L160.2 1471.5 L164.4 1429.9 L168.5 1385.2 L172.7 1343.8 L176.9 1296.7 L181.1 1248.7 L185.2 1227.4 L189.4 1204.8 L193.6 1195.3 L197.8 1193.1 L201.9 1194.8 L206.1 1204.9 L210.3 1219.6 L214.5 1234.2 L218.6 1253.8 L222.8 1280.3 L227.0 1313.1 L231.2 1350.9 L235.4 1382.8 L239.5 1407.6 L243.7 1443.9 L247.9 1470.9 L252.1 1495.0 L256.2 1522.8 L260.4 1553.6 L264.6 1576.0 L268.8 1597.6 L272.9 1615.5 L277.1 1634.8 L281.3 1648.1 L285.5 1659.2 L289.6 1669.3 L293.8 1677.5 L298.0 1684.9 L302.2 1691.9 L306.3 1697.9 L310.5 1702.6 L314.7 1706.2 L318.9 1708.9 L323.0 1710.9 L327.2 1712.4 L331.4 1713.5" fill="none" stroke="#231f20" stroke-width="2.2"/><rect x="117.1" y="1708.0" width="11.0" height="11.0" fill="#231f20"/><rect x="121.3" y="1675.2" width="11.0" height="11.0" fill="#231f20"/><rect x="125.5" y="1650.2" width="11.0" height="11.0" fill="#231f20"/><rect x="129.6" y="1634.3" width="11.0" height="11.0" fill="#231f20"/><rect x="133.8" y="1614.6" width="11.0" height="11.0" fill="#231f20"/><rect x="138.0" y="1590.4" width="11.0" height="11.0" fill="#231f20"/><rect x="142.2" y="1569.9" width="11.0" height="11.0" fill="#231f20"/><rect x="146.3" y="1541.4" width="11.0" height="11.0" fill="#231f20"/><rect x="150.5" y="1509.7" width="11.0" height="11.0" fill="#231f20"/><rect x="154.7" y="1466.0" width="11.0" height="11.0" fill="#231f20"/><rect x="158.9" y="1424.4" width="11.0" height="11.0" fill="#231f20"/><rect x="163.0" y="1379.7" width="11.0" height="11.0" fill="#231f20"/><rect x="167.2" y="1338.3" width="11.0" height="11.0" fill="#231f20"/><rect x="171.4" y="1291.2" width="11.0" height="11.0" fill="#231f20"/><rect x="175.6" y="1243.2" width="11.0" height="11.0" fill="#231f20"/><rect x="179.7" y="1221.9" width="11.0" height="11.0" fill="#231f20"/><rect x="183.9" y="1199.3" width="11.0" height="11.0" fill="#231f20"/><rect x="188.1" y="1189.8" width="11.0" height="11.0" fill="#231f20"/><rect x="192.3" y="1187.6" width="11.0" height="11.0" fill="#231f20"/><rect x="196.4" y="1189.3" width="11.0" height="11.0" fill="#231f20"/><rect x="200.6" y="1199.4" width="11.0" height="11.0" fill="#231f20"/><rect x="204.8" y="1214.1" width="11.0" height="11.0" fill="#231f20"/><rect x="209.0" y="1228.7" width="11.0" height="11.0" fill="#231f20"/><rect x="213.1" y="1248.3" width="11.0" height="11.0" fill="#231f20"/><rect x="217.3" y="1274.8" width="11.0" height="11.0" fill="#231f20"/><rect x="221.5" y="1307.6" width="11.0" height="11.0" fill="#231f20"/><rect x="225.7" y="1345.4" width="11.0" height="11.0" fill="#231f20"/><rect x="229.9" y="1377.3" width="11.0" height="11.0" fill="#231f20"/><rect x="234.0" y="1402.1" width="11.0" height="11.0" fill="#231f20"/><rect x="238.2" y="1438.4" width="11.0" height="11.0" fill="#231f20"/><rect x="242.4" y="1465.4" width="11.0" height="11.0" fill="#231f20"/><rect x="246.6" y="1489.5" width="11.0" height="11.0" fill="#231f20"/><rect x="250.7" y="1517.3" width="11.0" height="11.0" fill="#231f20"/><rect x="254.9" y="1548.1" width="11.0" height="11.0" fill="#231f20"/><rect x="259.1" y="1570.5" width="11.0" height="11.0" fill="#231f20"/><rect x="263.3" y="1592.1" width="11.0" height="11.0" fill="#231f20"/><rect x="267.4" y="1610.0" width="11.0" height="11.0" fill="#231f20"/><rect x="271.6" y="1629.3" width="11.0" height="11.0" fill="#231f20"/><rect x="275.8" y="1642.6" width="11.0" height="11.0" fill="#231f20"/><rect x="280.0" y="1653.7" width="11.0" height="11.0" fill="#231f20"/><rect x="284.1" y="1663.8" width="11.0" height="11.0" fill="#231f20"/><rect x="288.3" y="1672.0" width="11.0" height="11.0" fill="#231f20"/><rect x="292.5" y="1679.4" width="11.0" height="11.0" fill="#231f20"/><rect x="296.7" y="1686.4" width="11.0" height="11.0" fill="#231f20"/><rect x="300.8" y="1692.4" width="11.0" height="11.0" fill="#231f20"/><rect x="305.0" y="1697.1" width="11.0" height="11.0" fill="#231f20"/><rect x="309.2" y="1700.7" width="11.0" height="11.0" fill="#231f20"/><rect x="313.4" y="1703.4" width="11.0" height="11.0" fill="#231f20"/><rect x="317.5" y="1705.4" width="11.0" height="11.0" fill="#231f20"/><rect x="321.7" y="1706.9" width="11.0" height="11.0" fill="#231f20"/><rect x="325.9" y="1708.0" width="11.0" height="11.0" fill="#231f20"/><path d="M122.6 1713.5 L132.7 1698.4 L142.9 1676.0 L153.0 1634.1 L163.1 1584.9 L173.3 1525.5 L183.4 1458.0 L193.5 1397.8 L203.6 1345.9 L213.8 1294.4 L223.9 1257.4 L234.0 1232.1 L244.2 1213.6 L254.3 1201.7 L264.4 1195.2 L274.6 1193.1 L284.7 1195.4 L294.8 1201.7 L305.0 1210.9 L315.1 1224.2 L325.2 1244.7 L335.4 1269.6 L345.5 1298.5 L355.6 1332.6 L365.7 1364.5 L375.9 1399.4 L386.0 1434.1 L396.1 1461.9 L406.3 1486.4 L416.4 1512.6 L426.5 1537.3 L436.7 1559.4 L446.8 1578.4 L456.9 1593.5 L467.1 1607.1 L477.2 1619.8 L487.3 1630.9 L497.4 1640.6 L507.6 1649.0 L517.7 1656.3 L527.8 1661.9 L538.0 1666.6 L548.1 1670.1 L558.2 1673.0 L568.4 1675.9 L578.5 1678.9 L588.6 1682.4 L598.8 1687.0 L608.9 1692.8 L619.0 1700.5 L629.1 1713.5" fill="none" stroke="#231f20" stroke-width="2.2"/><path d="M122.6 1706.9L129.2 1713.5L122.6 1720.1L116.0 1713.5Z" fill="#fff" stroke="#231f20" stroke-width="2.3"/><path d="M132.7 1691.8L139.3 1698.4L132.7 1705.0L126.1 1698.4Z" fill="#fff" stroke="#231f20" stroke-width="2.3"/><path d="M142.9 1669.4L149.5 1676.0L142.9 1682.6L136.3 1676.0Z" fill="#fff" stroke="#231f20" stroke-width="2.3"/><path d="M153.0 1627.5L159.6 1634.1L153.0 1640.7L146.4 1634.1Z" fill="#fff" stroke="#231f20" stroke-width="2.3"/><path d="M163.1 1578.3L169.7 1584.9L163.1 1591.5L156.5 1584.9Z" fill="#fff" stroke="#231f20" stroke-width="2.3"/><path d="M173.3 1518.9L179.9 1525.5L173.3 1532.1L166.7 1525.5Z" fill="#fff" stroke="#231f20" stroke-width="2.3"/><path d="M183.4 1451.4L190.0 1458.0L183.4 1464.6L176.8 1458.0Z" fill="#fff" stroke="#231f20" stroke-width="2.3"/><path d="M193.5 1391.2L200.1 1397.8L193.5 1404.4L186.9 1397.8Z" fill="#fff" stroke="#231f20" stroke-width="2.3"/><path d="M203.6 1339.3L210.2 1345.9L203.6 1352.5L197.0 1345.9Z" fill="#fff" stroke="#231f20" stroke-width="2.3"/><path d="M213.8 1287.8L220.4 1294.4L213.8 1301.0L207.2 1294.4Z" fill="#fff" stroke="#231f20" stroke-width="2.3"/><path d="M223.9 1250.8L230.5 1257.4L223.9 1264.0L217.3 1257.4Z" fill="#fff" stroke="#231f20" stroke-width="2.3"/><path d="M234.0 1225.5L240.6 1232.1L234.0 1238.7L227.4 1232.1Z" fill="#fff" stroke="#231f20" stroke-width="2.3"/><path d="M244.2 1207.0L250.8 1213.6L244.2 1220.2L237.6 1213.6Z" fill="#fff" stroke="#231f20" stroke-width="2.3"/><path d="M254.3 1195.1L260.9 1201.7L254.3 1208.3L247.7 1201.7Z" fill="#fff" stroke="#231f20" stroke-width="2.3"/><path d="M264.4 1188.6L271.0 1195.2L264.4 1201.8L257.8 1195.2Z" fill="#fff" stroke="#231f20" stroke-width="2.3"/><path d="M274.6 1186.5L281.2 1193.1L274.6 1199.7L268.0 1193.1Z" fill="#fff" stroke="#231f20" stroke-width="2.3"/><path d="M284.7 1188.8L291.3 1195.4L284.7 1202.0L278.1 1195.4Z" fill="#fff" stroke="#231f20" stroke-width="2.3"/><path d="M294.8 1195.1L301.4 1201.7L294.8 1208.3L288.2 1201.7Z" fill="#fff" stroke="#231f20" stroke-width="2.3"/><path d="M305.0 1204.3L311.6 1210.9L305.0 1217.5L298.4 1210.9Z" fill="#fff" stroke="#231f20" stroke-width="2.3"/><path d="M315.1 1217.6L321.7 1224.2L315.1 1230.8L308.5 1224.2Z" fill="#fff" stroke="#231f20" stroke-width="2.3"/><path d="M325.2 1238.1L331.8 1244.7L325.2 1251.3L318.6 1244.7Z" fill="#fff" stroke="#231f20" stroke-width="2.3"/><path d="M335.4 1263.0L342.0 1269.6L335.4 1276.2L328.8 1269.6Z" fill="#fff" stroke="#231f20" stroke-width="2.3"/><path d="M345.5 1291.9L352.1 1298.5L345.5 1305.1L338.9 1298.5Z" fill="#fff" stroke="#231f20" stroke-width="2.3"/><path d="M355.6 1326.0L362.2 1332.6L355.6 1339.2L349.0 1332.6Z" fill="#fff" stroke="#231f20" stroke-width="2.3"/><path d="M365.7 1357.9L372.3 1364.5L365.7 1371.1L359.1 1364.5Z" fill="#fff" stroke="#231f20" stroke-width="2.3"/><path d="M375.9 1392.8L382.5 1399.4L375.9 1406.0L369.3 1399.4Z" fill="#fff" stroke="#231f20" stroke-width="2.3"/><path d="M386.0 1427.5L392.6 1434.1L386.0 1440.7L379.4 1434.1Z" fill="#fff" stroke="#231f20" stroke-width="2.3"/><path d="M396.1 1455.3L402.7 1461.9L396.1 1468.5L389.5 1461.9Z" fill="#fff" stroke="#231f20" stroke-width="2.3"/><path d="M406.3 1479.8L412.9 1486.4L406.3 1493.0L399.7 1486.4Z" fill="#fff" stroke="#231f20" stroke-width="2.3"/><path d="M416.4 1506.0L423.0 1512.6L416.4 1519.2L409.8 1512.6Z" fill="#fff" stroke="#231f20" stroke-width="2.3"/><path d="M426.5 1530.7L433.1 1537.3L426.5 1543.9L419.9 1537.3Z" fill="#fff" stroke="#231f20" stroke-width="2.3"/><path d="M436.7 1552.8L443.3 1559.4L436.7 1566.0L430.1 1559.4Z" fill="#fff" stroke="#231f20" stroke-width="2.3"/><path d="M446.8 1571.8L453.4 1578.4L446.8 1585.0L440.2 1578.4Z" fill="#fff" stroke="#231f20" stroke-width="2.3"/><path d="M456.9 1586.9L463.5 1593.5L456.9 1600.1L450.3 1593.5Z" fill="#fff" stroke="#231f20" stroke-width="2.3"/><path d="M467.1 1600.5L473.7 1607.1L467.1 1613.7L460.5 1607.1Z" fill="#fff" stroke="#231f20" stroke-width="2.3"/><path d="M477.2 1613.2L483.8 1619.8L477.2 1626.4L470.6 1619.8Z" fill="#fff" stroke="#231f20" stroke-width="2.3"/><path d="M487.3 1624.3L493.9 1630.9L487.3 1637.5L480.7 1630.9Z" fill="#fff" stroke="#231f20" stroke-width="2.3"/><path d="M497.4 1634.0L504.0 1640.6L497.4 1647.2L490.8 1640.6Z" fill="#fff" stroke="#231f20" stroke-width="2.3"/><path d="M507.6 1642.4L514.2 1649.0L507.6 1655.6L501.0 1649.0Z" fill="#fff" stroke="#231f20" stroke-width="2.3"/><path d="M517.7 1649.7L524.3 1656.3L517.7 1662.9L511.1 1656.3Z" fill="#fff" stroke="#231f20" stroke-width="2.3"/><path d="M527.8 1655.3L534.4 1661.9L527.8 1668.5L521.2 1661.9Z" fill="#fff" stroke="#231f20" stroke-width="2.3"/><path d="M538.0 1660.0L544.6 1666.6L538.0 1673.2L531.4 1666.6Z" fill="#fff" stroke="#231f20" stroke-width="2.3"/><path d="M548.1 1663.5L554.7 1670.1L548.1 1676.7L541.5 1670.1Z" fill="#fff" stroke="#231f20" stroke-width="2.3"/><path d="M558.2 1666.4L564.8 1673.0L558.2 1679.6L551.6 1673.0Z" fill="#fff" stroke="#231f20" stroke-width="2.3"/><path d="M568.4 1669.3L575.0 1675.9L568.4 1682.5L561.8 1675.9Z" fill="#fff" stroke="#231f20" stroke-width="2.3"/><path d="M578.5 1672.3L585.1 1678.9L578.5 1685.5L571.9 1678.9Z" fill="#fff" stroke="#231f20" stroke-width="2.3"/><path d="M588.6 1675.8L595.2 1682.4L588.6 1689.0L582.0 1682.4Z" fill="#fff" stroke="#231f20" stroke-width="2.3"/><path d="M598.8 1680.4L605.4 1687.0L598.8 1693.6L592.2 1687.0Z" fill="#fff" stroke="#231f20" stroke-width="2.3"/><path d="M608.9 1686.2L615.5 1692.8L608.9 1699.4L602.3 1692.8Z" fill="#fff" stroke="#231f20" stroke-width="2.3"/><path d="M619.0 1693.9L625.6 1700.5L619.0 1707.1L612.4 1700.5Z" fill="#fff" stroke="#231f20" stroke-width="2.3"/><path d="M629.1 1706.9L635.7 1713.5L629.1 1720.1L622.5 1713.5Z" fill="#fff" stroke="#231f20" stroke-width="2.3"/><path d="M122.6 1713.5 L131.7 1698.0 L140.7 1674.5 L149.8 1633.2 L158.8 1588.3 L167.9 1533.8 L177.0 1478.8 L186.0 1427.9 L195.1 1376.4 L204.2 1326.5 L213.2 1290.3 L222.3 1258.0 L231.3 1229.2 L240.4 1208.8 L249.5 1197.7 L258.5 1193.6 L267.6 1194.5 L276.7 1201.1 L285.7 1212.7 L294.8 1226.8 L303.8 1245.1 L312.9 1268.0 L322.0 1295.1 L331.0 1325.8 L340.1 1357.1 L349.1 1390.3 L358.2 1422.7 L367.3 1451.0 L376.3 1475.2 L385.4 1496.2 L394.5 1519.9 L403.5 1549.7 L412.6 1572.3 L421.6 1591.2 L430.7 1606.7 L439.8 1617.9 L448.8 1627.4 L457.9 1635.7 L467.0 1643.2 L476.0 1649.9 L485.1 1656.4 L494.1 1662.1 L503.2 1666.1 L512.3 1669.2 L521.3 1672.7 L530.4 1676.3 L539.4 1680.5 L548.5 1685.9 L557.6 1693.0 L566.6 1701.5 L575.7 1713.5" fill="none" stroke="#231f20" stroke-width="2.2"/><path d="M122.6 1706.6L129.5 1718.7L115.7 1718.7Z" fill="#231f20"/><path d="M131.7 1691.1L138.6 1703.2L124.8 1703.2Z" fill="#231f20"/><path d="M140.7 1667.6L147.6 1679.6L133.8 1679.6Z" fill="#231f20"/><path d="M149.8 1626.3L156.7 1638.4L142.9 1638.4Z" fill="#231f20"/><path d="M158.8 1581.4L165.7 1593.5L151.9 1593.5Z" fill="#231f20"/><path d="M167.9 1526.9L174.8 1539.0L161.0 1539.0Z" fill="#231f20"/><path d="M177.0 1471.9L183.9 1484.0L170.1 1484.0Z" fill="#231f20"/><path d="M186.0 1421.0L192.9 1433.1L179.1 1433.1Z" fill="#231f20"/><path d="M195.1 1369.5L202.0 1381.5L188.2 1381.5Z" fill="#231f20"/><path d="M204.2 1319.6L211.1 1331.7L197.3 1331.7Z" fill="#231f20"/><path d="M213.2 1283.4L220.1 1295.5L206.3 1295.5Z" fill="#231f20"/><path d="M222.3 1251.1L229.2 1263.1L215.4 1263.1Z" fill="#231f20"/><path d="M231.3 1222.3L238.2 1234.4L224.4 1234.4Z" fill="#231f20"/><path d="M240.4 1201.9L247.3 1214.0L233.5 1214.0Z" fill="#231f20"/><path d="M249.5 1190.8L256.4 1202.9L242.6 1202.9Z" fill="#231f20"/><path d="M258.5 1186.7L265.4 1198.8L251.6 1198.8Z" fill="#231f20"/><path d="M267.6 1187.6L274.5 1199.6L260.7 1199.6Z" fill="#231f20"/><path d="M276.7 1194.2L283.6 1206.3L269.8 1206.3Z" fill="#231f20"/><path d="M285.7 1205.8L292.6 1217.8L278.8 1217.8Z" fill="#231f20"/><path d="M294.8 1219.9L301.7 1231.9L287.9 1231.9Z" fill="#231f20"/><path d="M303.8 1238.2L310.7 1250.3L296.9 1250.3Z" fill="#231f20"/><path d="M312.9 1261.1L319.8 1273.2L306.0 1273.2Z" fill="#231f20"/><path d="M322.0 1288.2L328.9 1300.3L315.1 1300.3Z" fill="#231f20"/><path d="M331.0 1318.9L337.9 1331.0L324.1 1331.0Z" fill="#231f20"/><path d="M340.1 1350.2L347.0 1362.3L333.2 1362.3Z" fill="#231f20"/><path d="M349.1 1383.4L356.0 1395.5L342.2 1395.5Z" fill="#231f20"/><path d="M358.2 1415.8L365.1 1427.9L351.3 1427.9Z" fill="#231f20"/><path d="M367.3 1444.1L374.2 1456.2L360.4 1456.2Z" fill="#231f20"/><path d="M376.3 1468.3L383.2 1480.3L369.4 1480.3Z" fill="#231f20"/><path d="M385.4 1489.3L392.3 1501.4L378.5 1501.4Z" fill="#231f20"/><path d="M394.5 1513.0L401.4 1525.1L387.6 1525.1Z" fill="#231f20"/><path d="M403.5 1542.8L410.4 1554.8L396.6 1554.8Z" fill="#231f20"/><path d="M412.6 1565.4L419.5 1577.4L405.7 1577.4Z" fill="#231f20"/><path d="M421.6 1584.3L428.5 1596.4L414.7 1596.4Z" fill="#231f20"/><path d="M430.7 1599.8L437.6 1611.9L423.8 1611.9Z" fill="#231f20"/><path d="M439.8 1611.0L446.7 1623.0L432.9 1623.0Z" fill="#231f20"/><path d="M448.8 1620.5L455.7 1632.6L441.9 1632.6Z" fill="#231f20"/><path d="M457.9 1628.8L464.8 1640.9L451.0 1640.9Z" fill="#231f20"/><path d="M467.0 1636.3L473.9 1648.3L460.1 1648.3Z" fill="#231f20"/><path d="M476.0 1643.0L482.9 1655.1L469.1 1655.1Z" fill="#231f20"/><path d="M485.1 1649.5L492.0 1661.6L478.2 1661.6Z" fill="#231f20"/><path d="M494.1 1655.2L501.0 1667.3L487.2 1667.3Z" fill="#231f20"/><path d="M503.2 1659.2L510.1 1671.3L496.3 1671.3Z" fill="#231f20"/><path d="M512.3 1662.3L519.2 1674.4L505.4 1674.4Z" fill="#231f20"/><path d="M521.3 1665.8L528.2 1677.8L514.4 1677.8Z" fill="#231f20"/><path d="M530.4 1669.4L537.3 1681.5L523.5 1681.5Z" fill="#231f20"/><path d="M539.4 1673.6L546.3 1685.7L532.5 1685.7Z" fill="#231f20"/><path d="M548.5 1679.0L555.4 1691.1L541.6 1691.1Z" fill="#231f20"/><path d="M557.6 1686.1L564.5 1698.1L550.7 1698.1Z" fill="#231f20"/><path d="M566.6 1694.6L573.5 1706.7L559.7 1706.7Z" fill="#231f20"/><path d="M575.7 1706.6L582.6 1718.7L568.8 1718.7Z" fill="#231f20"/><path d="M122.6 1713.5 L132.5 1703.3 L142.5 1680.5 L152.4 1645.3 L162.4 1603.3 L172.3 1555.8 L182.2 1504.8 L192.2 1448.9 L202.1 1395.7 L212.0 1350.2 L222.0 1305.8 L231.9 1267.2 L241.9 1241.9 L251.8 1223.5 L261.7 1207.6 L271.7 1195.8 L281.6 1193.1 L291.6 1195.0 L301.5 1201.4 L311.4 1213.7 L321.4 1233.2 L331.3 1260.4 L341.3 1289.8 L351.2 1326.8 L361.1 1357.6 L371.1 1392.2 L381.0 1427.7 L390.9 1458.8 L400.9 1482.3 L410.8 1508.8 L420.8 1533.9 L430.7 1556.3 L440.6 1575.4 L450.6 1590.9 L460.5 1604.4 L470.5 1617.6 L480.4 1629.2 L490.3 1639.4 L500.3 1648.1 L510.2 1655.7 L520.2 1661.8 L530.1 1666.9 L540.0 1671.0 L550.0 1674.0 L559.9 1676.7 L569.8 1679.6 L579.8 1682.7 L589.7 1687.0 L599.7 1693.0 L609.6 1700.5 L619.5 1713.5" fill="none" stroke="#231f20" stroke-width="2.2"/><polygon points="127.7,1716.5 122.6,1719.4 117.5,1716.5 117.5,1710.5 122.6,1707.6 127.7,1710.5" fill="#fff" stroke="#231f20" stroke-width="2.3"/><polygon points="137.6,1706.3 132.5,1709.2 127.4,1706.3 127.4,1700.4 132.5,1697.4 137.6,1700.4" fill="#fff" stroke="#231f20" stroke-width="2.3"/><polygon points="147.6,1683.5 142.5,1686.4 137.4,1683.5 137.4,1677.6 142.5,1674.6 147.6,1677.6" fill="#fff" stroke="#231f20" stroke-width="2.3"/><polygon points="157.5,1648.3 152.4,1651.2 147.3,1648.3 147.3,1642.4 152.4,1639.4 157.5,1642.4" fill="#fff" stroke="#231f20" stroke-width="2.3"/><polygon points="167.5,1606.3 162.4,1609.2 157.2,1606.3 157.2,1600.4 162.4,1597.4 167.5,1600.4" fill="#fff" stroke="#231f20" stroke-width="2.3"/><polygon points="177.4,1558.8 172.3,1561.7 167.2,1558.8 167.2,1552.9 172.3,1549.9 177.4,1552.9" fill="#fff" stroke="#231f20" stroke-width="2.3"/><polygon points="187.3,1507.7 182.2,1510.7 177.1,1507.7 177.1,1501.8 182.2,1498.9 187.3,1501.8" fill="#fff" stroke="#231f20" stroke-width="2.3"/><polygon points="197.3,1451.9 192.2,1454.8 187.1,1451.9 187.1,1446.0 192.2,1443.0 197.3,1446.0" fill="#fff" stroke="#231f20" stroke-width="2.3"/><polygon points="207.2,1398.6 202.1,1401.6 197.0,1398.6 197.0,1392.7 202.1,1389.8 207.2,1392.7" fill="#fff" stroke="#231f20" stroke-width="2.3"/><polygon points="217.2,1353.2 212.0,1356.1 206.9,1353.2 206.9,1347.3 212.0,1344.3 217.2,1347.3" fill="#fff" stroke="#231f20" stroke-width="2.3"/><polygon points="227.1,1308.8 222.0,1311.7 216.9,1308.8 216.9,1302.9 222.0,1299.9 227.1,1302.9" fill="#fff" stroke="#231f20" stroke-width="2.3"/><polygon points="237.0,1270.1 231.9,1273.1 226.8,1270.1 226.8,1264.2 231.9,1261.3 237.0,1264.2" fill="#fff" stroke="#231f20" stroke-width="2.3"/><polygon points="247.0,1244.9 241.9,1247.8 236.8,1244.9 236.8,1239.0 241.9,1236.0 247.0,1239.0" fill="#fff" stroke="#231f20" stroke-width="2.3"/><polygon points="256.9,1226.4 251.8,1229.4 246.7,1226.4 246.7,1220.5 251.8,1217.6 256.9,1220.5" fill="#fff" stroke="#231f20" stroke-width="2.3"/><polygon points="266.9,1210.6 261.7,1213.5 256.6,1210.6 256.6,1204.7 261.7,1201.7 266.9,1204.7" fill="#fff" stroke="#231f20" stroke-width="2.3"/><polygon points="276.8,1198.7 271.7,1201.7 266.6,1198.7 266.6,1192.8 271.7,1189.9 276.8,1192.8" fill="#fff" stroke="#231f20" stroke-width="2.3"/><polygon points="286.7,1196.0 281.6,1199.0 276.5,1196.0 276.5,1190.1 281.6,1187.2 286.7,1190.1" fill="#fff" stroke="#231f20" stroke-width="2.3"/><polygon points="296.7,1198.0 291.6,1200.9 286.5,1198.0 286.5,1192.1 291.6,1189.1 296.7,1192.1" fill="#fff" stroke="#231f20" stroke-width="2.3"/><polygon points="306.6,1204.3 301.5,1207.3 296.4,1204.3 296.4,1198.4 301.5,1195.5 306.6,1198.4" fill="#fff" stroke="#231f20" stroke-width="2.3"/><polygon points="316.5,1216.6 311.4,1219.6 306.3,1216.6 306.3,1210.7 311.4,1207.8 316.5,1210.7" fill="#fff" stroke="#231f20" stroke-width="2.3"/><polygon points="326.5,1236.1 321.4,1239.1 316.3,1236.1 316.3,1230.2 321.4,1227.3 326.5,1230.2" fill="#fff" stroke="#231f20" stroke-width="2.3"/><polygon points="336.4,1263.4 331.3,1266.3 326.2,1263.4 326.2,1257.5 331.3,1254.5 336.4,1257.5" fill="#fff" stroke="#231f20" stroke-width="2.3"/><polygon points="346.4,1292.7 341.3,1295.7 336.1,1292.7 336.1,1286.8 341.3,1283.9 346.4,1286.8" fill="#fff" stroke="#231f20" stroke-width="2.3"/><polygon points="356.3,1329.8 351.2,1332.7 346.1,1329.8 346.1,1323.9 351.2,1320.9 356.3,1323.9" fill="#fff" stroke="#231f20" stroke-width="2.3"/><polygon points="366.2,1360.5 361.1,1363.5 356.0,1360.5 356.0,1354.6 361.1,1351.7 366.2,1354.6" fill="#fff" stroke="#231f20" stroke-width="2.3"/><polygon points="376.2,1395.1 371.1,1398.1 366.0,1395.1 366.0,1389.2 371.1,1386.3 376.2,1389.2" fill="#fff" stroke="#231f20" stroke-width="2.3"/><polygon points="386.1,1430.7 381.0,1433.6 375.9,1430.7 375.9,1424.8 381.0,1421.8 386.1,1424.8" fill="#fff" stroke="#231f20" stroke-width="2.3"/><polygon points="396.1,1461.7 390.9,1464.7 385.8,1461.7 385.8,1455.8 390.9,1452.9 396.1,1455.8" fill="#fff" stroke="#231f20" stroke-width="2.3"/><polygon points="406.0,1485.3 400.9,1488.2 395.8,1485.3 395.8,1479.4 400.9,1476.4 406.0,1479.4" fill="#fff" stroke="#231f20" stroke-width="2.3"/><polygon points="415.9,1511.7 410.8,1514.7 405.7,1511.7 405.7,1505.8 410.8,1502.9 415.9,1505.8" fill="#fff" stroke="#231f20" stroke-width="2.3"/><polygon points="425.9,1536.8 420.8,1539.8 415.7,1536.8 415.7,1530.9 420.8,1528.0 425.9,1530.9" fill="#fff" stroke="#231f20" stroke-width="2.3"/><polygon points="435.8,1559.3 430.7,1562.2 425.6,1559.3 425.6,1553.4 430.7,1550.4 435.8,1553.4" fill="#fff" stroke="#231f20" stroke-width="2.3"/><polygon points="445.8,1578.3 440.6,1581.3 435.5,1578.3 435.5,1572.4 440.6,1569.5 445.8,1572.4" fill="#fff" stroke="#231f20" stroke-width="2.3"/><polygon points="455.7,1593.8 450.6,1596.8 445.5,1593.8 445.5,1587.9 450.6,1585.0 455.7,1587.9" fill="#fff" stroke="#231f20" stroke-width="2.3"/><polygon points="465.6,1607.4 460.5,1610.3 455.4,1607.4 455.4,1601.5 460.5,1598.5 465.6,1601.5" fill="#fff" stroke="#231f20" stroke-width="2.3"/><polygon points="475.6,1620.5 470.5,1623.5 465.4,1620.5 465.4,1614.6 470.5,1611.7 475.6,1614.6" fill="#fff" stroke="#231f20" stroke-width="2.3"/><polygon points="485.5,1632.1 480.4,1635.1 475.3,1632.1 475.3,1626.2 480.4,1623.3 485.5,1626.2" fill="#fff" stroke="#231f20" stroke-width="2.3"/><polygon points="495.4,1642.3 490.3,1645.3 485.2,1642.3 485.2,1636.4 490.3,1633.5 495.4,1636.4" fill="#fff" stroke="#231f20" stroke-width="2.3"/><polygon points="505.4,1651.0 500.3,1654.0 495.2,1651.0 495.2,1645.1 500.3,1642.2 505.4,1645.1" fill="#fff" stroke="#231f20" stroke-width="2.3"/><polygon points="515.3,1658.6 510.2,1661.6 505.1,1658.6 505.1,1652.7 510.2,1649.8 515.3,1652.7" fill="#fff" stroke="#231f20" stroke-width="2.3"/><polygon points="525.3,1664.7 520.2,1667.7 515.0,1664.7 515.0,1658.8 520.2,1655.9 525.3,1658.8" fill="#fff" stroke="#231f20" stroke-width="2.3"/><polygon points="535.2,1669.9 530.1,1672.8 525.0,1669.9 525.0,1664.0 530.1,1661.0 535.2,1664.0" fill="#fff" stroke="#231f20" stroke-width="2.3"/><polygon points="545.1,1673.9 540.0,1676.9 534.9,1673.9 534.9,1668.0 540.0,1665.1 545.1,1668.0" fill="#fff" stroke="#231f20" stroke-width="2.3"/><polygon points="555.1,1676.9 550.0,1679.9 544.9,1676.9 544.9,1671.0 550.0,1668.1 555.1,1671.0" fill="#fff" stroke="#231f20" stroke-width="2.3"/><polygon points="565.0,1679.7 559.9,1682.6 554.8,1679.7 554.8,1673.8 559.9,1670.8 565.0,1673.8" fill="#fff" stroke="#231f20" stroke-width="2.3"/><polygon points="575.0,1682.6 569.8,1685.5 564.7,1682.6 564.7,1676.7 569.8,1673.7 575.0,1676.7" fill="#fff" stroke="#231f20" stroke-width="2.3"/><polygon points="584.9,1685.7 579.8,1688.6 574.7,1685.7 574.7,1679.8 579.8,1676.8 584.9,1679.8" fill="#fff" stroke="#231f20" stroke-width="2.3"/><polygon points="594.8,1690.0 589.7,1692.9 584.6,1690.0 584.6,1684.1 589.7,1681.1 594.8,1684.1" fill="#fff" stroke="#231f20" stroke-width="2.3"/><polygon points="604.8,1695.9 599.7,1698.9 594.6,1695.9 594.6,1690.0 599.7,1687.1 604.8,1690.0" fill="#fff" stroke="#231f20" stroke-width="2.3"/><polygon points="614.7,1703.4 609.6,1706.4 604.5,1703.4 604.5,1697.5 609.6,1694.6 614.7,1697.5" fill="#fff" stroke="#231f20" stroke-width="2.3"/><polygon points="624.7,1716.5 619.5,1719.4 614.4,1716.5 614.4,1710.5 619.5,1707.6 624.7,1710.5" fill="#fff" stroke="#231f20" stroke-width="2.3"/><g stroke="#231f20" stroke-width="3" fill="none"><path d="M123.5 1177V1715M122 1713.5H660"/><path d="M115 1713.5H123.5M115 1609.4H123.5M115 1505.3H123.5M115 1401.2H123.5M115 1297.1H123.5M115 1193.0H123.5M206.1 1713.5V1722M289.6 1713.5V1722M373.2 1713.5V1722M456.7 1713.5V1722M540.2 1713.5V1722M623.7 1713.5V1722"/></g><g font-family="Liberation Sans, sans-serif" font-size="28.5" fill="#231f20" text-anchor="end"><text x="102.5" y="1723.5">0.0</text><text x="102.5" y="1619.4">0.2</text><text x="102.5" y="1515.3">0.4</text><text x="102.5" y="1411.2">0.6</text><text x="102.5" y="1307.1">0.8</text><text x="102.5" y="1203.0">1.0</text></g><g font-family="Liberation Sans, sans-serif" font-size="28.5" fill="#231f20" text-anchor="middle"><text x="122.9" y="1755.3">0</text><text x="289.9" y="1755.3">40</text><text x="457.0" y="1755.3">80</text><text x="624.0" y="1755.3">120</text></g><text font-family="Liberation Sans, sans-serif" font-size="27.5" fill="#231f20" x="0" y="0" transform="translate(24.3 1450) rotate(-90)" text-anchor="middle">p (r) (relative)</text><text font-family="Liberation Sans, sans-serif" font-size="28" fill="#231f20" x="355" y="1791" >r (Å)</text><text font-family="Liberation Sans, sans-serif" font-size="33" font-weight="bold" fill="#231f20" x="1" y="1186">b</text><path d="M437.4 1216.2H595" stroke="#231f20" stroke-width="2.9"/><circle cx="515.5" cy="1216.2" r="7.2" fill="#231f20"/><path d="M437.4 1268.0H595" stroke="#231f20" stroke-width="2.9"/><path d="M508.8 1263.3L522.2 1263.3L515.5 1274.7Z" fill="#fff" stroke="#231f20" stroke-width="2.3"/><path d="M437.4 1319.8H595" stroke="#231f20" stroke-width="2.9"/><rect x="509.4" y="1313.8" width="12.1" height="12.1" fill="#231f20"/><path d="M437.4 1371.6H595" stroke="#231f20" stroke-width="2.9"/><path d="M515.5 1364.3L522.8 1371.6L515.5 1378.9L508.2 1371.6Z" fill="#fff" stroke="#231f20" stroke-width="2.3"/><path d="M437.4 1423.4H595" stroke="#231f20" stroke-width="2.9"/><path d="M515.5 1415.8L523.1 1429.1L507.9 1429.1Z" fill="#231f20"/><path d="M437.4 1475.2H595" stroke="#231f20" stroke-width="2.9"/><polygon points="521.1,1478.4 515.5,1481.7 509.9,1478.4 509.9,1472.0 515.5,1468.7 521.1,1472.0" fill="#fff" stroke="#231f20" stroke-width="2.3"/><g font-family="Liberation Sans, sans-serif" font-size="26" fill="#231f20" text-anchor="middle"><text x="616.5" y="1225.4">1</text><text x="616.5" y="1277.2">2</text><text x="616.5" y="1329.0">3</text><text x="616.5" y="1380.8">4</text><text x="616.5" y="1432.6">5</text><text x="616.5" y="1484.4">6</text></g></svg>
</body></html>
